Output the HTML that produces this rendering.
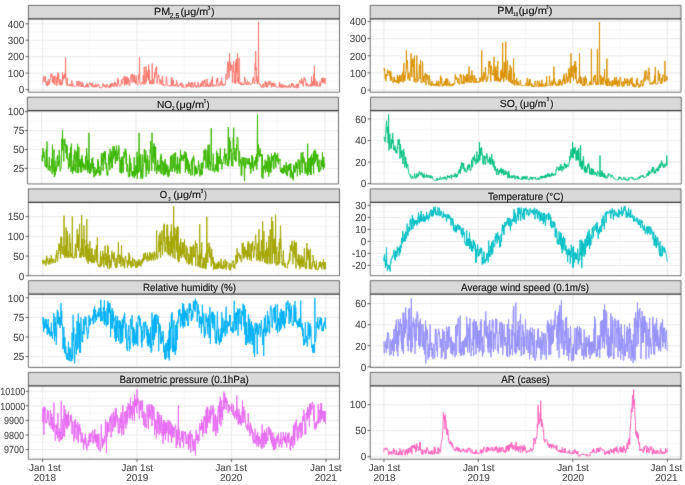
<!DOCTYPE html><html><head><meta charset="utf-8"><style>html,body{margin:0;padding:0;background:#fff;}svg{display:block;} text{font-family:"Liberation Sans", sans-serif;text-rendering:geometricPrecision;}</style></head><body>
<svg width="685" height="485" viewBox="0 0 685 485">
<defs><filter id="bl" x="0" y="0" width="685" height="485" filterUnits="userSpaceOnUse" color-interpolation-filters="sRGB"><feConvolveMatrix order="3" kernelMatrix="1 6 1 6 36 6 1 6 1" divisor="64" edgeMode="duplicate"/></filter><filter id="bt" x="0" y="0" width="685" height="485" filterUnits="userSpaceOnUse" color-interpolation-filters="sRGB"><feConvolveMatrix order="3" kernelMatrix="0 0 0 0 1 0 0 0 0" divisor="1" preserveAlpha="false" edgeMode="none"/></filter></defs><g filter="url(#bl)">
<rect x="0" y="0" width="685" height="485" fill="#fff"/>
<line x1="28.4" x2="339.5" y1="89.6" y2="89.6" stroke="#EBEBEB" stroke-width="1.1"/>
<line x1="28.4" x2="339.5" y1="81.36" y2="81.36" stroke="#F2F2F2" stroke-width="0.6"/>
<line x1="28.4" x2="339.5" y1="73.13" y2="73.13" stroke="#EBEBEB" stroke-width="1.1"/>
<line x1="28.4" x2="339.5" y1="64.89" y2="64.89" stroke="#F2F2F2" stroke-width="0.6"/>
<line x1="28.4" x2="339.5" y1="56.66" y2="56.66" stroke="#EBEBEB" stroke-width="1.1"/>
<line x1="28.4" x2="339.5" y1="48.43" y2="48.43" stroke="#F2F2F2" stroke-width="0.6"/>
<line x1="28.4" x2="339.5" y1="40.19" y2="40.19" stroke="#EBEBEB" stroke-width="1.1"/>
<line x1="28.4" x2="339.5" y1="31.96" y2="31.96" stroke="#F2F2F2" stroke-width="0.6"/>
<line x1="28.4" x2="339.5" y1="23.72" y2="23.72" stroke="#EBEBEB" stroke-width="1.1"/>
<line x1="42.6" x2="42.6" y1="18.95" y2="92.2" stroke="#EBEBEB" stroke-width="1.1"/>
<line x1="89.79" x2="89.79" y1="18.95" y2="92.2" stroke="#F2F2F2" stroke-width="0.6"/>
<line x1="136.98" x2="136.98" y1="18.95" y2="92.2" stroke="#EBEBEB" stroke-width="1.1"/>
<line x1="184.17" x2="184.17" y1="18.95" y2="92.2" stroke="#F2F2F2" stroke-width="0.6"/>
<line x1="231.36" x2="231.36" y1="18.95" y2="92.2" stroke="#EBEBEB" stroke-width="1.1"/>
<line x1="278.68" x2="278.68" y1="18.95" y2="92.2" stroke="#F2F2F2" stroke-width="0.6"/>
<line x1="326" x2="326" y1="18.95" y2="92.2" stroke="#EBEBEB" stroke-width="1.1"/>
<polyline fill="none" stroke="#F8766D" stroke-width="0.95" stroke-linejoin="round" points="42.6,81.75 42.86,82.34 43.12,81.58 43.38,77.81 43.63,76.42 43.89,76.44 44.15,76.55 44.41,81.61 44.67,81.32 44.93,78.72 45.19,76.06 45.44,76.36 45.7,82.58 45.96,81.39 46.22,81.94 46.48,84.5 46.74,85.9 47,85.28 47.25,85.76 47.51,86.03 47.77,81.74 48.03,85.37 48.29,79.5 48.55,80.04 48.81,80.09 49.06,79.09 49.32,82 49.58,84.28 49.84,82.04 50.1,80.1 50.36,79.47 50.62,78.43 50.87,74.99 51.13,73.27 51.39,75.11 51.65,77.02 51.91,74.03 52.17,78.19 52.43,82.29 52.68,79.1 52.94,82.88 53.2,77.35 53.46,76.16 53.72,83.34 53.98,77 54.24,81.1 54.49,76.42 54.75,85.06 55.01,75.99 55.27,76.27 55.53,76.12 55.79,76.35 56.05,78.52 56.3,81.86 56.56,81.22 56.82,85.98 57.08,76.94 57.34,82.36 57.6,76.2 57.86,72.65 58.11,79.33 58.37,79.17 58.63,73.44 58.89,82.34 59.15,84.31 59.41,83.24 59.67,84.25 59.92,79.04 60.18,84.95 60.44,85.15 60.7,79.83 60.96,84.55 61.22,85.24 61.48,83.58 61.73,81.8 61.99,82.42 62.25,84.61 62.51,72.26 62.77,80.96 63.03,76.23 63.29,77.25 63.54,79.41 63.8,74.98 64.06,75.8 64.32,78.33 64.58,73.83 64.84,73.11 65.1,75.44 65.35,78.44 65.61,57.21 65.87,78.14 66.13,83.58 66.39,83.63 66.65,85.31 66.91,84.8 67.16,77.81 67.42,82.39 67.68,84.73 67.94,85.71 68.2,85.53 68.46,85.44 68.72,84.52 68.97,85.85 69.23,86 69.49,85.37 69.75,86.08 70.01,85.08 70.27,83.82 70.53,85.55 70.78,84.77 71.04,85.5 71.3,86.13 71.56,84.68 71.82,80.46 72.08,83.69 72.34,86.26 72.59,86.22 72.85,83.72 73.11,85.39 73.37,85.87 73.63,86.22 73.89,86.07 74.15,86.45 74.4,86.47 74.66,86.5 74.92,86.5 75.18,86.18 75.44,86.08 75.7,86.58 75.96,86.56 76.21,86.06 76.47,85.47 76.73,83.34 76.99,80.98 77.25,85.25 77.51,85.72 77.77,86.06 78.03,85.92 78.28,81.39 78.54,84.33 78.8,84.88 79.06,86.58 79.32,81.28 79.58,81.35 79.84,81.49 80.09,84.34 80.35,83.76 80.61,84.23 80.87,82.2 81.13,87.08 81.39,84.75 81.65,86.65 81.9,86.68 82.16,85.2 82.42,82.4 82.68,86.64 82.94,83.66 83.2,85.88 83.46,86.55 83.71,86.62 83.97,86.93 84.23,87.42 84.49,87.47 84.75,87.32 85.01,87.13 85.27,86.01 85.52,85.51 85.78,87.39 86.04,87.48 86.3,86.45 86.56,84.13 86.82,84.75 87.08,86.8 87.33,83.3 87.59,86.57 87.85,85.13 88.11,87.37 88.37,85.94 88.63,85.67 88.89,84.98 89.14,84.82 89.4,82.8 89.66,82.73 89.92,84.74 90.18,83.75 90.44,84.83 90.7,84.94 90.95,84.82 91.21,83.42 91.47,86.44 91.73,86.54 91.99,85.59 92.25,82.71 92.51,83.79 92.76,86.27 93.02,87.44 93.28,86.36 93.54,85.28 93.8,84.83 94.06,86.66 94.32,86.46 94.57,86.76 94.83,85.14 95.09,87.03 95.35,87.52 95.61,86.78 95.87,83.75 96.13,84.84 96.38,86.03 96.64,86.84 96.9,86.78 97.16,86.84 97.42,85.64 97.68,86 97.94,84.49 98.19,85.64 98.45,84.89 98.71,84.3 98.97,84.56 99.23,87.54 99.49,87.72 99.75,87.17 100,87.53 100.26,87.63 100.52,87.17 100.78,87.78 101.04,87.81 101.3,87.82 101.56,87.84 101.81,87.35 102.07,87.03 102.33,87.19 102.59,86.48 102.85,83.46 103.11,83.49 103.37,85.65 103.62,85.72 103.88,85.92 104.14,87.06 104.4,85.86 104.66,84.64 104.92,85.92 105.18,85.21 105.43,86.7 105.69,86.55 105.95,87.94 106.21,86.49 106.47,86.95 106.73,84.21 106.99,83.95 107.24,84.77 107.5,84.55 107.76,85.05 108.02,86.82 108.28,87.53 108.54,86.8 108.8,86.55 109.05,86.01 109.31,85.32 109.57,87.84 109.83,87.66 110.09,85.51 110.35,84.26 110.61,87.35 110.86,84.29 111.12,86.49 111.38,85.86 111.64,83.24 111.9,86.21 112.16,85.65 112.42,83.41 112.67,84.07 112.93,85.43 113.19,86.32 113.45,86.93 113.71,86.65 113.97,83.4 114.23,82.19 114.48,82.91 114.74,86.59 115,85.32 115.26,85.4 115.52,82.38 115.78,82.19 116.04,84.3 116.29,85.95 116.55,86.47 116.81,85.56 117.07,86.5 117.33,85.06 117.59,81.66 117.85,77.73 118.1,82.97 118.36,80.14 118.62,81 118.88,84.74 119.14,85.49 119.4,85.49 119.66,86.34 119.91,86.25 120.17,86.12 120.43,85.74 120.69,86.08 120.95,86.02 121.21,82.12 121.47,79.63 121.72,82.8 121.98,84.07 122.24,83.95 122.5,84.05 122.76,83.01 123.02,78.31 123.28,78.06 123.53,79.57 123.79,79.37 124.05,76.39 124.31,77.44 124.57,85.69 124.83,81.7 125.09,76.68 125.34,77.17 125.6,83.17 125.86,84.12 126.12,76.63 126.38,76.82 126.64,84.99 126.9,82.59 127.15,76.81 127.41,81.96 127.67,83.07 127.93,84.08 128.19,78.01 128.45,80.97 128.71,81.61 128.96,80.22 129.22,85.96 129.48,85.81 129.74,85.19 130,83.24 130.26,79.1 130.52,77.29 130.77,78.3 131.03,74.48 131.29,74.46 131.55,74.89 131.81,79.98 132.07,82.6 132.33,78.41 132.58,74.11 132.84,74.07 133.1,76.75 133.36,76.3 133.62,76.51 133.88,82.25 134.14,76.9 134.39,74.79 134.65,81.52 134.91,79.75 135.17,82.89 135.43,81.22 135.69,83.81 135.95,77.45 136.2,75.62 136.46,83.21 136.72,83.26 136.98,84.19 137.24,85.18 137.5,84.74 137.76,84.96 138.01,83.73 138.27,81.3 138.53,74.63 138.79,75.64 139.05,77.07 139.31,78.93 139.57,57.21 139.82,83.35 140.08,83.4 140.34,84.38 140.6,84.29 140.86,84.6 141.12,84.63 141.38,83.71 141.63,84.21 141.89,83.57 142.15,81.91 142.41,83.5 142.67,83.7 142.93,83.83 143.19,75.04 143.44,77.66 143.7,78.86 143.96,84.5 144.22,67.01 144.48,80.05 144.74,83.75 145,84.3 145.25,83.04 145.51,83.36 145.77,81.1 146.03,66.37 146.29,82.16 146.55,72.26 146.81,70.4 147.06,74.64 147.32,77.46 147.58,75.4 147.84,72.19 148.1,73.36 148.36,80.41 148.62,64.73 148.88,79.26 149.13,72.64 149.39,69.82 149.65,83.76 149.91,81.82 150.17,80.29 150.43,84 150.69,83.78 150.94,80.73 151.2,83.98 151.46,84.24 151.72,84.18 151.98,82.18 152.24,63.59 152.5,83.73 152.75,82.28 153.01,78.81 153.27,81.11 153.53,84.14 153.79,83.83 154.05,82.17 154.31,79.85 154.56,72.28 154.82,78.17 155.08,74.04 155.34,70.12 155.6,68.21 155.86,68.06 156.12,71.49 156.37,76.03 156.63,66.33 156.89,80.32 157.15,83.8 157.41,79.89 157.67,79.25 157.93,76.08 158.18,76.55 158.44,76.65 158.7,74.69 158.96,76.01 159.22,78.23 159.48,81.44 159.74,80.07 159.99,84.4 160.25,83.13 160.51,83.39 160.77,80.78 161.03,79.41 161.29,82.14 161.55,83.55 161.8,84.69 162.06,84.3 162.32,75.96 162.58,76.25 162.84,80.58 163.1,85.47 163.36,83.85 163.61,85.06 163.87,85.63 164.13,85.24 164.39,85.26 164.65,85.76 164.91,85.59 165.17,85.42 165.42,85.45 165.68,84.44 165.94,83.96 166.2,79.51 166.46,76.37 166.72,76.86 166.98,81.33 167.23,85.41 167.49,85.64 167.75,86.04 168.01,85.76 168.27,86.09 168.53,86.01 168.79,85.8 169.04,85.84 169.3,85.49 169.56,86.18 169.82,86.11 170.08,85.24 170.34,86.09 170.6,86.31 170.85,86.31 171.11,85.35 171.37,78.41 171.63,85.71 171.89,77.25 172.15,80.95 172.41,84.96 172.66,85.71 172.92,84.56 173.18,79.94 173.44,85.34 173.7,85.19 173.96,86.33 174.22,86.6 174.47,86.66 174.73,85.57 174.99,85.69 175.25,84.21 175.51,85.45 175.77,86.05 176.03,86.3 176.28,86.31 176.54,80.31 176.8,82.76 177.06,82.09 177.32,84.39 177.58,86.02 177.84,85.65 178.09,86.71 178.35,86.69 178.61,87.02 178.87,85 179.13,85.17 179.39,84.9 179.65,84.57 179.9,83.75 180.16,84.13 180.42,85.48 180.68,83.62 180.94,84.26 181.2,82.59 181.46,86.44 181.71,86.98 181.97,87.03 182.23,87.34 182.49,87.31 182.75,83.68 183.01,84.87 183.27,87.38 183.52,87.48 183.78,87.51 184.04,87.53 184.3,87.53 184.56,87.51 184.82,87.27 185.08,87.42 185.33,87.11 185.59,87.39 185.85,87.09 186.11,84.16 186.37,84.16 186.63,87.3 186.89,86.96 187.14,86.9 187.4,86.42 187.66,84.63 187.92,85.44 188.18,86.86 188.44,83.88 188.7,83.02 188.95,81.84 189.21,82.71 189.47,84.53 189.73,85.06 189.99,86.87 190.25,82.99 190.51,83.72 190.76,84.99 191.02,87.49 191.28,86.61 191.54,87.18 191.8,82 192.06,84.16 192.32,82.7 192.57,82.88 192.83,85.34 193.09,87.53 193.35,87.38 193.61,85.97 193.87,86.75 194.13,83.67 194.38,84.59 194.64,83.71 194.9,81.84 195.16,86.16 195.42,86.79 195.68,87.17 195.94,86.69 196.19,87.19 196.45,86.73 196.71,85.2 196.97,87.49 197.23,87.26 197.49,86.95 197.75,87.27 198,82.1 198.26,83.43 198.52,85.76 198.78,84.32 199.04,85.53 199.3,87.17 199.56,87.17 199.81,87.31 200.07,86.76 200.33,86.48 200.59,86.3 200.85,83.29 201.11,86.9 201.37,82.25 201.62,82.42 201.88,83.65 202.14,85.9 202.4,80.71 202.66,81.89 202.92,86.17 203.18,85.97 203.43,86.19 203.69,87.06 203.95,81.07 204.21,83.1 204.47,82.74 204.73,79.95 204.99,79.64 205.24,81.87 205.5,86.75 205.76,86.5 206.02,84.83 206.28,86.89 206.54,85.47 206.8,82.63 207.05,78.97 207.31,81.49 207.57,85.94 207.83,85.63 208.09,86.64 208.35,84.57 208.61,86.46 208.86,85.3 209.12,84.73 209.38,86.67 209.64,86.37 209.9,86.27 210.16,82.28 210.42,86.53 210.67,85.96 210.93,84.66 211.19,83.59 211.45,79.67 211.71,81.01 211.97,86.35 212.23,86.23 212.48,76.59 212.74,85.85 213,86.39 213.26,86.18 213.52,86.39 213.78,86.17 214.04,84.59 214.29,85.74 214.55,85.54 214.81,86.18 215.07,86.18 215.33,85.99 215.59,85.17 215.85,84.92 216.1,86.27 216.36,85.55 216.62,80.03 216.88,81.39 217.14,78.21 217.4,81.61 217.66,77.79 217.91,80.6 218.17,86.05 218.43,86.33 218.69,85.95 218.95,86.23 219.21,86.2 219.47,85.72 219.72,84.17 219.98,84.08 220.24,81.95 220.5,81.68 220.76,83.15 221.02,85.56 221.28,81.08 221.54,77.6 221.79,81.1 222.05,84.38 222.31,82.72 222.57,85.11 222.83,85.6 223.09,85.45 223.35,84.2 223.6,84.39 223.86,85.44 224.12,85.36 224.38,84.59 224.64,84.42 224.9,85.15 225.16,83.16 225.41,83.42 225.67,80.64 225.93,73.97 226.19,74.25 226.45,74.84 226.71,75.21 226.97,79.61 227.22,69.05 227.48,66.84 227.74,61.49 228,62.45 228.26,73.45 228.52,69.48 228.78,63.23 229.03,77.98 229.29,64.33 229.55,53.33 229.81,65.1 230.07,62.03 230.33,63.67 230.59,70.94 230.84,69.87 231.1,66.65 231.36,65.46 231.62,68.3 231.88,64.73 232.14,66.33 232.4,73.41 232.65,82.91 232.91,71.05 233.17,72.63 233.43,65.12 233.69,61.31 233.95,70.43 234.21,71.2 234.46,83.2 234.72,80.94 234.98,80.86 235.24,83.46 235.5,62.45 235.76,83.21 236.02,76.12 236.27,58.9 236.53,66.49 236.79,72.3 237.05,66.63 237.31,72.92 237.57,53.33 237.83,81.79 238.08,77.66 238.34,83.54 238.6,82.02 238.86,67.79 239.12,57.89 239.38,72.21 239.64,75.46 239.89,83.89 240.15,82.7 240.41,83.16 240.67,84.8 240.93,84.44 241.19,82.5 241.45,84.92 241.7,84.97 241.96,83.1 242.22,83.45 242.48,85.09 242.74,85 243,83.78 243.26,84.96 243.51,84.23 243.77,83.92 244.03,84.74 244.29,83.82 244.55,77.79 244.81,76.93 245.07,78.69 245.32,81.58 245.58,83.7 245.84,84.32 246.1,84.71 246.36,84.83 246.62,84.12 246.88,82.44 247.13,84.58 247.39,82.84 247.65,80.82 247.91,82.14 248.17,84.31 248.43,84.76 248.69,84.77 248.94,82.54 249.2,82.43 249.46,83.93 249.72,82.77 249.98,84.46 250.24,84.62 250.5,84.53 250.75,84.63 251.01,84.6 251.27,84.64 251.53,84.61 251.79,83.95 252.05,83.92 252.31,83.2 252.56,83.36 252.82,79.33 253.08,80.53 253.34,76.93 253.6,78.91 253.86,82.69 254.12,82.59 254.37,83.11 254.63,83.36 254.89,83.9 255.15,63.14 255.41,69.97 255.67,51.05 255.93,70.61 256.18,67.48 256.44,81.19 256.7,79.29 256.96,76.04 257.22,84.08 257.48,83.92 257.74,79.59 257.99,81.35 258.25,81.81 258.51,22.1 258.77,82.1 259.03,84.1 259.29,83.43 259.55,83.98 259.8,84.91 260.06,85.1 260.32,84.1 260.58,85.52 260.84,86.23 261.1,85.64 261.36,87.34 261.61,87.29 261.87,87.27 262.13,86.11 262.39,86.49 262.65,84.38 262.91,87.52 263.17,86.78 263.42,85.21 263.68,83.69 263.94,85.41 264.2,87.29 264.46,86.96 264.72,86.67 264.98,86.73 265.23,81.34 265.49,84.6 265.75,81.99 266.01,82.74 266.27,85.3 266.53,87.33 266.79,82.05 267.04,84.6 267.3,84.22 267.56,86.94 267.82,87.16 268.08,86.07 268.34,82.49 268.6,82.33 268.85,81.59 269.11,84.71 269.37,83.97 269.63,80.88 269.89,81.74 270.15,81.37 270.41,81.42 270.66,82.11 270.92,85.5 271.18,85.33 271.44,87.46 271.7,82.84 271.96,84.53 272.22,83.97 272.47,85.3 272.73,82.99 272.99,85.01 273.25,86.87 273.51,83.78 273.77,82.79 274.03,83.3 274.28,85.39 274.54,86.3 274.8,83.48 275.06,85.33 275.32,86.31 275.58,86.15 275.84,85.57 276.09,86.39 276.35,87.23 276.61,87.32 276.87,87.24 277.13,87.25 277.39,87.26 277.65,87.52 277.9,87.52 278.16,87.46 278.42,87.46 278.68,87.46 278.94,87.51 279.2,87.16 279.46,82.01 279.71,86.64 279.97,84.74 280.23,86.29 280.49,87.27 280.75,87.48 281.01,83.85 281.27,86.23 281.52,87.43 281.78,86.02 282.04,86.69 282.3,87.4 282.56,85.52 282.82,84.22 283.08,87.43 283.33,87.07 283.59,87.07 283.85,87.35 284.11,85.07 284.37,86.32 284.63,87.15 284.89,86.97 285.14,86.06 285.4,85.43 285.66,87.2 285.92,87.52 286.18,87.43 286.44,87.37 286.7,86.12 286.95,86.22 287.21,87.53 287.47,86.61 287.73,87.16 287.99,86.98 288.25,85.87 288.51,86.59 288.76,87.48 289.02,85.01 289.28,84.47 289.54,85.63 289.8,86.31 290.06,87.53 290.32,87.51 290.57,87.77 290.83,87.7 291.09,85.01 291.35,86.18 291.61,83.14 291.87,86.9 292.13,84.92 292.39,84.27 292.64,83.12 292.9,85.02 293.16,84.02 293.42,83.9 293.68,86.61 293.94,87.93 294.2,85.98 294.45,86.11 294.71,85.86 294.97,86.24 295.23,87.41 295.49,88.05 295.75,87.27 296.01,85.74 296.26,84.47 296.52,84.77 296.78,84.34 297.04,88.16 297.3,87.37 297.56,83.84 297.82,86.74 298.07,87.76 298.33,84.13 298.59,86.55 298.85,84.26 299.11,82.18 299.37,81.98 299.63,80.52 299.88,81.97 300.14,81.17 300.4,82.04 300.66,82.27 300.92,83.73 301.18,82.04 301.44,78.78 301.69,78.25 301.95,82.81 302.21,83.56 302.47,80.73 302.73,81.05 302.99,86.25 303.25,86.37 303.5,83.04 303.76,79.58 304.02,80.18 304.28,77.08 304.54,78.3 304.8,78.58 305.06,80.22 305.31,79.14 305.57,79.83 305.83,83.81 306.09,85.01 306.35,86.2 306.61,83.15 306.87,85.89 307.12,83.81 307.38,85.42 307.64,85.72 307.9,84.56 308.16,86.14 308.42,86.32 308.68,86.29 308.93,86.39 309.19,86.24 309.45,85.45 309.71,84.63 309.97,86.2 310.23,86.15 310.49,84.17 310.74,84.93 311,84.51 311.26,86.25 311.52,76.13 311.78,86.38 312.04,86.34 312.3,84.77 312.55,85.59 312.81,81.41 313.07,84.93 313.33,84.99 313.59,74.16 313.85,77.68 314.11,85.82 314.36,65.87 314.62,84.89 314.88,78.46 315.14,81.17 315.4,85.27 315.66,86.3 315.92,86.3 316.17,85.71 316.43,85.93 316.69,80.83 316.95,83.86 317.21,82.43 317.47,84.69 317.73,86.35 317.98,86.08 318.24,85.76 318.5,85.11 318.76,85.82 319.02,86.38 319.28,86.36 319.54,86.36 319.79,82.38 320.05,81.33 320.31,86.25 320.57,86.07 320.83,83.43 321.09,82.2 321.35,81.19 321.6,78.04 321.86,80.22 322.12,79.32 322.38,83 322.64,79.51 322.9,77.73 323.16,77.67 323.41,80.51 323.67,82.72 323.93,80.84 324.19,79.6 324.45,81.87 324.71,78.49 324.97,84.09 325.22,78.81 325.48,79.24 325.74,78.33"/>
<rect x="28.4" y="5.4" width="311.1" height="13.55" fill="#D9D9D9"/>
<path d="M28.4,92.2V5.4H339.5V92.2Z" fill="none" stroke="#333" stroke-width="0.7"/>
<line x1="28.4" x2="339.5" y1="18.95" y2="18.95" stroke="#333" stroke-width="1.3"/>
<line x1="25.7" x2="28.4" y1="89.6" y2="89.6" stroke="#333" stroke-width="0.8"/>
<line x1="25.7" x2="28.4" y1="73.13" y2="73.13" stroke="#333" stroke-width="0.8"/>
<line x1="25.7" x2="28.4" y1="56.66" y2="56.66" stroke="#333" stroke-width="0.8"/>
<line x1="25.7" x2="28.4" y1="40.19" y2="40.19" stroke="#333" stroke-width="0.8"/>
<line x1="25.7" x2="28.4" y1="23.72" y2="23.72" stroke="#333" stroke-width="0.8"/>
<line x1="370.2" x2="681" y1="90.02" y2="90.02" stroke="#EBEBEB" stroke-width="1.1"/>
<line x1="370.2" x2="681" y1="81.45" y2="81.45" stroke="#F2F2F2" stroke-width="0.6"/>
<line x1="370.2" x2="681" y1="72.89" y2="72.89" stroke="#EBEBEB" stroke-width="1.1"/>
<line x1="370.2" x2="681" y1="64.32" y2="64.32" stroke="#F2F2F2" stroke-width="0.6"/>
<line x1="370.2" x2="681" y1="55.76" y2="55.76" stroke="#EBEBEB" stroke-width="1.1"/>
<line x1="370.2" x2="681" y1="47.2" y2="47.2" stroke="#F2F2F2" stroke-width="0.6"/>
<line x1="370.2" x2="681" y1="38.63" y2="38.63" stroke="#EBEBEB" stroke-width="1.1"/>
<line x1="370.2" x2="681" y1="30.07" y2="30.07" stroke="#F2F2F2" stroke-width="0.6"/>
<line x1="370.2" x2="681" y1="21.5" y2="21.5" stroke="#EBEBEB" stroke-width="1.1"/>
<line x1="383.9" x2="383.9" y1="18.95" y2="92.2" stroke="#EBEBEB" stroke-width="1.1"/>
<line x1="431.12" x2="431.12" y1="18.95" y2="92.2" stroke="#F2F2F2" stroke-width="0.6"/>
<line x1="478.35" x2="478.35" y1="18.95" y2="92.2" stroke="#EBEBEB" stroke-width="1.1"/>
<line x1="525.57" x2="525.57" y1="18.95" y2="92.2" stroke="#F2F2F2" stroke-width="0.6"/>
<line x1="572.79" x2="572.79" y1="18.95" y2="92.2" stroke="#EBEBEB" stroke-width="1.1"/>
<line x1="620.15" x2="620.15" y1="18.95" y2="92.2" stroke="#F2F2F2" stroke-width="0.6"/>
<line x1="667.5" x2="667.5" y1="18.95" y2="92.2" stroke="#EBEBEB" stroke-width="1.1"/>
<polyline fill="none" stroke="#D89000" stroke-width="0.95" stroke-linejoin="round" points="383.9,68.39 384.16,68.15 384.42,70.84 384.68,68.66 384.94,75.9 385.19,79.02 385.45,74.55 385.71,80.05 385.97,81.24 386.23,76.2 386.49,74.21 386.75,75.81 387.01,74.66 387.26,75.65 387.52,69.71 387.78,70.96 388.04,70.65 388.3,72.81 388.56,72.62 388.82,71.28 389.08,72.5 389.33,75.66 389.59,76.22 389.85,70.95 390.11,74.24 390.37,80.74 390.63,72.77 390.89,71.34 391.15,74.52 391.4,80.16 391.66,78.52 391.92,76.58 392.18,80.5 392.44,80.3 392.7,82.43 392.96,82.78 393.22,82.66 393.47,82.35 393.73,81.87 393.99,77.24 394.25,81.5 394.51,76.91 394.77,81.96 395.03,80.2 395.29,81.88 395.54,80.29 395.8,81.93 396.06,82.05 396.32,80.52 396.58,82.95 396.84,82.86 397.1,80.75 397.36,74.98 397.61,82.2 397.87,82.99 398.13,78.69 398.39,76.7 398.65,83.7 398.91,80.29 399.17,82.39 399.43,79.62 399.68,74.95 399.94,80.23 400.2,80.92 400.46,78.18 400.72,81.79 400.98,75.84 401.24,75.17 401.5,79.38 401.75,79.64 402.01,81.49 402.27,73.91 402.53,75.68 402.79,71.82 403.05,72.54 403.31,82.53 403.57,75.5 403.82,63.07 404.08,77.35 404.34,79.18 404.6,76.28 404.86,81.04 405.12,75.6 405.38,77.38 405.64,74.12 405.89,71.52 406.15,71.66 406.41,49.91 406.67,68.63 406.93,59.94 407.19,64.79 407.45,60.63 407.71,68.76 407.96,79.41 408.22,74.24 408.48,74.61 408.74,77.49 409,72.51 409.26,79.32 409.52,78.88 409.78,80.95 410.03,80.12 410.29,72.15 410.55,69.92 410.81,64.4 411.07,53.33 411.33,63.04 411.59,73.4 411.85,77.07 412.1,60.44 412.36,66.89 412.62,61.9 412.88,58.52 413.14,58.87 413.4,63.62 413.66,69.27 413.92,76.4 414.17,81.98 414.43,55.61 414.69,76.13 414.95,79.98 415.21,79.08 415.47,78.96 415.73,79.39 415.99,82.92 416.24,79.39 416.5,74.29 416.76,55.61 417.02,67.65 417.28,72.82 417.54,78.25 417.8,81.82 418.06,79.84 418.31,78.97 418.57,78.07 418.83,79.01 419.09,78.53 419.35,64.6 419.61,69.7 419.87,75.48 420.13,78.33 420.39,65.49 420.64,60.17 420.9,82.15 421.16,82.97 421.42,82.97 421.68,82.68 421.94,81.98 422.2,82.3 422.46,61.49 422.71,64.17 422.97,80.5 423.23,76.21 423.49,81.49 423.75,80.77 424.01,82.35 424.27,79.34 424.53,76.03 424.78,76.7 425.04,74.04 425.3,72.94 425.56,72.96 425.82,84.94 426.08,84.99 426.34,75.69 426.6,73.97 426.85,76.67 427.11,76.3 427.37,76.76 427.63,79.4 427.89,75 428.15,81.19 428.41,83.49 428.67,82.6 428.92,85.07 429.18,78.61 429.44,75.38 429.7,80.41 429.96,79.55 430.22,85.05 430.48,84.84 430.74,85.69 430.99,84.14 431.25,82.89 431.51,85.58 431.77,85.6 432.03,81.01 432.29,83.36 432.55,83.47 432.81,85.53 433.06,84.3 433.32,83.78 433.58,85.54 433.84,85.76 434.1,84.11 434.36,85.32 434.62,85.04 434.88,84.36 435.13,84.6 435.39,85.61 435.65,83.75 435.91,83.67 436.17,85.12 436.43,85.81 436.69,80.71 436.95,80.92 437.2,84.72 437.46,83.33 437.72,85.76 437.98,86.35 438.24,85.79 438.5,86.08 438.76,80.91 439.02,86.05 439.27,86.06 439.53,85.83 439.79,86.33 440.05,85.28 440.31,82.37 440.57,75.49 440.83,80.46 441.09,83.94 441.34,77.55 441.6,77.53 441.86,81.23 442.12,86.39 442.38,86.38 442.64,85.6 442.9,85.03 443.16,83.81 443.41,85.57 443.67,84.35 443.93,85.7 444.19,81.27 444.45,83.14 444.71,84.9 444.97,85.41 445.23,81.77 445.48,84.81 445.74,79.31 446,84.46 446.26,78.26 446.52,82.85 446.78,85.92 447.04,86.26 447.3,84.04 447.55,78.76 447.81,78.58 448.07,85.2 448.33,84.82 448.59,84.17 448.85,85.55 449.11,85.76 449.37,81.65 449.62,81.99 449.88,86.16 450.14,84.71 450.4,85.68 450.66,85.77 450.92,86.14 451.18,86.07 451.44,85.87 451.69,84 451.95,84.3 452.21,85.71 452.47,85.22 452.73,85.71 452.99,83.06 453.25,85.46 453.51,84.55 453.76,83.5 454.02,84.23 454.28,83.56 454.54,84.15 454.8,83.89 455.06,77.08 455.32,74.31 455.58,78.35 455.84,76.73 456.09,77.86 456.35,79.96 456.61,78.34 456.87,77.26 457.13,79.06 457.39,79.92 457.65,82.4 457.91,83.32 458.16,81.46 458.42,80.56 458.68,78.46 458.94,83.31 459.2,82.55 459.46,84.45 459.72,84.39 459.98,81.53 460.23,73.91 460.49,74.66 460.75,77.54 461.01,75.38 461.27,75.24 461.53,78.38 461.79,83.37 462.05,82.4 462.3,83.99 462.56,82.94 462.82,81.79 463.08,83.5 463.34,74.6 463.6,81.41 463.86,83.71 464.12,82.9 464.37,83.08 464.63,83.38 464.89,75.89 465.15,81.02 465.41,81.66 465.67,79.79 465.93,77.79 466.19,81.76 466.44,75.62 466.7,74.32 466.96,83.07 467.22,82.61 467.48,82.44 467.74,74.09 468,81.91 468.26,80.75 468.51,78.3 468.77,79.61 469.03,66.56 469.29,82.82 469.55,80.35 469.81,82.85 470.07,80.08 470.33,75.61 470.58,76.21 470.84,80.43 471.1,81.81 471.36,82.95 471.62,81.83 471.88,70.55 472.14,79.85 472.4,80.05 472.65,80.56 472.91,75.15 473.17,82.36 473.43,82.25 473.69,82.9 473.95,82.18 474.21,77.8 474.47,77.37 474.72,75.37 474.98,81.96 475.24,82.96 475.5,79.51 475.76,79.98 476.02,78.27 476.28,82.05 476.54,82.81 476.79,81.11 477.05,81.55 477.31,82.33 477.57,81.76 477.83,82.01 478.09,82 478.35,82.59 478.61,82.19 478.86,81.23 479.12,81.92 479.38,82.29 479.64,81.07 479.9,77.42 480.16,81.38 480.42,81.78 480.68,78.49 480.93,80.08 481.19,79.82 481.45,76.54 481.71,50.37 481.97,73.82 482.23,81.68 482.49,76.68 482.75,80.21 483,80.28 483.26,81.32 483.52,74.81 483.78,72.08 484.04,73.98 484.3,74.97 484.56,73.27 484.82,79.83 485.07,76.16 485.33,67.01 485.59,69.52 485.85,73.58 486.11,77.05 486.37,81.83 486.63,81.72 486.89,80.08 487.14,81.17 487.4,80.23 487.66,77.29 487.92,78.36 488.18,74.82 488.44,74.16 488.7,66 488.96,60.96 489.21,67.53 489.47,62.34 489.73,63.95 489.99,61.31 490.25,74.03 490.51,66.42 490.77,81.81 491.03,68.45 491.29,65.58 491.54,68.27 491.8,69.21 492.06,74.53 492.32,74.12 492.58,74.75 492.84,73.04 493.1,75.05 493.36,75.28 493.61,69.72 493.87,60.31 494.13,56.75 494.39,80.98 494.65,79.07 494.91,76.59 495.17,68.31 495.43,80.49 495.68,80.65 495.94,66.39 496.2,75.98 496.46,71.11 496.72,81.19 496.98,77.72 497.24,78.59 497.5,80.77 497.75,60.98 498.01,77.6 498.27,80.76 498.53,76.91 498.79,79.17 499.05,81.34 499.31,79.49 499.57,81.91 499.82,79.18 500.08,78.6 500.34,81.66 500.6,77.29 500.86,70.75 501.12,80.17 501.38,69.51 501.64,73.16 501.89,76.81 502.15,75.34 502.41,73.55 502.67,42.62 502.93,78.66 503.19,72.71 503.45,78.07 503.71,81.96 503.96,78.93 504.22,61.86 504.48,76.84 504.74,71.12 505,77.33 505.26,74.56 505.52,67.56 505.78,41.71 506.03,74.58 506.29,80.3 506.55,74.58 506.81,64.74 507.07,62.36 507.33,60.26 507.59,60.61 507.85,71.09 508.1,79.74 508.36,74.67 508.62,73.68 508.88,81.81 509.14,79.54 509.4,70.55 509.66,75.68 509.92,81.5 510.17,65.26 510.43,81.11 510.69,80.8 510.95,82.74 511.21,77.12 511.47,67.74 511.73,83.18 511.99,83.47 512.24,82.22 512.5,80.21 512.76,84.14 513.02,84.27 513.28,84.29 513.54,58.58 513.8,77.75 514.06,76.39 514.31,73.22 514.57,85.44 514.83,80.69 515.09,80.04 515.35,81.29 515.61,82.16 515.87,82.14 516.13,84.84 516.38,83.51 516.64,77.93 516.9,80.24 517.16,84.03 517.42,82.99 517.68,85.45 517.94,81.6 518.2,81.32 518.45,84.74 518.71,85.34 518.97,84.26 519.23,84.8 519.49,84.8 519.75,83.91 520.01,82.93 520.27,79.96 520.52,80.61 520.78,83.93 521.04,85.29 521.3,84.75 521.56,85.51 521.82,85.63 522.08,85.68 522.34,85.66 522.59,85.62 522.85,85.6 523.11,85.36 523.37,85.45 523.63,85.5 523.89,85.17 524.15,85.1 524.41,85.42 524.66,85.11 524.92,85.31 525.18,85.33 525.44,85.08 525.7,85.28 525.96,85.09 526.22,82.78 526.48,86.04 526.74,86.04 526.99,81.48 527.25,77.93 527.51,83.91 527.77,83.19 528.03,86.02 528.29,83.8 528.55,83.09 528.81,86.14 529.06,80.03 529.32,79.51 529.58,85.32 529.84,80.8 530.1,79 530.36,84.55 530.62,83.91 530.88,85.13 531.13,84.3 531.39,84.13 531.65,86.77 531.91,83.44 532.17,84.44 532.43,86.44 532.69,86.17 532.95,86.93 533.2,85.67 533.46,85.74 533.72,87.03 533.98,86.84 534.24,87.03 534.5,84.87 534.76,83.98 535.02,81.11 535.27,80.99 535.53,82.78 535.79,85.29 536.05,86.67 536.31,86.16 536.57,85.53 536.83,85.54 537.09,85.07 537.34,80.71 537.6,81.62 537.86,84.25 538.12,85.15 538.38,86.9 538.64,87.2 538.9,84.47 539.16,80.8 539.41,83.15 539.67,86.49 539.93,84.38 540.19,86.23 540.45,83.7 540.71,83.74 540.97,85.63 541.23,86.42 541.48,86.62 541.74,81.34 542,79.83 542.26,84.83 542.52,86.75 542.78,86.77 543.04,83.68 543.3,85.67 543.55,86.01 543.81,86.18 544.07,86.27 544.33,85.57 544.59,86.47 544.85,85.97 545.11,84.53 545.37,82.79 545.62,86.26 545.88,86.31 546.14,86.07 546.4,85.67 546.66,76.39 546.92,85.76 547.18,85.27 547.44,85.84 547.69,85.84 547.95,85.54 548.21,85.82 548.47,85.71 548.73,85.67 548.99,85.79 549.25,82.95 549.51,75.78 549.76,80.14 550.02,81.65 550.28,83.34 550.54,85.93 550.8,85.93 551.06,85.73 551.32,83.33 551.58,83.85 551.83,83.06 552.09,80.5 552.35,85.92 552.61,83.41 552.87,85.31 553.13,82.09 553.39,83.89 553.65,84.07 553.9,66.56 554.16,82.12 554.42,77.99 554.68,81.1 554.94,81.24 555.2,84.59 555.46,81.79 555.72,83.99 555.97,85.78 556.23,85.9 556.49,85.92 556.75,84.18 557.01,83.53 557.27,84.97 557.53,85.56 557.79,85.56 558.04,85.83 558.3,81.41 558.56,83.71 558.82,85.43 559.08,79.84 559.34,84.26 559.6,85.3 559.86,79.24 560.11,81.31 560.37,81.92 560.63,83.29 560.89,80.95 561.15,84.9 561.41,85.35 561.67,83.37 561.93,83.71 562.19,82.69 562.44,84.65 562.7,80 562.96,79.32 563.22,81.3 563.48,76.26 563.74,81.16 564,74.16 564.26,74.43 564.51,83.64 564.77,80.55 565.03,83.67 565.29,83.66 565.55,79.69 565.81,80.1 566.07,75.51 566.33,73.14 566.58,74.67 566.84,78.48 567.1,80.63 567.36,82.99 567.62,76.92 567.88,81.46 568.14,81.47 568.4,75.85 568.65,69.7 568.91,71.05 569.17,67.89 569.43,77.8 569.69,73.18 569.95,81.75 570.21,83.4 570.47,81.02 570.72,73.69 570.98,53.33 571.24,75.72 571.5,66.6 571.76,72.1 572.02,77.34 572.28,66.62 572.54,66.17 572.79,68.7 573.05,72.87 573.31,76.83 573.57,80.7 573.83,65.33 574.09,71.34 574.35,72.65 574.61,68.56 574.86,61.37 575.12,70.45 575.38,79.04 575.64,61.31 575.9,72.1 576.16,66.94 576.42,80.99 576.68,80.17 576.93,82.9 577.19,81.49 577.45,83.63 577.71,81.62 577.97,82.88 578.23,81.89 578.49,80.18 578.75,81.65 579,78.12 579.26,80.31 579.52,53.33 579.78,81.14 580.04,83.3 580.3,76.19 580.56,83.37 580.82,82.55 581.07,79.61 581.33,84.32 581.59,79.85 581.85,77.66 582.11,83.41 582.37,84.01 582.63,85.41 582.89,85.78 583.14,85.19 583.4,85.85 583.66,84.96 583.92,77.65 584.18,80.76 584.44,85.75 584.7,78.23 584.96,85.33 585.21,75.73 585.47,75.84 585.73,82.27 585.99,81.96 586.25,78.21 586.51,82.45 586.77,83.96 587.03,84 587.28,85.4 587.54,85.32 587.8,85.26 588.06,85.27 588.32,85.26 588.58,84.93 588.84,85.17 589.1,85.19 589.35,85.15 589.61,82.15 589.87,81.51 590.13,81.33 590.39,83.42 590.65,84.68 590.91,82.45 591.17,84.32 591.42,48.78 591.68,84.88 591.94,84.79 592.2,84.68 592.46,84.41 592.72,84.64 592.98,84.59 593.24,83.34 593.49,77.7 593.75,76.61 594.01,81.65 594.27,81.3 594.53,80.42 594.79,74.81 595.05,77.15 595.31,74.98 595.56,78.31 595.82,84.63 596.08,84.35 596.34,81.88 596.6,84.81 596.86,83.56 597.12,84.31 597.38,48.78 597.64,84.92 597.89,83.57 598.15,82.92 598.41,83.94 598.67,84.32 598.93,78.14 599.19,75.92 599.45,22.1 599.71,75.24 599.96,78.98 600.22,83.16 600.48,85.18 600.74,75.2 601,76.13 601.26,76.15 601.52,81.08 601.78,84.31 602.03,79.38 602.29,77.99 602.55,80.56 602.81,80.97 603.07,85.04 603.33,77.01 603.59,80.48 603.85,81.54 604.1,76.04 604.36,75.58 604.62,69.29 604.88,79.64 605.14,81.14 605.4,84.55 605.66,84.7 605.92,79.64 606.17,83.37 606.43,81.89 606.69,85.77 606.95,58.58 607.21,85.6 607.47,86.05 607.73,79.16 607.99,82.6 608.24,82.03 608.5,79.71 608.76,78.35 609.02,85.97 609.28,83.98 609.54,81.34 609.8,85.85 610.06,85.05 610.31,84.23 610.57,82.75 610.83,81.67 611.09,83.1 611.35,85.5 611.61,86.48 611.87,85.25 612.13,80.27 612.38,81.17 612.64,84.27 612.9,86.39 613.16,80.59 613.42,81.13 613.68,84.77 613.94,85.06 614.2,81.98 614.45,77.2 614.71,83.64 614.97,77.65 615.23,84.15 615.49,85.13 615.75,83.46 616.01,81.3 616.27,84.33 616.52,77.31 616.78,79.38 617.04,85.84 617.3,86.65 617.56,81.2 617.82,86.25 618.08,84.46 618.34,82.36 618.59,80.04 618.85,80.2 619.11,82.71 619.37,86.27 619.63,84.7 619.89,77.76 620.15,78.14 620.41,77.13 620.66,78.06 620.92,80.67 621.18,81.83 621.44,85.39 621.7,81.91 621.96,82.88 622.22,86.84 622.48,86.84 622.73,86.36 622.99,84.57 623.25,81.29 623.51,83.41 623.77,86.58 624.03,85.62 624.29,85.16 624.55,78.17 624.8,79.73 625.06,79.03 625.32,79.63 625.58,83.7 625.84,82.76 626.1,81.25 626.36,81.67 626.62,83.08 626.87,81.56 627.13,78.32 627.39,85.74 627.65,80.17 627.91,79.28 628.17,82.56 628.43,82.78 628.69,81.43 628.94,80.83 629.2,85.93 629.46,84.12 629.72,81.41 629.98,84.41 630.24,79.06 630.5,80.12 630.76,80.97 631.01,78.69 631.27,78.15 631.53,83.81 631.79,84.01 632.05,77.47 632.31,83.89 632.57,86.06 632.83,86.2 633.09,86.48 633.34,83.13 633.6,85.21 633.86,87.16 634.12,86.55 634.38,87.06 634.64,84.08 634.9,87.04 635.16,87.21 635.41,87.24 635.67,87.03 635.93,86.03 636.19,84.75 636.45,80.06 636.71,85.88 636.97,81.44 637.23,77.83 637.48,81.14 637.74,84.38 638,83.08 638.26,83.85 638.52,85.82 638.78,87.46 639.04,86.76 639.3,85.81 639.55,87.31 639.81,85.37 640.07,84.18 640.33,86.4 640.59,84.14 640.85,84.21 641.11,80.47 641.37,83.15 641.62,82.59 641.88,80.27 642.14,86.04 642.4,86.39 642.66,84.16 642.92,85.92 643.18,84.05 643.44,85.27 643.69,83.38 643.95,78.5 644.21,81.48 644.47,76.06 644.73,71.46 644.99,71.54 645.25,78.01 645.51,76.05 645.76,80.58 646.02,70.27 646.28,71.13 646.54,72.73 646.8,71.86 647.06,73.81 647.32,78.7 647.58,78.22 647.83,76.54 648.09,80.47 648.35,74.32 648.61,72.89 648.87,67.7 649.13,73.86 649.39,72.7 649.65,75.88 649.9,82.36 650.16,84.53 650.42,83.23 650.68,83.35 650.94,83.32 651.2,84.21 651.46,83.12 651.72,83.32 651.97,82.06 652.23,84.53 652.49,84.15 652.75,83.06 653.01,83.48 653.27,83.73 653.53,81.51 653.79,83.25 654.04,80.39 654.3,83.24 654.56,75.42 654.82,76.77 655.08,80.89 655.34,67.01 655.6,83.31 655.86,84.56 656.11,84.39 656.37,84.39 656.63,84.51 656.89,84.39 657.15,82.97 657.41,83.38 657.67,83.6 657.93,82.98 658.18,74.05 658.44,70.29 658.7,79.27 658.96,79.63 659.22,80.3 659.48,80.8 659.74,73.45 660,79.92 660.25,82.1 660.51,83.87 660.77,83.49 661.03,83.2 661.29,83.59 661.55,77.91 661.81,83.25 662.07,83.51 662.32,81.11 662.58,76.3 662.84,74.86 663.1,75.62 663.36,74.98 663.62,74.88 663.88,76.37 664.14,80.54 664.39,81.98 664.65,78.34 664.91,60.86 665.17,77.44 665.43,81.14 665.69,81.18 665.95,80.96 666.21,77.84 666.46,75.96 666.72,77.27 666.98,80.36 667.24,77.03"/>
<rect x="370.2" y="5.4" width="310.8" height="13.55" fill="#D9D9D9"/>
<path d="M370.2,92.2V5.4H681V92.2Z" fill="none" stroke="#333" stroke-width="0.7"/>
<line x1="370.2" x2="681" y1="18.95" y2="18.95" stroke="#333" stroke-width="1.3"/>
<line x1="367.5" x2="370.2" y1="90.02" y2="90.02" stroke="#333" stroke-width="0.8"/>
<line x1="367.5" x2="370.2" y1="72.89" y2="72.89" stroke="#333" stroke-width="0.8"/>
<line x1="367.5" x2="370.2" y1="55.76" y2="55.76" stroke="#333" stroke-width="0.8"/>
<line x1="367.5" x2="370.2" y1="38.63" y2="38.63" stroke="#333" stroke-width="0.8"/>
<line x1="367.5" x2="370.2" y1="21.5" y2="21.5" stroke="#333" stroke-width="0.8"/>
<line x1="27.4" x2="338.5" y1="177.89" y2="177.89" stroke="#F2F2F2" stroke-width="0.6"/>
<line x1="27.4" x2="338.5" y1="168.43" y2="168.43" stroke="#EBEBEB" stroke-width="1.1"/>
<line x1="27.4" x2="338.5" y1="158.97" y2="158.97" stroke="#F2F2F2" stroke-width="0.6"/>
<line x1="27.4" x2="338.5" y1="149.51" y2="149.51" stroke="#EBEBEB" stroke-width="1.1"/>
<line x1="27.4" x2="338.5" y1="140.05" y2="140.05" stroke="#F2F2F2" stroke-width="0.6"/>
<line x1="27.4" x2="338.5" y1="130.59" y2="130.59" stroke="#EBEBEB" stroke-width="1.1"/>
<line x1="27.4" x2="338.5" y1="121.13" y2="121.13" stroke="#F2F2F2" stroke-width="0.6"/>
<line x1="27.4" x2="338.5" y1="111.67" y2="111.67" stroke="#EBEBEB" stroke-width="1.1"/>
<line x1="41.6" x2="41.6" y1="110.7" y2="183.95" stroke="#EBEBEB" stroke-width="1.1"/>
<line x1="88.79" x2="88.79" y1="110.7" y2="183.95" stroke="#F2F2F2" stroke-width="0.6"/>
<line x1="135.98" x2="135.98" y1="110.7" y2="183.95" stroke="#EBEBEB" stroke-width="1.1"/>
<line x1="183.17" x2="183.17" y1="110.7" y2="183.95" stroke="#F2F2F2" stroke-width="0.6"/>
<line x1="230.36" x2="230.36" y1="110.7" y2="183.95" stroke="#EBEBEB" stroke-width="1.1"/>
<line x1="277.68" x2="277.68" y1="110.7" y2="183.95" stroke="#F2F2F2" stroke-width="0.6"/>
<line x1="325" x2="325" y1="110.7" y2="183.95" stroke="#EBEBEB" stroke-width="1.1"/>
<polyline fill="none" stroke="#39B600" stroke-width="0.95" stroke-linejoin="round" points="41.86,160.65 42.12,156.81 42.38,155.06 42.63,161.67 42.89,148.09 43.15,149.65 43.41,156.51 43.67,157.27 43.93,151.59 44.19,154.53 44.44,158.7 44.7,159.36 44.96,166.23 45.22,166.45 45.48,166.94 45.74,166.14 46,157.95 46.25,149.34 46.51,167.94 46.77,163.88 47.03,141.48 47.29,164.04 47.55,166.17 47.81,164.89 48.06,168.95 48.32,170.31 48.58,169.91 48.84,169.05 49.1,160.49 49.36,156.92 49.62,168.6 49.87,167.9 50.13,171.34 50.39,168.52 50.65,166.15 50.91,166.51 51.17,166.27 51.43,166.97 51.68,158.7 51.94,169.66 52.2,174.08 52.46,144.65 52.72,158.62 52.98,167.63 53.24,171.68 53.49,166.57 53.75,164.82 54.01,149.61 54.27,176.98 54.53,173.7 54.79,168.83 55.05,160.59 55.3,175.31 55.56,169.49 55.82,169.67 56.08,166.34 56.34,171.43 56.6,168.51 56.86,163.46 57.11,157.04 57.37,159.5 57.63,155.17 57.89,166.64 58.15,161 58.41,165.35 58.67,163.14 58.92,164.93 59.18,150.08 59.44,161.73 59.7,156.02 59.96,169.4 60.22,171.35 60.48,170.64 60.73,169.44 60.99,168.78 61.25,162.72 61.51,160.05 61.77,138.74 62.03,142.94 62.29,150.44 62.54,130.06 62.8,142.11 63.06,139.22 63.32,149.27 63.58,153.74 63.84,161.52 64.1,143.18 64.35,141.88 64.61,145.68 64.87,138.83 65.13,144.75 65.39,144.28 65.65,145.22 65.91,153.2 66.16,147.22 66.42,144.51 66.68,158.2 66.94,148.33 67.2,145.69 67.46,159.25 67.72,159.59 67.97,158.06 68.23,160.51 68.49,168.89 68.75,163.4 69.01,165.41 69.27,154.74 69.53,152.99 69.78,167.22 70.04,164.45 70.3,159.3 70.56,146.99 70.82,165.32 71.08,172.01 71.34,143.61 71.59,158.02 71.85,163.41 72.11,169.31 72.37,167.23 72.63,173.86 72.89,170.54 73.15,163.51 73.4,160.44 73.66,170.86 73.92,154.75 74.18,155.22 74.44,159.11 74.7,149.62 74.96,170.45 75.21,163.95 75.47,172.16 75.73,163.37 75.99,150.85 76.25,160.43 76.51,152.79 76.77,164.01 77.03,173.06 77.28,170.86 77.54,143.82 77.8,163.12 78.06,169.61 78.32,173.11 78.58,168.75 78.84,146.84 79.09,159.79 79.35,166.6 79.61,161.68 79.87,159.07 80.13,164.65 80.39,172.4 80.65,160.25 80.9,167.31 81.16,164.14 81.42,158.37 81.68,172.29 81.94,155.16 82.2,165.38 82.46,158.83 82.71,166.62 82.97,167.75 83.23,162.7 83.49,167.14 83.75,170.43 84.01,169.31 84.27,165.21 84.52,164.52 84.78,166.02 85.04,168.36 85.3,163.71 85.56,156.36 85.82,170.31 86.08,167.48 86.33,166.21 86.59,148.11 86.85,153.09 87.11,154.87 87.37,170.05 87.63,160.41 87.89,172.67 88.14,169.4 88.4,160.25 88.66,169.04 88.92,132.8 89.18,154.59 89.44,165.48 89.7,173.65 89.95,169.02 90.21,170.29 90.47,173.53 90.73,163.24 90.99,171.78 91.25,167.03 91.51,166.9 91.76,158.71 92.02,160.93 92.28,168.54 92.54,159.76 92.8,157.39 93.06,167.94 93.32,173.11 93.57,163.28 93.83,177.25 94.09,176.13 94.35,176.03 94.61,176.27 94.87,167.02 95.13,167.2 95.38,175.69 95.64,172.31 95.9,171.45 96.16,171.31 96.42,174.34 96.68,170 96.94,168.83 97.19,173.02 97.45,171.54 97.71,159.81 97.97,159.11 98.23,168.33 98.49,161.07 98.75,173.45 99,172.73 99.26,170.07 99.52,175.6 99.78,175.86 100.04,166.36 100.3,173.04 100.56,174.62 100.81,174.89 101.07,171.42 101.33,153.49 101.59,163.71 101.85,165.29 102.11,161.74 102.37,158.57 102.62,162.14 102.88,152.84 103.14,171 103.4,158.2 103.66,153.27 103.92,158.81 104.18,153.48 104.43,151.42 104.69,159.42 104.95,154.53 105.21,163.88 105.47,151.22 105.73,162.56 105.99,166.77 106.24,168.71 106.5,163.32 106.76,173.66 107.02,174.76 107.28,175.47 107.54,171.36 107.8,175.37 108.05,167.63 108.31,165.8 108.57,153.92 108.83,158.24 109.09,164.73 109.35,160.11 109.61,157.1 109.86,170.08 110.12,148.81 110.38,161.21 110.64,156.12 110.9,157.29 111.16,163.06 111.42,151.04 111.67,162.55 111.93,167.89 112.19,159.57 112.45,168.14 112.71,154.28 112.97,146.18 113.23,159.21 113.48,150.1 113.74,148.21 114,156.46 114.26,146.1 114.52,146.91 114.78,156.09 115.04,151.04 115.29,163.79 115.55,154.51 115.81,150.64 116.07,153.57 116.33,149.5 116.59,145.53 116.85,161.16 117.1,153.39 117.36,160.6 117.62,157.13 117.88,159.29 118.14,150.42 118.4,154.41 118.66,146.11 118.91,145.49 119.17,148.86 119.43,161.88 119.69,162.32 119.95,172.32 120.21,170.58 120.47,159.96 120.72,173 120.98,171.64 121.24,157.33 121.5,173.88 121.76,172.76 122.02,171.03 122.28,156.58 122.53,165.87 122.79,162.8 123.05,170.79 123.31,172.63 123.57,165.75 123.83,151.95 124.09,151.74 124.34,157.77 124.6,157.84 124.86,152.33 125.12,148.58 125.38,148.86 125.64,154.38 125.9,149.85 126.15,164.13 126.41,153.23 126.67,162.66 126.93,171.94 127.19,169.57 127.45,164.03 127.71,168.23 127.96,168.94 128.22,173.04 128.48,177.04 128.74,177.22 129,175.36 129.26,172.78 129.52,154.5 129.77,176.49 130.03,158.11 130.29,167.82 130.55,171.06 130.81,162.75 131.07,165.03 131.33,170.69 131.58,172.48 131.84,171.91 132.1,175.92 132.36,171.24 132.62,175.47 132.88,177.2 133.14,176.92 133.39,171.4 133.65,175.59 133.91,174.19 134.17,157.34 134.43,177.83 134.69,173.95 134.95,167.73 135.2,172.09 135.46,175.74 135.72,166.86 135.98,165.41 136.24,174.24 136.5,165.97 136.76,164.79 137.01,151.79 137.27,178.79 137.53,168.47 137.79,156.77 138.05,167.69 138.31,172.96 138.57,167.9 138.82,161.12 139.08,132.8 139.34,156.26 139.6,164.13 139.86,171.9 140.12,154.11 140.38,159.55 140.63,163.05 140.89,178.75 141.15,171.91 141.41,169.81 141.67,176.56 141.93,164.39 142.19,154.6 142.44,178.9 142.7,177.72 142.96,177.44 143.22,167.74 143.48,167.41 143.74,162.7 144,155.67 144.25,150.53 144.51,148.98 144.77,162.31 145.03,155.85 145.29,162.91 145.55,159.13 145.81,150.4 146.06,176.68 146.32,161.94 146.58,170.1 146.84,158.75 147.1,170.32 147.36,161.09 147.62,155.29 147.88,164.45 148.13,168.59 148.39,174.01 148.65,173.58 148.91,173.47 149.17,160.22 149.43,171.21 149.69,166.54 149.94,155.82 150.2,149.36 150.46,152.92 150.72,141.02 150.98,149.28 151.24,157.59 151.5,160.19 151.75,170.89 152.01,132.8 152.27,153.34 152.53,153.38 152.79,161.63 153.05,162.05 153.31,163.07 153.56,146.21 153.82,154.7 154.08,143.41 154.34,157.87 154.6,146.77 154.86,171.15 155.12,161.65 155.37,164.51 155.63,146.61 155.89,160.12 156.15,165.27 156.41,174.13 156.67,173.38 156.93,173.06 157.18,166.4 157.44,169.93 157.7,160.1 157.96,168.33 158.22,170.42 158.48,164.94 158.74,167.69 158.99,171.72 159.25,170.68 159.51,165.23 159.77,168.52 160.03,166.21 160.29,158.53 160.55,156.37 160.8,173.53 161.06,153.82 161.32,159.19 161.58,157.74 161.84,171.96 162.1,174.46 162.36,170.32 162.61,160.85 162.87,164.93 163.13,162.58 163.39,165.52 163.65,175.51 163.91,175.6 164.17,171.52 164.42,161.32 164.68,172.14 164.94,174.61 165.2,159.12 165.46,173.94 165.72,163.33 165.98,168.56 166.23,172.31 166.49,168.11 166.75,165.05 167.01,164.53 167.27,175.35 167.53,174.76 167.79,165.59 168.04,172.56 168.3,177.19 168.56,171.74 168.82,169.78 169.08,175.73 169.34,169.11 169.6,169.4 169.85,167.57 170.11,166.86 170.37,159.88 170.63,156.52 170.89,171.51 171.15,163.83 171.41,155.29 171.66,163.39 171.92,168.5 172.18,169.95 172.44,172 172.7,167.93 172.96,154.37 173.22,168.1 173.47,163.14 173.73,157.26 173.99,159.64 174.25,153.18 174.51,166.29 174.77,172.15 175.03,167.91 175.28,163.56 175.54,152.06 175.8,158.15 176.06,169.68 176.32,166.19 176.58,164.76 176.84,171.7 177.09,173.47 177.35,174.02 177.61,156.71 177.87,169.77 178.13,168.58 178.39,166.44 178.65,164.55 178.9,169.45 179.16,172.14 179.42,158.59 179.68,159.04 179.94,173.85 180.2,167.09 180.46,149.89 180.71,154.89 180.97,158.84 181.23,161.1 181.49,154.81 181.75,158.02 182.01,159.53 182.27,157.43 182.52,159.03 182.78,155.67 183.04,155.15 183.3,161.22 183.56,155.99 183.82,157.49 184.08,154 184.33,152.74 184.59,151.51 184.85,158.41 185.11,154.09 185.37,172.8 185.63,162.27 185.89,151.92 186.14,166.81 186.4,153.87 186.66,169.21 186.92,161.13 187.18,163.13 187.44,157.9 187.7,163.1 187.95,171.39 188.21,160.42 188.47,168.56 188.73,174.02 188.99,170.38 189.25,163.54 189.51,170.9 189.76,170.84 190.02,168.81 190.28,171.82 190.54,170.49 190.8,175.7 191.06,170.76 191.32,161.14 191.57,166.37 191.83,159.66 192.09,160.22 192.35,175.14 192.61,166.46 192.87,157.5 193.13,161.27 193.38,160.2 193.64,155.59 193.9,157.82 194.16,158.2 194.42,176.08 194.68,176.12 194.94,173.2 195.19,166.53 195.45,173.39 195.71,165.77 195.97,167.1 196.23,174.28 196.49,173.53 196.75,167.76 197,174.06 197.26,173.35 197.52,169.89 197.78,170.55 198.04,169.7 198.3,164.56 198.56,160.38 198.81,167.27 199.07,164.81 199.33,170.33 199.59,174.53 199.85,176.35 200.11,169.35 200.37,170.04 200.62,175.08 200.88,174.14 201.14,162.95 201.4,166.97 201.66,175.14 201.92,171.12 202.18,174.29 202.43,164.61 202.69,162.45 202.95,168.32 203.21,165.88 203.47,160.28 203.73,155.37 203.99,150.25 204.24,153.12 204.5,150.95 204.76,160.45 205.02,154.35 205.28,148.83 205.54,159.77 205.8,163.77 206.05,168.38 206.31,164.24 206.57,163.79 206.83,156.97 207.09,150.15 207.35,165.16 207.61,167.38 207.86,154.11 208.12,144.74 208.38,169.98 208.64,155.7 208.9,161.21 209.16,144.65 209.42,163.72 209.67,161.4 209.93,164 210.19,170.69 210.45,161.96 210.71,166.35 210.97,158.74 211.23,128.24 211.48,155.8 211.74,160.79 212,164.65 212.26,171.01 212.52,171.12 212.78,169.72 213.04,166.5 213.29,153.72 213.55,161.53 213.81,170.19 214.07,168.73 214.33,172.32 214.59,171.27 214.85,171.71 215.1,169.44 215.36,164.35 215.62,168.58 215.88,167.05 216.14,170.75 216.4,169.61 216.66,150.61 216.91,161.94 217.17,164.2 217.43,171.53 217.69,153.14 217.95,169.86 218.21,172.13 218.47,159.93 218.72,156.58 218.98,157.93 219.24,159.02 219.5,163.64 219.76,156.15 220.02,159.04 220.28,148.18 220.54,157.76 220.79,164.26 221.05,160.66 221.31,159.48 221.57,162.26 221.83,169.22 222.09,168.14 222.35,164.66 222.6,162.5 222.86,162.65 223.12,163.48 223.38,160.54 223.64,158.38 223.9,156.13 224.16,157.39 224.41,156.69 224.67,148.54 224.93,161.39 225.19,164.55 225.45,161.92 225.71,153.95 225.97,160.12 226.22,153.64 226.48,158.84 226.74,159.37 227,159.27 227.26,165.86 227.52,160.72 227.78,165.33 228.03,158.16 228.29,127.1 228.55,166.34 228.81,162.43 229.07,151.66 229.33,137.38 229.59,160.3 229.84,149.03 230.1,140.62 230.36,141.64 230.62,146.94 230.88,151.82 231.14,148.81 231.4,160.43 231.65,165.62 231.91,152.91 232.17,159.17 232.43,165.15 232.69,166.21 232.95,166.52 233.21,137.82 233.46,148.67 233.72,127.78 233.98,153.9 234.24,151.57 234.5,159.75 234.76,158.81 235.02,148.18 235.27,156.45 235.53,160.99 235.79,156.94 236.05,161.75 236.31,158.75 236.57,144.78 236.83,150.39 237.08,136.87 237.34,137.14 237.6,137.79 237.86,138.05 238.12,144.95 238.38,155.82 238.64,156.45 238.89,162.1 239.15,166.59 239.41,150.84 239.67,154.75 239.93,161.1 240.19,163.4 240.45,159.29 240.7,161.01 240.96,160.88 241.22,175.77 241.48,162.5 241.74,175.32 242,157.29 242.26,157.31 242.51,161.26 242.77,160.97 243.03,165.26 243.29,166.17 243.55,157.32 243.81,159.08 244.07,162.44 244.32,175.29 244.58,180.88 244.84,157.46 245.1,160.33 245.36,160.55 245.62,168.04 245.88,165.08 246.13,158.44 246.39,159.63 246.65,157.97 246.91,158.73 247.17,164.18 247.43,162.1 247.69,163.39 247.94,159.12 248.2,164.49 248.46,162.86 248.72,158.44 248.98,164.18 249.24,158.46 249.5,165.49 249.75,165.79 250.01,168.31 250.27,169.21 250.53,162.46 250.79,173.69 251.05,169.84 251.31,167.65 251.56,161.73 251.82,155.02 252.08,156.7 252.34,168.23 252.6,156.59 252.86,157.03 253.12,164.2 253.37,171.08 253.63,168.23 253.89,165.54 254.15,164.43 254.41,162.08 254.67,160.7 254.93,166.46 255.18,165.36 255.44,163.33 255.7,156.99 255.96,163.15 256.22,164.81 256.48,154.07 256.74,169.74 256.99,168.8 257.25,144.45 257.51,114.56 257.77,161.7 258.03,152.7 258.29,154.23 258.55,144.4 258.8,149.52 259.06,155.05 259.32,152.69 259.58,156.94 259.84,148.95 260.1,148.64 260.36,150.57 260.61,153.14 260.87,156.18 261.13,154.04 261.39,155.81 261.65,155 261.91,177.42 262.17,161.47 262.42,154.59 262.68,166.23 262.94,178.81 263.2,171.93 263.46,173.21 263.72,166.04 263.98,168.17 264.23,165.85 264.49,165.38 264.75,169.55 265.01,159.67 265.27,167.12 265.53,172.62 265.79,170.83 266.04,164.68 266.3,161.65 266.56,168.59 266.82,160.86 267.08,169.12 267.34,171.91 267.6,161.74 267.85,154.76 268.11,154.67 268.37,157.14 268.63,176.56 268.89,173.26 269.15,172.63 269.41,171.33 269.66,156.8 269.92,172.4 270.18,165.93 270.44,165.27 270.7,160.86 270.96,172.55 271.22,163.57 271.47,153.71 271.73,167.36 271.99,158.32 272.25,156.31 272.51,160.62 272.77,159.22 273.03,156.5 273.28,157.24 273.54,155.24 273.8,169.13 274.06,164.03 274.32,157.4 274.58,152.7 274.84,155.16 275.09,152.46 275.35,153.65 275.61,159.69 275.87,167.6 276.13,154.89 276.39,156.85 276.65,160.33 276.9,155.37 277.16,160.52 277.42,161.11 277.68,153.34 277.94,161.9 278.2,160.82 278.46,164.33 278.71,158.51 278.97,160.18 279.23,159.67 279.49,160.91 279.75,160.86 280.01,159.12 280.27,169.41 280.52,172.09 280.78,171.47 281.04,169.41 281.3,169.97 281.56,172.79 281.82,167.78 282.08,170.83 282.33,171.69 282.59,173.36 282.85,167.96 283.11,170.67 283.37,173.58 283.63,167.26 283.89,165.03 284.14,168.55 284.4,172.21 284.66,167.88 284.92,165.48 285.18,170.1 285.44,173.21 285.7,173.25 285.95,172.54 286.21,162.01 286.47,175.4 286.73,171.91 286.99,165.4 287.25,176.04 287.51,175.66 287.76,170.78 288.02,171.09 288.28,165.45 288.54,170.99 288.8,168.31 289.06,164.12 289.32,166.26 289.57,169.83 289.83,163.73 290.09,166.19 290.35,177.57 290.61,166.36 290.87,163.52 291.13,175.37 291.39,171.42 291.64,170.03 291.9,177.58 292.16,176.15 292.42,178.39 292.68,172.34 292.94,174.68 293.2,180.39 293.45,178.28 293.71,164.66 293.97,169.97 294.23,168.4 294.49,172.51 294.75,166.3 295.01,166.31 295.26,172.3 295.52,166.27 295.78,162.28 296.04,163.75 296.3,162.44 296.56,168.28 296.82,163.7 297.07,165.17 297.33,176.27 297.59,170.32 297.85,161.06 298.11,159.92 298.37,159.27 298.63,159.84 298.88,164.59 299.14,168.88 299.4,160.29 299.66,172.49 299.92,169.83 300.18,175.16 300.44,167.29 300.69,165.49 300.95,157.72 301.21,152.6 301.47,163.42 301.73,164.7 301.99,165.03 302.25,172.97 302.5,154.5 302.76,154.08 303.02,151.98 303.28,162.07 303.54,159.88 303.8,157.34 304.06,163.53 304.31,159.39 304.57,165.31 304.83,170.86 305.09,173.62 305.35,164.05 305.61,168.73 305.87,161.85 306.12,171.24 306.38,168.1 306.64,173.59 306.9,173.32 307.16,173.68 307.42,175.72 307.68,143.74 307.93,174.53 308.19,174.84 308.45,167.89 308.71,160.18 308.97,158.15 309.23,167.78 309.49,171.91 309.74,170.63 310,157.88 310.26,174.64 310.52,173.58 310.78,156.37 311.04,162.23 311.3,174.73 311.55,154.48 311.81,165.96 312.07,166.14 312.33,164.97 312.59,157.99 312.85,161.91 313.11,155.95 313.36,152.67 313.62,174.02 313.88,150.9 314.14,156.14 314.4,160.61 314.66,163.86 314.92,149.54 315.17,152.65 315.43,161.85 315.69,151.47 315.95,159.92 316.21,158 316.47,154.36 316.73,158.31 316.98,155.56 317.24,166.74 317.5,165.52 317.76,154.35 318.02,165.39 318.28,165.92 318.54,171.77 318.79,171.9 319.05,159.63 319.31,170.62 319.57,172.15 319.83,171.43 320.09,169.26 320.35,168.58 320.6,167.13 320.86,169.68 321.12,159.9 321.38,165.46 321.64,162.35 321.9,166.55 322.16,166.21 322.41,152.39 322.67,164.87 322.93,167.21 323.19,160.86 323.45,169.63 323.71,156.86 323.97,159.95 324.22,167.59 324.48,166.32 324.74,163.58"/>
<rect x="27.4" y="97.15" width="311.1" height="13.55" fill="#D9D9D9"/>
<path d="M27.4,183.95V97.15H338.5V183.95Z" fill="none" stroke="#333" stroke-width="0.7"/>
<line x1="27.4" x2="338.5" y1="110.7" y2="110.7" stroke="#333" stroke-width="1.3"/>
<line x1="24.7" x2="27.4" y1="168.43" y2="168.43" stroke="#333" stroke-width="0.8"/>
<line x1="24.7" x2="27.4" y1="149.51" y2="149.51" stroke="#333" stroke-width="0.8"/>
<line x1="24.7" x2="27.4" y1="130.59" y2="130.59" stroke="#333" stroke-width="0.8"/>
<line x1="24.7" x2="27.4" y1="111.67" y2="111.67" stroke="#333" stroke-width="0.8"/>
<line x1="370.5" x2="681.3" y1="172.88" y2="172.88" stroke="#F2F2F2" stroke-width="0.6"/>
<line x1="370.5" x2="681.3" y1="162.09" y2="162.09" stroke="#EBEBEB" stroke-width="1.1"/>
<line x1="370.5" x2="681.3" y1="151.3" y2="151.3" stroke="#F2F2F2" stroke-width="0.6"/>
<line x1="370.5" x2="681.3" y1="140.51" y2="140.51" stroke="#EBEBEB" stroke-width="1.1"/>
<line x1="370.5" x2="681.3" y1="129.72" y2="129.72" stroke="#F2F2F2" stroke-width="0.6"/>
<line x1="370.5" x2="681.3" y1="118.93" y2="118.93" stroke="#EBEBEB" stroke-width="1.1"/>
<line x1="384.2" x2="384.2" y1="110.7" y2="183.95" stroke="#EBEBEB" stroke-width="1.1"/>
<line x1="431.42" x2="431.42" y1="110.7" y2="183.95" stroke="#F2F2F2" stroke-width="0.6"/>
<line x1="478.65" x2="478.65" y1="110.7" y2="183.95" stroke="#EBEBEB" stroke-width="1.1"/>
<line x1="525.87" x2="525.87" y1="110.7" y2="183.95" stroke="#F2F2F2" stroke-width="0.6"/>
<line x1="573.09" x2="573.09" y1="110.7" y2="183.95" stroke="#EBEBEB" stroke-width="1.1"/>
<line x1="620.45" x2="620.45" y1="110.7" y2="183.95" stroke="#F2F2F2" stroke-width="0.6"/>
<line x1="667.8" x2="667.8" y1="110.7" y2="183.95" stroke="#EBEBEB" stroke-width="1.1"/>
<polyline fill="none" stroke="#00BF7D" stroke-width="0.95" stroke-linejoin="round" points="384.2,136.83 384.46,139.8 384.72,140.21 384.98,141.57 385.24,142.12 385.49,139.28 385.75,133.49 386.01,127.3 386.27,125.46 386.53,120.62 386.79,126.35 387.05,130.08 387.31,133.24 387.56,130.61 387.82,126.89 388.08,143.04 388.34,142.16 388.6,114.56 388.86,150.45 389.12,149.57 389.38,148.54 389.63,148.02 389.89,133.71 390.15,142.59 390.41,145.09 390.67,146.86 390.93,149.01 391.19,148.42 391.45,147.22 391.7,139.31 391.96,139.57 392.22,143.44 392.48,140.39 392.74,133.1 393,141.47 393.26,140.53 393.52,149.87 393.77,150.03 394.03,150.15 394.29,147.95 394.55,149.99 394.81,147.65 395.07,145.59 395.33,150.99 395.59,149.35 395.84,152.85 396.1,151.16 396.36,152.71 396.62,150.67 396.88,153.33 397.14,149.23 397.4,146.69 397.66,149.2 397.91,141.72 398.17,139.64 398.43,140.92 398.69,144.39 398.95,144.9 399.21,138.99 399.47,144.09 399.73,146.65 399.98,158.94 400.24,146.44 400.5,144.11 400.76,151.85 401.02,153.51 401.28,151.71 401.54,157.16 401.8,153.91 402.05,150.21 402.31,154.34 402.57,156.28 402.83,164.12 403.09,160.8 403.35,154.83 403.61,148.93 403.87,153.67 404.12,152.36 404.38,160.75 404.64,167.6 404.9,167.18 405.16,164.62 405.42,163.07 405.68,156.85 405.94,159.32 406.19,163.24 406.45,161.94 406.71,168.32 406.97,164.24 407.23,165.05 407.49,165.73 407.75,164.23 408.01,167.45 408.26,170.11 408.52,169.86 408.78,172.77 409.04,173.76 409.3,174.68 409.56,174.26 409.82,174.63 410.08,174.17 410.33,177.03 410.59,176.66 410.85,175.73 411.11,178.37 411.37,178.36 411.63,178.37 411.89,177.5 412.15,175.98 412.4,176.12 412.66,177.24 412.92,178.29 413.18,177.87 413.44,178.3 413.7,177.99 413.96,178.27 414.22,177.88 414.47,173.39 414.73,174.17 414.99,176.95 415.25,176.7 415.51,178.37 415.77,178.33 416.03,178.23 416.29,177.06 416.54,176.54 416.8,173.47 417.06,177.39 417.32,175.73 417.58,177.19 417.84,174.93 418.1,173.9 418.36,174.23 418.61,175.88 418.87,172.87 419.13,172.38 419.39,173.51 419.65,171.48 419.91,174.01 420.17,173.66 420.43,175.02 420.69,173.62 420.94,175.24 421.2,174.59 421.46,173.21 421.72,172.04 421.98,174.04 422.24,175.57 422.5,176.67 422.76,177.05 423.01,174.37 423.27,177.41 423.53,178.11 423.79,174.98 424.05,173.5 424.31,177.49 424.57,178.03 424.83,177.55 425.08,176.75 425.34,176.18 425.6,175.85 425.86,175.34 426.12,177.12 426.38,176.5 426.64,174.32 426.9,174.96 427.15,176.34 427.41,177.81 427.67,176.16 427.93,176.34 428.19,175.52 428.45,175.85 428.71,175.27 428.97,177.25 429.22,176.99 429.48,176.77 429.74,177.64 430,175.34 430.26,178.17 430.52,177.03 430.78,177.28 431.04,175.6 431.29,176.65 431.55,178.02 431.81,176.88 432.07,176.44 432.33,177.16 432.59,177.09 432.85,178.83 433.11,179.17 433.36,179.48 433.62,179.77 433.88,179.78 434.14,180.03 434.4,180.12 434.66,180.2 434.92,180.28 435.18,180.37 435.43,180.24 435.69,180.5 435.95,180.63 436.21,180.63 436.47,179.69 436.73,178.61 436.99,177.88 437.25,180.45 437.5,178.39 437.76,180.15 438.02,179.22 438.28,179.61 438.54,179.6 438.8,178.95 439.06,179.62 439.32,178.35 439.57,179.5 439.83,179.36 440.09,178.95 440.35,176.62 440.61,176.96 440.87,177.33 441.13,179.66 441.39,179.19 441.64,179.01 441.9,179.44 442.16,178.7 442.42,178.43 442.68,177.29 442.94,177.2 443.2,177.86 443.46,179.07 443.71,178.38 443.97,177.24 444.23,177.03 444.49,178.89 444.75,179.22 445.01,176.66 445.27,177.28 445.53,178.14 445.78,177.65 446.04,179.69 446.3,179.65 446.56,179.74 446.82,178.25 447.08,178.52 447.34,175.82 447.6,175.42 447.85,177.54 448.11,176.23 448.37,177.36 448.63,176.16 448.89,176.57 449.15,176.54 449.41,176.15 449.67,178.05 449.92,175.96 450.18,175.86 450.44,175.16 450.7,175.49 450.96,175.32 451.22,176.87 451.48,178.58 451.74,175.66 451.99,174.54 452.25,176.12 452.51,176.52 452.77,176.7 453.03,176.56 453.29,175.9 453.55,176.57 453.81,177.04 454.06,175.32 454.32,175.72 454.58,176.68 454.84,174.31 455.1,173.29 455.36,176.26 455.62,174.97 455.88,174.27 456.14,177.67 456.39,176.18 456.65,176.03 456.91,173.96 457.17,176.9 457.43,174.5 457.69,174.57 457.95,174.08 458.21,173.02 458.46,171.66 458.72,170.66 458.98,173.25 459.24,170.26 459.5,169.26 459.76,172.25 460.02,173.41 460.28,173.46 460.53,166.15 460.79,170.66 461.05,170.45 461.31,164.76 461.57,162.32 461.83,162.69 462.09,166.96 462.35,164.24 462.6,163.37 462.86,165.64 463.12,169 463.38,165.86 463.64,163.05 463.9,166.85 464.16,167.24 464.42,171.4 464.67,169.98 464.93,168.23 465.19,168.44 465.45,170.16 465.71,171.42 465.97,172.1 466.23,171.5 466.49,172.36 466.74,172.37 467,170.35 467.26,168.49 467.52,165.85 467.78,170.15 468.04,165.33 468.3,164.38 468.56,167.34 468.81,168.29 469.07,167.6 469.33,167.64 469.59,164.56 469.85,168.24 470.11,170.58 470.37,170.69 470.63,170.08 470.88,170.3 471.14,167.98 471.4,163.96 471.66,159.85 471.92,161.54 472.18,167.29 472.44,164.91 472.7,166.04 472.95,157.2 473.21,160.19 473.47,159.15 473.73,157.59 473.99,157.06 474.25,159.16 474.51,154.79 474.77,161.26 475.02,159.11 475.28,162.45 475.54,164.09 475.8,164.09 476.06,163.87 476.32,163.66 476.58,154.53 476.84,151.68 477.09,157.46 477.35,161.78 477.61,159.52 477.87,162.3 478.13,163.02 478.39,158.92 478.65,154.87 478.91,157.35 479.16,159.73 479.42,141.91 479.68,160.65 479.94,159.48 480.2,147.96 480.46,150.5 480.72,155.82 480.98,155.02 481.23,150.54 481.49,147.23 481.75,151.03 482.01,153.76 482.27,153.14 482.53,155.88 482.79,163 483.05,162.54 483.3,164.6 483.56,160.33 483.82,159.97 484.08,155.64 484.34,158.9 484.6,155.96 484.86,163.63 485.12,164.17 485.37,163.39 485.63,164.4 485.89,159.89 486.15,156.27 486.41,158.27 486.67,154.07 486.93,153.41 487.19,154.47 487.44,159.25 487.7,159.14 487.96,162.38 488.22,161.55 488.48,162.49 488.74,161.99 489,159.54 489.26,161.53 489.51,156.84 489.77,159.98 490.03,164.52 490.29,158.17 490.55,164.11 490.81,163.37 491.07,160.38 491.33,157.16 491.59,154.72 491.84,154.06 492.1,164.83 492.36,164.29 492.62,159.92 492.88,159.37 493.14,165.02 493.4,167.33 493.66,166.29 493.91,160.81 494.17,164.94 494.43,165.54 494.69,168.46 494.95,170.63 495.21,166.15 495.47,169.18 495.73,170.37 495.98,170.49 496.24,169.04 496.5,174.99 496.76,174.87 497.02,174.56 497.28,170.07 497.54,168.17 497.8,169.8 498.05,170.74 498.31,172.34 498.57,174.71 498.83,174.68 499.09,173.51 499.35,170.04 499.61,172.4 499.87,169.89 500.12,172.49 500.38,171.12 500.64,171.57 500.9,167.93 501.16,167.94 501.42,171.84 501.68,174.19 501.94,170.38 502.19,169.1 502.45,172.75 502.71,170.23 502.97,168.99 503.23,172.16 503.49,174.88 503.75,173.16 504.01,170.43 504.26,174.8 504.52,174.94 504.78,172.79 505.04,174.76 505.3,173.69 505.56,170.66 505.82,170.84 506.08,171.54 506.33,172.39 506.59,174.3 506.85,172.66 507.11,171.81 507.37,173.83 507.63,177.18 507.89,178.3 508.15,176.55 508.4,177.01 508.66,171.1 508.92,172.23 509.18,176.87 509.44,173.92 509.7,178.11 509.96,177.21 510.22,176.31 510.47,177.38 510.73,178 510.99,178.07 511.25,178.15 511.51,177.67 511.77,175.26 512.03,176.92 512.29,178.03 512.54,178.11 512.8,176.03 513.06,177.14 513.32,175.95 513.58,177.36 513.84,175.16 514.1,176.88 514.36,175.93 514.61,177.48 514.87,179.09 515.13,179.19 515.39,178.92 515.65,177.69 515.91,175.82 516.17,176.1 516.43,177.27 516.68,176.75 516.94,176.89 517.2,178.81 517.46,178.96 517.72,175.96 517.98,178.71 518.24,176.72 518.5,178.65 518.75,178.89 519.01,178.62 519.27,177.77 519.53,178.69 519.79,178.64 520.05,179.17 520.31,179.53 520.57,179.26 520.82,179.35 521.08,179.42 521.34,179.01 521.6,179.35 521.86,177.13 522.12,178.67 522.38,179.52 522.64,178.43 522.89,176.28 523.15,178.11 523.41,178.84 523.67,178.37 523.93,179.19 524.19,176.2 524.45,178.06 524.71,178.94 524.96,177.83 525.22,178.35 525.48,176.53 525.74,178.71 526,179.37 526.26,178.79 526.52,179.27 526.78,176.21 527.04,176.28 527.29,177.21 527.55,177.26 527.81,178.4 528.07,179.25 528.33,179.63 528.59,179.48 528.85,179.72 529.11,179 529.36,179.75 529.62,178.39 529.88,178.76 530.14,178.62 530.4,176.85 530.66,176.95 530.92,178.75 531.18,178.04 531.43,177.23 531.69,177.34 531.95,179.23 532.21,177.6 532.47,179.83 532.73,177.51 532.99,177.05 533.25,177.59 533.5,177.8 533.76,177.35 534.02,177.27 534.28,178.61 534.54,177.76 534.8,177.24 535.06,177.66 535.32,177.91 535.57,177.3 535.83,179.2 536.09,179.82 536.35,179.29 536.61,179.74 536.87,179.56 537.13,179.31 537.39,178.4 537.64,177.93 537.9,179.25 538.16,179.07 538.42,179.72 538.68,178.73 538.94,177.77 539.2,178.02 539.46,179.58 539.71,179.03 539.97,178.37 540.23,177.28 540.49,178.04 540.75,176.04 541.01,175.81 541.27,177.64 541.53,176.02 541.78,178.73 542.04,176.73 542.3,177.51 542.56,176.01 542.82,177 543.08,177.67 543.34,176.27 543.6,177.46 543.85,176.86 544.11,177.61 544.37,176.3 544.63,177.23 544.89,175.49 545.15,177.86 545.41,176.07 545.67,174.63 545.92,175.71 546.18,177.72 546.44,175.76 546.7,175.65 546.96,177.06 547.22,174.83 547.48,176.16 547.74,173.43 547.99,175.99 548.25,175.49 548.51,176.6 548.77,175.22 549.03,173.55 549.29,175.58 549.55,176.54 549.81,174.88 550.06,176.17 550.32,174.53 550.58,176.65 550.84,175.74 551.1,175.85 551.36,175.42 551.62,172.95 551.88,175.99 552.13,175.76 552.39,172.78 552.65,173.81 552.91,174.34 553.17,175.37 553.43,175.37 553.69,174.18 553.95,175.48 554.2,173.86 554.46,174.01 554.72,174.06 554.98,174.34 555.24,175.15 555.5,173.6 555.76,174.29 556.02,170.57 556.27,169.16 556.53,170.71 556.79,168.74 557.05,166.8 557.31,167.83 557.57,168.22 557.83,167.79 558.09,168.3 558.34,167.69 558.6,170.17 558.86,170.94 559.12,169.19 559.38,168.99 559.64,170.08 559.9,166.32 560.16,168.35 560.41,169.91 560.67,164.43 560.93,164.11 561.19,165.92 561.45,166.27 561.71,169.42 561.97,171.34 562.23,168.79 562.49,166.5 562.74,167.73 563,166.72 563.26,166.64 563.52,167.69 563.78,169.55 564.04,166.79 564.3,164.18 564.56,162.72 564.81,166.09 565.07,163.83 565.33,164.79 565.59,167.35 565.85,168.2 566.11,165.83 566.37,167.69 566.63,166.04 566.88,164.16 567.14,165.12 567.4,166.09 567.66,166.87 567.92,166.22 568.18,166.7 568.44,165.88 568.7,165.37 568.95,163.4 569.21,162.11 569.47,161.64 569.73,156.06 569.99,160.06 570.25,156.42 570.51,156.27 570.77,151.5 571.02,149.33 571.28,155.79 571.54,154.02 571.8,157.62 572.06,156.98 572.32,154.91 572.58,141.91 572.84,158.15 573.09,151.15 573.35,157.75 573.61,147.87 573.87,150.21 574.13,150.37 574.39,149.01 574.65,153.74 574.91,148.39 575.16,146.96 575.42,147.24 575.68,151.29 575.94,160.58 576.2,160.11 576.46,155.66 576.72,150.98 576.98,151.37 577.23,158.95 577.49,150.13 577.75,160.25 578.01,155.95 578.27,160.15 578.53,149.84 578.79,147.93 579.05,153.11 579.3,161.56 579.56,164.19 579.82,166.18 580.08,165.99 580.34,162.96 580.6,145.33 580.86,167.42 581.12,165 581.37,161.4 581.63,169.24 581.89,168.03 582.15,169.33 582.41,168.92 582.67,160.54 582.93,162.53 583.19,165.87 583.44,156.25 583.7,161.03 583.96,166.42 584.22,170.65 584.48,166.89 584.74,172.21 585,170 585.26,168.71 585.51,165.89 585.77,173.14 586.03,172.3 586.29,169.12 586.55,168.38 586.81,172.36 587.07,171.07 587.33,166.1 587.58,164.31 587.84,165.4 588.1,168.44 588.36,164.05 588.62,163.1 588.88,164.05 589.14,164.39 589.4,166.51 589.65,173.88 589.91,168.65 590.17,170.79 590.43,171.32 590.69,174.76 590.95,175.01 591.21,174.84 591.47,174.18 591.72,168.07 591.98,170.03 592.24,169.13 592.5,174.9 592.76,173 593.02,170.95 593.28,169.15 593.54,172.73 593.79,170.8 594.05,174.53 594.31,175.22 594.57,174.69 594.83,172.41 595.09,172.01 595.35,173.31 595.61,172.27 595.86,174.04 596.12,174.6 596.38,173.79 596.64,176.18 596.9,176.05 597.16,173.57 597.42,172.35 597.68,170.72 597.94,172.15 598.19,173.87 598.45,172.97 598.71,173.28 598.97,172.7 599.23,176.41 599.49,174.21 599.75,174.08 600.01,155.59 600.26,175.47 600.52,176.79 600.78,176.1 601.04,177.01 601.3,172.15 601.56,175.65 601.82,170.47 602.08,171.03 602.33,174.16 602.59,172.69 602.85,176.47 603.11,174.26 603.37,177.31 603.63,176.09 603.89,176.33 604.15,173.09 604.4,176.22 604.66,175.32 604.92,177.86 605.18,176.94 605.44,178.21 605.7,175.46 605.96,177.54 606.22,177.23 606.47,178.5 606.73,178.53 606.99,178.38 607.25,178.21 607.51,176.71 607.77,175.79 608.03,176.42 608.29,173.79 608.54,175.89 608.8,173.65 609.06,174.03 609.32,174.71 609.58,174.44 609.84,174.04 610.1,174.72 610.36,175.39 610.61,175.87 610.87,174.87 611.13,177.69 611.39,176.36 611.65,176.76 611.91,176.13 612.17,175.2 612.43,175.85 612.68,176.57 612.94,176.38 613.2,176.77 613.46,176.95 613.72,178.57 613.98,178.3 614.24,178.43 614.5,178.82 614.75,178.64 615.01,178.45 615.27,179.56 615.53,179.66 615.79,179.76 616.05,179.77 616.31,179.8 616.57,179.81 616.82,179.82 617.08,179.85 617.34,179.87 617.6,179.88 617.86,179.9 618.12,179.92 618.38,179.72 618.64,179.78 618.89,176.72 619.15,178.63 619.41,177.6 619.67,178.94 619.93,177.33 620.19,177.26 620.45,178.13 620.71,176.96 620.96,178.73 621.22,178.33 621.48,179.2 621.74,179.89 622,179.48 622.26,179.86 622.52,179.36 622.78,179.24 623.03,179.81 623.29,178.39 623.55,178.3 623.81,177.05 624.07,176.99 624.33,177.5 624.59,178.34 624.85,179.77 625.1,178.27 625.36,179.23 625.62,179.68 625.88,179.48 626.14,179.37 626.4,180.21 626.66,179.39 626.92,179.54 627.17,179.84 627.43,180.55 627.69,180.3 627.95,179.71 628.21,180.47 628.47,177.66 628.73,179.23 628.99,179.66 629.24,179.36 629.5,178.28 629.76,178.17 630.02,178.24 630.28,177.49 630.54,177.96 630.8,177.63 631.06,177.11 631.31,177.16 631.57,177.25 631.83,177.39 632.09,178.76 632.35,177.47 632.61,178.04 632.87,177.44 633.13,179.57 633.39,179.33 633.64,179.19 633.9,179.19 634.16,179.94 634.42,179.94 634.68,179.61 634.94,179.61 635.2,178.43 635.46,179.72 635.71,179.04 635.97,179.58 636.23,179.17 636.49,179.75 636.75,179.82 637.01,179.81 637.27,179.75 637.53,179.37 637.78,178.99 638.04,177.63 638.3,178.66 638.56,178.21 638.82,177.3 639.08,177.38 639.34,178.73 639.6,176.69 639.85,176.97 640.11,178.04 640.37,177.21 640.63,175.76 640.89,175.99 641.15,175.94 641.41,175.69 641.67,175.93 641.92,176.66 642.18,175.23 642.44,176.22 642.7,176.26 642.96,175.46 643.22,177.06 643.48,175.82 643.74,177.35 643.99,177.51 644.25,176.72 644.51,177.1 644.77,177.8 645.03,177.41 645.29,177.5 645.55,177.29 645.81,176.99 646.06,176.44 646.32,176.85 646.58,176.32 646.84,173.8 647.1,173.99 647.36,175.64 647.62,173.49 647.88,173.29 648.13,172.86 648.39,175.94 648.65,174.51 648.91,170.75 649.17,174.6 649.43,172.45 649.69,171.74 649.95,173.29 650.2,173.03 650.46,172.92 650.72,173.02 650.98,173.32 651.24,170.73 651.5,171.3 651.76,169.03 652.02,171.46 652.27,171.63 652.53,167.2 652.79,172.25 653.05,171.23 653.31,168.96 653.57,167.2 653.83,169.11 654.09,170.23 654.34,173.56 654.6,171.74 654.86,172.08 655.12,171.61 655.38,170.78 655.64,173.24 655.9,170.57 656.16,168.94 656.41,169.78 656.67,170.38 656.93,168.72 657.19,167.73 657.45,168.84 657.71,171.34 657.97,171.33 658.23,167.87 658.48,170.91 658.74,170.08 659,165.26 659.26,168.11 659.52,166.74 659.78,166.64 660.04,163.6 660.3,165.2 660.55,167.78 660.81,165.05 661.07,165.47 661.33,161.74 661.59,160.63 661.85,163.97 662.11,164.32 662.37,165.95 662.62,162.82 662.88,164.11 663.14,165.03 663.4,167.56 663.66,165.46 663.92,166.33 664.18,167.65 664.44,166.77 664.69,165.72 664.95,163.82 665.21,165.34 665.47,164.94 665.73,166.3 665.99,165.67 666.25,163.27 666.51,165.1 666.76,155.59 667.02,165.04 667.28,165.48"/>
<rect x="370.5" y="97.15" width="310.8" height="13.55" fill="#D9D9D9"/>
<path d="M370.5,183.95V97.15H681.3V183.95Z" fill="none" stroke="#333" stroke-width="0.7"/>
<line x1="370.5" x2="681.3" y1="110.7" y2="110.7" stroke="#333" stroke-width="1.3"/>
<line x1="367.8" x2="370.5" y1="183.67" y2="183.67" stroke="#333" stroke-width="0.8"/>
<line x1="367.8" x2="370.5" y1="162.09" y2="162.09" stroke="#333" stroke-width="0.8"/>
<line x1="367.8" x2="370.5" y1="140.51" y2="140.51" stroke="#333" stroke-width="0.8"/>
<line x1="367.8" x2="370.5" y1="118.93" y2="118.93" stroke="#333" stroke-width="0.8"/>
<line x1="28.4" x2="339.5" y1="265.9" y2="265.9" stroke="#F2F2F2" stroke-width="0.6"/>
<line x1="28.4" x2="339.5" y1="256.05" y2="256.05" stroke="#EBEBEB" stroke-width="1.1"/>
<line x1="28.4" x2="339.5" y1="246.2" y2="246.2" stroke="#F2F2F2" stroke-width="0.6"/>
<line x1="28.4" x2="339.5" y1="236.35" y2="236.35" stroke="#EBEBEB" stroke-width="1.1"/>
<line x1="28.4" x2="339.5" y1="226.5" y2="226.5" stroke="#F2F2F2" stroke-width="0.6"/>
<line x1="28.4" x2="339.5" y1="216.65" y2="216.65" stroke="#EBEBEB" stroke-width="1.1"/>
<line x1="28.4" x2="339.5" y1="206.8" y2="206.8" stroke="#F2F2F2" stroke-width="0.6"/>
<line x1="42.6" x2="42.6" y1="202.45" y2="275.7" stroke="#EBEBEB" stroke-width="1.1"/>
<line x1="89.79" x2="89.79" y1="202.45" y2="275.7" stroke="#F2F2F2" stroke-width="0.6"/>
<line x1="136.98" x2="136.98" y1="202.45" y2="275.7" stroke="#EBEBEB" stroke-width="1.1"/>
<line x1="184.17" x2="184.17" y1="202.45" y2="275.7" stroke="#F2F2F2" stroke-width="0.6"/>
<line x1="231.36" x2="231.36" y1="202.45" y2="275.7" stroke="#EBEBEB" stroke-width="1.1"/>
<line x1="278.68" x2="278.68" y1="202.45" y2="275.7" stroke="#F2F2F2" stroke-width="0.6"/>
<line x1="326" x2="326" y1="202.45" y2="275.7" stroke="#EBEBEB" stroke-width="1.1"/>
<polyline fill="none" stroke="#A3A500" stroke-width="0.95" stroke-linejoin="round" points="42.6,263.06 42.86,259.85 43.12,264.26 43.38,262.38 43.63,260.54 43.89,261.62 44.15,262.4 44.41,262.91 44.67,263.2 44.93,260.55 45.19,263.82 45.44,264.02 45.7,263.77 45.96,265.8 46.22,258.68 46.48,263.42 46.74,255.88 47,259.43 47.25,260.53 47.51,258.57 47.77,260.55 48.03,263.25 48.29,263.61 48.55,261.31 48.81,262.74 49.06,264.62 49.32,258.16 49.58,262.67 49.84,263.75 50.1,264.02 50.36,259.23 50.62,260.26 50.87,261.69 51.13,255.24 51.39,256.26 51.65,259.7 51.91,263.59 52.17,259.24 52.43,259.16 52.68,261.05 52.94,258.67 53.2,259.27 53.46,262.88 53.72,262.54 53.98,263.01 54.24,262.2 54.49,261.21 54.75,261.24 55.01,261.51 55.27,258.78 55.53,262.6 55.79,261.13 56.05,255.1 56.3,257.89 56.56,251.96 56.82,249.93 57.08,256.97 57.34,258.81 57.6,261.41 57.86,257.95 58.11,252.99 58.37,253.91 58.63,251.15 58.89,243.35 59.15,244.99 59.41,250.54 59.67,248.59 59.92,244.92 60.18,250.7 60.44,258.47 60.7,242.89 60.96,236.58 61.22,243.05 61.48,247.72 61.73,237.33 61.99,254.34 62.25,247.3 62.51,247.38 62.77,246.87 63.03,247.5 63.29,254.89 63.54,254.87 63.8,237.84 64.06,215.68 64.32,246.51 64.58,249.74 64.84,258 65.1,245.37 65.35,255.11 65.61,256.77 65.87,256.88 66.13,227.49 66.39,255.75 66.65,239.58 66.91,257.4 67.16,231.17 67.42,244.59 67.68,236.15 67.94,257.9 68.2,253.66 68.46,251 68.72,256.59 68.97,257.44 69.23,246.82 69.49,233.65 69.75,238.07 70.01,239.22 70.27,257.25 70.53,243.2 70.78,253.35 71.04,257.09 71.3,255.28 71.56,253.63 71.82,257.37 72.08,256.53 72.34,216.13 72.59,255.68 72.85,258.09 73.11,258.2 73.37,258.16 73.63,257.75 73.89,256.89 74.15,258.23 74.4,256.98 74.66,256.28 74.92,252.9 75.18,249.97 75.44,243.83 75.7,255.6 75.96,253.61 76.21,258.15 76.47,257.11 76.73,244.12 76.99,232.81 77.25,229.22 77.51,247.76 77.77,238.77 78.03,246.08 78.28,234.74 78.54,250.95 78.8,240.07 79.06,233.4 79.32,232.39 79.58,224.19 79.84,257.58 80.09,254.04 80.35,252.83 80.61,255.48 80.87,258.09 81.13,247.95 81.39,256.65 81.65,215.22 81.9,239.42 82.16,255.4 82.42,248.7 82.68,239.04 82.94,250.92 83.2,247.94 83.46,257.25 83.71,251.24 83.97,225.39 84.23,241.22 84.49,243.58 84.75,240.13 85.01,257.16 85.27,252.91 85.52,245.63 85.78,251.42 86.04,255 86.3,259.7 86.56,246.12 86.82,219.1 87.08,261.72 87.33,260.72 87.59,260.72 87.85,243.92 88.11,263.97 88.37,254.3 88.63,248.54 88.89,260.25 89.14,251.68 89.4,261.17 89.66,247.76 89.92,241.29 90.18,256.86 90.44,258.53 90.7,261.89 90.95,253.77 91.21,249.01 91.47,262.65 91.73,258.68 91.99,248.03 92.25,251.41 92.51,259.16 92.76,263.26 93.02,255.57 93.28,255.06 93.54,257.41 93.8,262.21 94.06,258.2 94.32,263.05 94.57,258.86 94.83,250.9 95.09,249.3 95.35,252.35 95.61,254.72 95.87,260.45 96.13,256.24 96.38,245.16 96.64,253.35 96.9,262.66 97.16,250.97 97.42,237.33 97.68,261.55 97.94,265.7 98.19,265.68 98.45,266.58 98.71,264.25 98.97,265.69 99.23,265.81 99.49,267.19 99.75,267.13 100,263.5 100.26,259.84 100.52,250.99 100.78,266.39 101.04,262.92 101.3,266.23 101.56,256.72 101.81,260.81 102.07,260.51 102.33,257.33 102.59,256.66 102.85,250.89 103.11,264.16 103.37,254.38 103.62,263.44 103.88,267.14 104.14,257.93 104.4,260.04 104.66,256.35 104.92,247.12 105.18,245.67 105.43,264.68 105.69,262.71 105.95,255.39 106.21,253.35 106.47,256.93 106.73,265.81 106.99,259.59 107.24,255.77 107.5,268.44 107.76,245.31 108.02,253.06 108.28,247.5 108.54,260.03 108.8,262.95 109.05,261.35 109.31,268.99 109.57,255.44 109.83,266.36 110.09,262.64 110.35,262.8 110.61,259.8 110.86,267.94 111.12,260.75 111.38,265.4 111.64,252.78 111.9,250.83 112.16,251.4 112.42,258.58 112.67,258.79 112.93,253.66 113.19,256.92 113.45,261.75 113.71,255.04 113.97,257.33 114.23,252.05 114.48,258.06 114.74,261.75 115,265.47 115.26,264.36 115.52,267.89 115.78,260.23 116.04,257.88 116.29,260.13 116.55,267.9 116.81,265.69 117.07,266.83 117.33,263.51 117.59,255.22 117.85,256.65 118.1,255.71 118.36,241.89 118.62,254.33 118.88,260.27 119.14,263.74 119.4,254.78 119.66,255.55 119.91,262.97 120.17,263.38 120.43,259.29 120.69,255.69 120.95,266.95 121.21,258.25 121.47,245.31 121.72,255.97 121.98,260.15 122.24,257.28 122.5,259.57 122.76,265.01 123.02,265.73 123.28,266.32 123.53,258.56 123.79,262.44 124.05,260.97 124.31,260.43 124.57,268.33 124.83,264.58 125.09,257.12 125.34,258.19 125.6,256.12 125.86,258.52 126.12,259.28 126.38,262.3 126.64,261.75 126.9,261.87 127.15,262.45 127.41,268.12 127.67,264.73 127.93,260.26 128.19,265.61 128.45,264.68 128.71,252.65 128.96,254.02 129.22,253.56 129.48,261.45 129.74,255.37 130,264.36 130.26,261.09 130.52,266.16 130.77,262.28 131.03,266.6 131.29,267.99 131.55,266.47 131.81,264.53 132.07,260.51 132.33,266.27 132.58,257.6 132.84,266.13 133.1,263.7 133.36,265.72 133.62,265.95 133.88,263.59 134.14,259.03 134.39,262.21 134.65,260.73 134.91,260.38 135.17,265.79 135.43,264.64 135.69,263.48 135.95,268.09 136.2,260.84 136.46,264.8 136.72,264.64 136.98,267.58 137.24,266.4 137.5,267.12 137.76,261.86 138.01,264.18 138.27,260.41 138.53,262.76 138.79,265.99 139.05,259.07 139.31,262.8 139.57,264.27 139.82,265.37 140.08,261.61 140.34,262.64 140.6,261.5 140.86,266.59 141.12,265.47 141.38,260.44 141.63,259.71 141.89,263.09 142.15,263.73 142.41,259.3 142.67,260.38 142.93,257.85 143.19,260.49 143.44,261.52 143.7,253.68 143.96,260.28 144.22,257.51 144.48,257.5 144.74,253.6 145,259.45 145.25,256.32 145.51,252.47 145.77,254.92 146.03,256.89 146.29,256.21 146.55,259.2 146.81,258.02 147.06,259.99 147.32,261.46 147.58,252.74 147.84,260.02 148.1,255.78 148.36,258.49 148.62,258.79 148.88,259.32 149.13,261 149.39,259.09 149.65,257.55 149.91,251.96 150.17,259.3 150.43,259.92 150.69,253.07 150.94,255.5 151.2,257.5 151.46,260.7 151.72,260.53 151.98,254.11 152.24,257.76 152.5,255.98 152.75,253.21 153.01,252.47 153.27,260.26 153.53,260.2 153.79,256.89 154.05,255.11 154.31,256.07 154.56,251.01 154.82,258.53 155.08,259.78 155.34,259.29 155.6,259.43 155.86,259.56 156.12,253.25 156.37,256.49 156.63,230.5 156.89,254.85 157.15,256.95 157.41,259.07 157.67,259.03 157.93,254.95 158.18,254.73 158.44,247.65 158.7,241.89 158.96,240.08 159.22,235.2 159.48,251.2 159.74,251.85 159.99,232.57 160.25,236.64 160.51,257.87 160.77,255.63 161.03,240.53 161.29,244.96 161.55,240.16 161.8,230.57 162.06,230.35 162.32,246.78 162.58,254.84 162.84,247.99 163.1,242.25 163.36,241.97 163.61,237.92 163.87,224.8 164.13,238.64 164.39,223.81 164.65,246.18 164.91,252.14 165.17,251.54 165.42,246.67 165.68,251.08 165.94,239.4 166.2,236.86 166.46,244.33 166.72,239.73 166.98,224.77 167.23,252.85 167.49,224.68 167.75,226.86 168.01,247.09 168.27,255.06 168.53,235.92 168.79,236.86 169.04,254.47 169.3,241.38 169.56,242.3 169.82,243.02 170.08,255.4 170.34,256.4 170.6,256.15 170.85,231.46 171.11,253.12 171.37,224.39 171.63,249.97 171.89,253.35 172.15,251.45 172.41,236.72 172.66,253.31 172.92,257.55 173.18,256.37 173.44,221.9 173.7,206.1 173.96,247.45 174.22,226.9 174.47,248.95 174.73,247.22 174.99,259.02 175.25,235.37 175.51,240.11 175.77,238.49 176.03,228.45 176.28,229.82 176.54,249.47 176.8,231.07 177.06,252.4 177.32,226.24 177.58,237.85 177.84,260.44 178.09,226.78 178.35,262.04 178.61,262.18 178.87,256.26 179.13,261.52 179.39,246.2 179.65,258.57 179.9,254.43 180.16,242.83 180.42,255.93 180.68,238.58 180.94,253.07 181.2,249.1 181.46,255.86 181.71,257.93 181.97,251.37 182.23,242.24 182.49,254.67 182.75,243.16 183.01,245.2 183.27,253.05 183.52,249.25 183.78,242.42 184.04,256.98 184.3,247.51 184.56,239.67 184.82,258.08 185.08,256.09 185.33,254.62 185.59,259.59 185.85,260.23 186.11,245.43 186.37,254.14 186.63,254.71 186.89,263.32 187.14,247.47 187.4,254.09 187.66,255.08 187.92,253.51 188.18,253.98 188.44,263.02 188.7,264.54 188.95,254.27 189.21,260.02 189.47,263.76 189.73,258.84 189.99,263.72 190.25,246.11 190.51,258.25 190.76,260.82 191.02,255.38 191.28,262.39 191.54,246.93 191.8,260.65 192.06,265.54 192.32,265.59 192.57,254.72 192.83,246.71 193.09,249.6 193.35,244.72 193.61,257.34 193.87,246.8 194.13,255.94 194.38,254.66 194.64,256.94 194.9,256.1 195.16,250.35 195.42,240.48 195.68,266.05 195.94,249.06 196.19,248.01 196.45,246.6 196.71,243.27 196.97,246.18 197.23,246.6 197.49,248.57 197.75,260.1 198,266.56 198.26,262.02 198.52,264.75 198.78,255.47 199.04,265.09 199.3,266.43 199.56,227.33 199.81,224.11 200.07,258.36 200.33,267.89 200.59,253.38 200.85,259.64 201.11,254.97 201.37,259.01 201.62,245.81 201.88,242.4 202.14,268.27 202.4,263.37 202.66,264.9 202.92,267.87 203.18,265.46 203.43,257.68 203.69,266.39 203.95,268.26 204.21,267 204.47,262.78 204.73,257.53 204.99,268.74 205.24,268.9 205.5,268.53 205.76,253.51 206.02,268.59 206.28,263.19 206.54,255.87 206.8,216.82 207.05,246.33 207.31,243.79 207.57,259.99 207.83,263.05 208.09,250.91 208.35,252.43 208.61,248.01 208.86,246.11 209.12,242.71 209.38,252.32 209.64,257.29 209.9,246.49 210.16,252.54 210.42,253.05 210.67,258.97 210.93,255.02 211.19,266.42 211.45,248.9 211.71,248.81 211.97,252.5 212.23,260.08 212.48,257.07 212.74,263.46 213,257.05 213.26,261.47 213.52,269.78 213.78,269.61 214.04,261.2 214.29,268.34 214.55,266.5 214.81,263.01 215.07,264.35 215.33,268.55 215.59,266.05 215.85,269.41 216.1,269.32 216.36,263.68 216.62,266.78 216.88,266.38 217.14,268.68 217.4,263.5 217.66,263.61 217.91,268.72 218.17,261.61 218.43,264.03 218.69,267.86 218.95,261.65 219.21,264.35 219.47,265.66 219.72,262.78 219.98,267.72 220.24,268.47 220.5,265.66 220.76,266.9 221.02,258.84 221.28,262.56 221.54,266.36 221.79,268.73 222.05,266.23 222.31,265.47 222.57,267.74 222.83,269.31 223.09,268.26 223.35,262 223.6,260.86 223.86,267.65 224.12,268.71 224.38,266.14 224.64,265.31 224.9,267.64 225.16,259.3 225.41,264.21 225.67,266.56 225.93,263.27 226.19,269.74 226.45,268.57 226.71,261.32 226.97,262.59 227.22,262.68 227.48,262.72 227.74,262.55 228,262.37 228.26,267.23 228.52,266.83 228.78,267.92 229.03,267.22 229.29,268.93 229.55,270.29 229.81,262.99 230.07,264.37 230.33,266.7 230.59,270.14 230.84,268.66 231.1,264.21 231.36,266.84 231.62,266.45 231.88,267.14 232.14,262.2 232.4,261.13 232.65,262.59 232.91,262.31 233.17,260.59 233.43,267.55 233.69,266.37 233.95,264.81 234.21,264.14 234.46,265.33 234.72,268.75 234.98,266.7 235.24,260.42 235.5,260.22 235.76,255.46 236.02,258.81 236.27,263.96 236.53,258.2 236.79,254 237.05,248.31 237.31,253.5 237.57,262.33 237.83,255.28 238.08,255.03 238.34,252.55 238.6,253.66 238.86,254.67 239.12,256.47 239.38,253.76 239.64,254.93 239.89,258.47 240.15,257.32 240.41,259.46 240.67,255.25 240.93,261.65 241.19,261.94 241.45,261.88 241.7,261.16 241.96,259.93 242.22,243.09 242.48,253.47 242.74,249.63 243,252.85 243.26,242.66 243.51,258.37 243.77,252.12 244.03,252.48 244.29,258.23 244.55,251.08 244.81,246.8 245.07,253.89 245.32,252.07 245.58,249.51 245.84,256.33 246.1,249.95 246.36,254.31 246.62,251.45 246.88,257.55 247.13,255.33 247.39,259.75 247.65,244.05 247.91,248.77 248.17,241.1 248.43,256.86 248.69,256.82 248.94,242.44 249.2,243.76 249.46,259.96 249.72,259.34 249.98,254.59 250.24,256.56 250.5,258.19 250.75,251.92 251.01,244.4 251.27,261.2 251.53,243.49 251.79,250.89 252.05,243.6 252.31,249.28 252.56,242.76 252.82,241.05 253.08,251.93 253.34,252.08 253.6,257.85 253.86,257.1 254.12,255.79 254.37,246.18 254.63,249.16 254.89,250.09 255.15,243.61 255.41,238.16 255.67,234.73 255.93,243.07 256.18,244.87 256.44,259.57 256.7,254.05 256.96,260.9 257.22,251.82 257.48,246.1 257.74,245.64 257.99,242.85 258.25,255.03 258.51,259.93 258.77,237.01 259.03,229.2 259.29,253.1 259.55,256.68 259.8,261.34 260.06,258.32 260.32,251.68 260.58,261.12 260.84,254.32 261.1,250.39 261.36,240.14 261.61,250.51 261.87,256 262.13,256.67 262.39,261.25 262.65,221.38 262.91,257.8 263.17,252.7 263.42,258.41 263.68,249.24 263.94,231.26 264.2,249.87 264.46,262.21 264.72,259.73 264.98,262.73 265.23,253.19 265.49,258.02 265.75,250.12 266.01,257.58 266.27,263.48 266.53,242.33 266.79,256.62 267.04,248.06 267.3,253.06 267.56,262.69 267.82,264.13 268.08,251.2 268.34,255.75 268.6,239.58 268.85,236.01 269.11,259.84 269.37,263.29 269.63,251.31 269.89,241.72 270.15,229.4 270.41,239.68 270.66,256.66 270.92,264.12 271.18,240 271.44,228.44 271.7,216.82 271.96,241.48 272.22,261.18 272.47,263.3 272.73,221.2 272.99,236.77 273.25,253.42 273.51,251.67 273.77,239.47 274.03,248.7 274.28,240.38 274.54,263.13 274.8,253.85 275.06,237.7 275.32,253.99 275.58,214.54 275.84,256.31 276.09,265.67 276.35,265.25 276.61,250.97 276.87,246.9 277.13,263.4 277.39,261.1 277.65,264.53 277.9,264.8 278.16,265.21 278.42,260.86 278.68,251.75 278.94,263.22 279.2,242.56 279.46,255.83 279.71,263.32 279.97,238.51 280.23,248.78 280.49,225.59 280.75,239.07 281.01,239.26 281.27,255.52 281.52,256.33 281.78,255.32 282.04,264.41 282.3,262.32 282.56,265.66 282.82,262.48 283.08,265.39 283.33,250.55 283.59,260.8 283.85,260.04 284.11,263.41 284.37,263.46 284.63,267 284.89,267.11 285.14,262.95 285.4,265.69 285.66,267.36 285.92,267.59 286.18,267.29 286.44,267.68 286.7,267.88 286.95,267.85 287.21,268.02 287.47,268.3 287.73,263.04 287.99,262.21 288.25,261.34 288.51,260.46 288.76,264.1 289.02,262.07 289.28,256.97 289.54,252.99 289.8,260.79 290.06,259.33 290.32,245.12 290.57,249.45 290.83,247.59 291.09,251.28 291.35,245.2 291.61,250.13 291.87,241.52 292.13,240.87 292.39,245.2 292.64,246.56 292.9,264.22 293.16,255.76 293.42,248.43 293.68,245.76 293.94,254.06 294.2,240.49 294.45,240.71 294.71,250.24 294.97,257.36 295.23,242.6 295.49,260.76 295.75,261.36 296.01,268.4 296.26,245.83 296.52,242.44 296.78,256.33 297.04,261.5 297.3,259.11 297.56,261.59 297.82,261.42 298.07,264.6 298.33,254.3 298.59,265.51 298.85,264.89 299.11,255.03 299.37,265.18 299.63,262.58 299.88,269.17 300.14,258.64 300.4,267.05 300.66,260 300.92,262.01 301.18,254.95 301.44,263.07 301.69,260.41 301.95,267.05 302.21,262.02 302.47,266.91 302.73,256.6 302.99,262.38 303.25,261.85 303.5,259.73 303.76,267.05 304.02,264.68 304.28,248.17 304.54,250.76 304.8,262.53 305.06,262.12 305.31,268 305.57,266.2 305.83,269.25 306.09,261.95 306.35,266.11 306.61,268.52 306.87,243.03 307.12,260.51 307.38,249.35 307.64,248.29 307.9,258.61 308.16,257.39 308.42,250.44 308.68,257.32 308.93,250.62 309.19,268.87 309.45,268.27 309.71,256.21 309.97,268.43 310.23,248.73 310.49,261.52 310.74,269.22 311,267.44 311.26,268.41 311.52,267.49 311.78,269.21 312.04,264.45 312.3,262.15 312.55,262.18 312.81,266.69 313.07,255.06 313.33,260 313.59,261.86 313.85,261.25 314.11,263.52 314.36,261.27 314.62,267.86 314.88,264.12 315.14,265.24 315.4,269.41 315.66,268.13 315.92,265.74 316.17,267.26 316.43,260.19 316.69,269.66 316.95,269.52 317.21,269.62 317.47,270.12 317.73,268.62 317.98,269.42 318.24,269.06 318.5,269.46 318.76,265.89 319.02,267.3 319.28,262.19 319.54,266.6 319.79,265.94 320.05,261.47 320.31,261.24 320.57,267.12 320.83,265 321.09,262.68 321.35,264.72 321.6,268.46 321.86,269.35 322.12,264.85 322.38,262.23 322.64,264.63 322.9,263.32 323.16,264.86 323.41,259.43 323.67,267.77 323.93,267.15 324.19,269.72 324.45,262.67 324.71,268.53 324.97,262.14 325.22,269.15 325.48,262.03"/>
<rect x="28.4" y="188.9" width="311.1" height="13.55" fill="#D9D9D9"/>
<path d="M28.4,275.7V188.9H339.5V275.7Z" fill="none" stroke="#333" stroke-width="0.7"/>
<line x1="28.4" x2="339.5" y1="202.45" y2="202.45" stroke="#333" stroke-width="1.3"/>
<line x1="25.7" x2="28.4" y1="275.75" y2="275.75" stroke="#333" stroke-width="0.8"/>
<line x1="25.7" x2="28.4" y1="256.05" y2="256.05" stroke="#333" stroke-width="0.8"/>
<line x1="25.7" x2="28.4" y1="236.35" y2="236.35" stroke="#333" stroke-width="0.8"/>
<line x1="25.7" x2="28.4" y1="216.65" y2="216.65" stroke="#333" stroke-width="0.8"/>
<line x1="370.2" x2="681" y1="271.37" y2="271.37" stroke="#F2F2F2" stroke-width="0.6"/>
<line x1="370.2" x2="681" y1="265.38" y2="265.38" stroke="#EBEBEB" stroke-width="1.1"/>
<line x1="370.2" x2="681" y1="259.38" y2="259.38" stroke="#F2F2F2" stroke-width="0.6"/>
<line x1="370.2" x2="681" y1="253.38" y2="253.38" stroke="#EBEBEB" stroke-width="1.1"/>
<line x1="370.2" x2="681" y1="247.38" y2="247.38" stroke="#F2F2F2" stroke-width="0.6"/>
<line x1="370.2" x2="681" y1="241.38" y2="241.38" stroke="#EBEBEB" stroke-width="1.1"/>
<line x1="370.2" x2="681" y1="235.38" y2="235.38" stroke="#F2F2F2" stroke-width="0.6"/>
<line x1="370.2" x2="681" y1="229.38" y2="229.38" stroke="#EBEBEB" stroke-width="1.1"/>
<line x1="370.2" x2="681" y1="223.39" y2="223.39" stroke="#F2F2F2" stroke-width="0.6"/>
<line x1="370.2" x2="681" y1="217.39" y2="217.39" stroke="#EBEBEB" stroke-width="1.1"/>
<line x1="370.2" x2="681" y1="211.39" y2="211.39" stroke="#F2F2F2" stroke-width="0.6"/>
<line x1="370.2" x2="681" y1="205.39" y2="205.39" stroke="#EBEBEB" stroke-width="1.1"/>
<line x1="383.9" x2="383.9" y1="202.45" y2="275.7" stroke="#EBEBEB" stroke-width="1.1"/>
<line x1="431.12" x2="431.12" y1="202.45" y2="275.7" stroke="#F2F2F2" stroke-width="0.6"/>
<line x1="478.35" x2="478.35" y1="202.45" y2="275.7" stroke="#EBEBEB" stroke-width="1.1"/>
<line x1="525.57" x2="525.57" y1="202.45" y2="275.7" stroke="#F2F2F2" stroke-width="0.6"/>
<line x1="572.79" x2="572.79" y1="202.45" y2="275.7" stroke="#EBEBEB" stroke-width="1.1"/>
<line x1="620.15" x2="620.15" y1="202.45" y2="275.7" stroke="#F2F2F2" stroke-width="0.6"/>
<line x1="667.5" x2="667.5" y1="202.45" y2="275.7" stroke="#EBEBEB" stroke-width="1.1"/>
<polyline fill="none" stroke="#00BFC4" stroke-width="0.95" stroke-linejoin="round" points="383.9,256.88 384.16,261.17 384.42,255.75 384.68,254.47 384.94,260.69 385.19,262.32 385.45,267.81 385.71,259.88 385.97,259.73 386.23,265.46 386.49,247.59 386.75,262.07 387.01,265.32 387.26,264.75 387.52,270.58 387.78,268.63 388.04,265.43 388.3,264.79 388.56,265.22 388.82,267.3 389.08,269.26 389.33,265.21 389.59,268.98 389.85,267.4 390.11,271.53 390.37,265.23 390.63,261.28 390.89,263.45 391.15,259.28 391.4,260.38 391.66,259.74 391.92,257.27 392.18,257.8 392.44,255.63 392.7,257.3 392.96,256.43 393.22,255.22 393.47,253.49 393.73,251.41 393.99,249.85 394.25,251.36 394.51,259.2 394.77,253.83 395.03,254.09 395.29,260.53 395.54,251.01 395.8,257.44 396.06,250.76 396.32,252.02 396.58,252.49 396.84,256.78 397.1,253.7 397.36,246.79 397.61,253.14 397.87,248.39 398.13,248.55 398.39,248.41 398.65,250.11 398.91,247.79 399.17,255.79 399.43,253.26 399.68,247.29 399.94,253.25 400.2,245.69 400.46,252 400.72,249.01 400.98,244.63 401.24,247.73 401.5,237.81 401.75,241.14 402.01,238.62 402.27,243.75 402.53,238.6 402.79,231.01 403.05,239.48 403.31,241.86 403.57,239.49 403.82,241.1 404.08,239.62 404.34,233.78 404.6,238.63 404.86,241.54 405.12,239.37 405.38,240.58 405.64,231.61 405.89,232.77 406.15,233.61 406.41,238.59 406.67,236.24 406.93,228.82 407.19,223.53 407.45,232.14 407.71,234.91 407.96,235.75 408.22,232.95 408.48,230.3 408.74,228.41 409,226.86 409.26,231.74 409.52,227.2 409.78,230.85 410.03,220.29 410.29,219.6 410.55,224.61 410.81,218.67 411.07,221.42 411.33,229.84 411.59,224.6 411.85,223.15 412.1,220.65 412.36,215.18 412.62,223.27 412.88,229 413.14,228.05 413.4,223.96 413.66,218.41 413.92,218.99 414.17,225.81 414.43,225.72 414.69,221.04 414.95,223.68 415.21,220.16 415.47,220.4 415.73,223.6 415.99,221.29 416.24,224.1 416.5,220.4 416.76,222.74 417.02,225.55 417.28,219.9 417.54,223.7 417.8,219.46 418.06,216.9 418.31,218.12 418.57,212.27 418.83,222.26 419.09,220.06 419.35,223.3 419.61,216.44 419.87,217.49 420.13,217.9 420.39,214.43 420.64,221.48 420.9,221.56 421.16,211.02 421.42,221.51 421.68,216.68 421.94,220.14 422.2,218.56 422.46,220.12 422.71,220.94 422.97,220.21 423.23,214.03 423.49,219.69 423.75,221.96 424.01,221.04 424.27,216.25 424.53,218.72 424.78,221.9 425.04,219.43 425.3,220.83 425.56,217.18 425.82,220.05 426.08,215.06 426.34,218.29 426.6,211.86 426.85,217.94 427.11,216.33 427.37,218.38 427.63,215.48 427.89,215.25 428.15,220.08 428.41,220.28 428.67,217.64 428.92,216.5 429.18,213.35 429.44,218.21 429.7,216.29 429.96,215.4 430.22,211.08 430.48,213.91 430.74,213.06 430.99,209.38 431.25,216.2 431.51,210.86 431.77,210.2 432.03,210.07 432.29,216.5 432.55,210.35 432.81,214.25 433.06,213.02 433.32,215.81 433.58,207.1 433.84,212.91 434.1,212.08 434.36,211.92 434.62,209.1 434.88,210.31 435.13,206.49 435.39,214.51 435.65,214.64 435.91,210.64 436.17,214.04 436.43,213.37 436.69,215.28 436.95,215.07 437.2,214.24 437.46,214.72 437.72,215.34 437.98,207.3 438.24,212.12 438.5,213.29 438.76,212.11 439.02,215.86 439.27,212.18 439.53,207.72 439.79,212.39 440.05,212.26 440.31,215.55 440.57,213.35 440.83,215.17 441.09,210.81 441.34,211.72 441.6,210.97 441.86,213.92 442.12,217.1 442.38,216.43 442.64,217.98 442.9,217.78 443.16,217.83 443.41,211.53 443.67,215.49 443.93,214.94 444.19,216.91 444.45,216.02 444.71,213.98 444.97,215.71 445.23,215.21 445.48,217.19 445.74,214.51 446,216.52 446.26,219.49 446.52,221.1 446.78,221.63 447.04,214.29 447.3,214.94 447.55,217.95 447.81,218.38 448.07,218.03 448.33,214.37 448.59,217.19 448.85,218.31 449.11,215.04 449.37,218.57 449.62,216.8 449.88,215.79 450.14,217.13 450.4,219.62 450.66,218.76 450.92,225.63 451.18,224.77 451.44,218.02 451.69,219.98 451.95,219.63 452.21,219.21 452.47,222.38 452.73,218.15 452.99,225.74 453.25,221.49 453.51,230.37 453.76,229.41 454.02,227.23 454.28,230.09 454.54,231.2 454.8,229.34 455.06,224.73 455.32,231.92 455.58,231.98 455.84,227.2 456.09,228.64 456.35,232.28 456.61,225.67 456.87,230.47 457.13,229.32 457.39,228.04 457.65,223.99 457.91,226.59 458.16,225.43 458.42,226.52 458.68,229.28 458.94,229.63 459.2,225.12 459.46,229.73 459.72,226.41 459.98,227.35 460.23,227.5 460.49,226.57 460.75,228.79 461.01,231.1 461.27,234.49 461.53,228.44 461.79,230.95 462.05,232.81 462.3,237.42 462.56,237.76 462.82,228 463.08,227.7 463.34,231.95 463.6,234.78 463.86,234.85 464.12,234.42 464.37,232.14 464.63,240.57 464.89,243.47 465.15,242.61 465.41,243.88 465.67,244.57 465.93,245.43 466.19,245.83 466.44,241.03 466.7,230.55 466.96,246.1 467.22,239.15 467.48,240.22 467.74,239.79 468,245.94 468.26,238.27 468.51,240.86 468.77,245.24 469.03,245.98 469.29,237.04 469.55,232.47 469.81,249.15 470.07,238.99 470.33,247.43 470.58,248.13 470.84,246.04 471.1,241.24 471.36,242.01 471.62,251.11 471.88,245.97 472.14,245.81 472.4,251.75 472.65,251.19 472.91,245.04 473.17,239.85 473.43,240.53 473.69,248.28 473.95,242.18 474.21,244.55 474.47,241.67 474.72,245.2 474.98,245.75 475.24,251.15 475.5,244.64 475.76,262.95 476.02,250.75 476.28,262.26 476.54,249.38 476.79,257.23 477.05,256.28 477.31,248.4 477.57,244.53 477.83,245.69 478.09,250.49 478.35,252.47 478.61,256.22 478.86,252.86 479.12,255.63 479.38,249.82 479.64,249.36 479.9,252.67 480.16,251.36 480.42,251.07 480.68,247.6 480.93,253.72 481.19,252.35 481.45,251.09 481.71,248.31 481.97,253.13 482.23,264.44 482.49,257.04 482.75,259.76 483,261.76 483.26,263.36 483.52,263.69 483.78,252.34 484.04,251.53 484.3,258.7 484.56,259.38 484.82,263.21 485.07,262.01 485.33,262.39 485.59,259.12 485.85,260.73 486.11,259.11 486.37,260.62 486.63,254.35 486.89,259.36 487.14,252.79 487.4,255.18 487.66,254.08 487.92,258.85 488.18,262.5 488.44,261.72 488.7,240.52 488.96,254.82 489.21,253.49 489.47,256.7 489.73,250.9 489.99,256.8 490.25,246.18 490.51,249.79 490.77,251.63 491.03,245.63 491.29,247.24 491.54,242.94 491.8,255.03 492.06,241.84 492.32,252.23 492.58,250.48 492.84,253.04 493.1,240.31 493.36,244.83 493.61,244.48 493.87,247.26 494.13,245.77 494.39,244.96 494.65,246.21 494.91,245.57 495.17,236.22 495.43,240.94 495.68,241.27 495.94,233.3 496.2,233.91 496.46,236.44 496.72,235.27 496.98,243.51 497.24,239.54 497.5,233.04 497.75,232.18 498.01,238.11 498.27,235.41 498.53,240.06 498.79,239.84 499.05,236.1 499.31,238.85 499.57,247.45 499.82,246.93 500.08,240.44 500.34,241.9 500.6,246.66 500.86,241.46 501.12,234.09 501.38,241.63 501.64,237.38 501.89,231.88 502.15,228.21 502.41,224.6 502.67,228.08 502.93,231.03 503.19,225.48 503.45,232.66 503.71,225.59 503.96,234.96 504.22,225.71 504.48,226.37 504.74,222.21 505,226.48 505.26,224.44 505.52,222.51 505.78,226.27 506.03,222.32 506.29,224.45 506.55,221.31 506.81,223.32 507.07,224.27 507.33,218.11 507.59,217.7 507.85,221.38 508.1,218.13 508.36,222.34 508.62,225.8 508.88,218.15 509.14,222.12 509.4,224.24 509.66,223.33 509.92,226.38 510.17,218.49 510.43,230.57 510.69,224.57 510.95,221.24 511.21,225.93 511.47,223.7 511.73,224.62 511.99,219.38 512.24,221.53 512.5,218.89 512.76,219.04 513.02,220.48 513.28,221.4 513.54,216.16 513.8,216.65 514.06,209.35 514.31,221.12 514.57,211.01 514.83,222.21 515.09,212.88 515.35,215.37 515.61,214.31 515.87,217.48 516.13,223.89 516.38,218.57 516.64,220.4 516.9,218.77 517.16,215.08 517.42,215.5 517.68,216.91 517.94,207.77 518.2,218.57 518.45,220.52 518.71,208.02 518.97,213.99 519.23,207.69 519.49,213.21 519.75,208.96 520.01,210.3 520.27,211.18 520.52,219.78 520.78,220.82 521.04,208.77 521.3,207.6 521.56,209.22 521.82,212.66 522.08,213.28 522.34,216.25 522.59,216.36 522.85,213.43 523.11,218.84 523.37,210.64 523.63,213.75 523.89,207.99 524.15,216.87 524.41,219.89 524.66,209.17 524.92,210.93 525.18,209.17 525.44,209.84 525.7,210.53 525.96,207.71 526.22,209.38 526.48,211.43 526.74,214.64 526.99,213.12 527.25,209.91 527.51,212 527.77,210.71 528.03,209.63 528.29,215.68 528.55,214.75 528.81,216.1 529.06,212.48 529.32,212.84 529.58,213.14 529.84,214.56 530.1,208.23 530.36,211.7 530.62,210.42 530.88,210.63 531.13,211.91 531.39,210.97 531.65,210.3 531.91,212.85 532.17,211.16 532.43,213.4 532.69,210.22 532.95,211.72 533.2,209.49 533.46,211.18 533.72,214.78 533.98,211.43 534.24,208.29 534.5,207.86 534.76,208.57 535.02,219.28 535.27,210.94 535.53,212.68 535.79,211.34 536.05,211.37 536.31,209.19 536.57,211.38 536.83,213.59 537.09,209.48 537.34,217.07 537.6,214.37 537.86,218.82 538.12,211.4 538.38,211.77 538.64,215.01 538.9,213.05 539.16,210.96 539.41,215.32 539.67,213.22 539.93,221.38 540.19,214.09 540.45,214.41 540.71,220.25 540.97,212.14 541.23,216.88 541.48,216.81 541.74,220.22 542,213.44 542.26,215.82 542.52,216.91 542.78,220.91 543.04,217.83 543.3,224.04 543.55,220.89 543.81,212.82 544.07,219.05 544.33,212.8 544.59,221.69 544.85,221.12 545.11,222.7 545.37,225.95 545.62,225.58 545.88,214.69 546.14,215.39 546.4,219.62 546.66,218.34 546.92,214.56 547.18,214.96 547.44,213.96 547.69,214.27 547.95,215.65 548.21,218.94 548.47,220.16 548.73,212.68 548.99,213.11 549.25,216.53 549.51,219.32 549.76,216.44 550.02,214.66 550.28,215.5 550.54,226.16 550.8,217.09 551.06,222.1 551.32,220.74 551.58,228.21 551.83,225.43 552.09,227.6 552.35,224.39 552.61,223.31 552.87,221.83 553.13,223.33 553.39,221.18 553.65,227.47 553.9,221.68 554.16,226.29 554.42,225.16 554.68,222.5 554.94,222.68 555.2,236.59 555.46,231.63 555.72,230.21 555.97,237.81 556.23,228.39 556.49,229.73 556.75,231.6 557.01,236.11 557.27,243.7 557.53,239.13 557.79,242.43 558.04,242.61 558.3,244.57 558.56,241.51 558.82,244.51 559.08,231.53 559.34,240.98 559.6,237.1 559.86,241.19 560.11,243.51 560.37,236.78 560.63,232.54 560.89,245.77 561.15,233.29 561.41,248.78 561.67,245.32 561.93,246.47 562.19,253.2 562.44,248.06 562.7,238.12 562.96,248.4 563.22,242.61 563.48,236.22 563.74,248.05 564,250.51 564.26,239.2 564.51,242.32 564.77,237.89 565.03,244.19 565.29,246.39 565.55,250.59 565.81,249.91 566.07,245.39 566.33,254.15 566.58,254.52 566.84,253.78 567.1,249.59 567.36,251.78 567.62,262.03 567.88,251.42 568.14,249.45 568.4,255.2 568.65,252.74 568.91,248.43 569.17,255.19 569.43,249.97 569.69,254.24 569.95,250.9 570.21,263.71 570.47,258.16 570.72,251.32 570.98,257.55 571.24,244.66 571.5,247.46 571.76,250.93 572.02,251.35 572.28,247.59 572.54,257.14 572.79,268.11 573.05,253.69 573.31,267.07 573.57,246.41 573.83,254.58 574.09,252.65 574.35,259.78 574.61,262.42 574.86,257.43 575.12,254.01 575.38,255.43 575.64,252.28 575.9,259.07 576.16,253.7 576.42,258.93 576.68,254.65 576.93,259.68 577.19,255.15 577.45,254.63 577.71,248.67 577.97,257.62 578.23,264.23 578.49,259.06 578.75,261.97 579,261.22 579.26,253.32 579.52,254.45 579.78,259.82 580.04,239.82 580.3,255.17 580.56,252.03 580.82,251.83 581.07,252.39 581.33,239.69 581.59,259.3 581.85,268.11 582.11,256 582.37,243.94 582.63,241.47 582.89,256.19 583.14,246.74 583.4,243.44 583.66,250.87 583.92,248.79 584.18,256.53 584.44,254.3 584.7,243.22 584.96,239.22 585.21,245.11 585.47,254.47 585.73,238.79 585.99,247.55 586.25,244.92 586.51,238.99 586.77,236.1 587.03,236.37 587.28,234.72 587.54,246.31 587.8,231.69 588.06,233.78 588.32,243.08 588.58,244.85 588.84,242.1 589.1,229.6 589.35,230.55 589.61,249.02 589.87,233.99 590.13,246.14 590.39,238.24 590.65,241.37 590.91,244.76 591.17,239.7 591.42,235.61 591.68,237.75 591.94,239.27 592.2,228.58 592.46,231.34 592.72,227.23 592.98,235.78 593.24,237.43 593.49,235.34 593.75,228.09 594.01,225.51 594.27,230.11 594.53,230.62 594.79,229.81 595.05,229.57 595.31,229.61 595.56,226.21 595.82,223.57 596.08,223.61 596.34,223.65 596.6,232.19 596.86,228.53 597.12,222.1 597.38,224.68 597.64,229.25 597.89,231.99 598.15,238.73 598.41,231.28 598.67,229.06 598.93,232.94 599.19,230.21 599.45,234 599.71,227.4 599.96,231.76 600.22,226.27 600.48,227.73 600.74,231.55 601,227.57 601.26,225.18 601.52,231.83 601.78,218.8 602.03,219.43 602.29,218.87 602.55,221.31 602.81,226.23 603.07,215.56 603.33,222.8 603.59,221.78 603.85,222.75 604.1,225.78 604.36,229.11 604.62,221.72 604.88,216.33 605.14,213.83 605.4,215.01 605.66,212.5 605.92,216.78 606.17,222.89 606.43,211.47 606.69,213.5 606.95,212.66 607.21,213.68 607.47,211.62 607.73,212.07 607.99,212.56 608.24,212.74 608.5,213.3 608.76,211.97 609.02,212.4 609.28,211.6 609.54,212.79 609.8,212.01 610.06,209.85 610.31,214.25 610.57,214.14 610.83,218.49 611.09,211.16 611.35,214.2 611.61,213.85 611.87,210.32 612.13,208.24 612.38,210.77 612.64,212.56 612.9,210.05 613.16,217.02 613.42,219.77 613.68,214 613.94,216.35 614.2,209.73 614.45,209.57 614.71,211.41 614.97,212.96 615.23,215.25 615.49,212.75 615.75,211.93 616.01,211.63 616.27,214.94 616.52,216.23 616.78,214.71 617.04,213.22 617.3,214.33 617.56,215.02 617.82,216.92 618.08,217.34 618.34,216.45 618.59,209.27 618.85,217.38 619.11,213.81 619.37,210.25 619.63,214.29 619.89,214.11 620.15,212.77 620.41,213.98 620.66,212.15 620.92,211.65 621.18,213.57 621.44,206.98 621.7,210.46 621.96,216.13 622.22,213.9 622.48,215.65 622.73,215.57 622.99,210.93 623.25,210.11 623.51,213.45 623.77,208.28 624.03,209.06 624.29,206.51 624.55,210.48 624.8,208.61 625.06,206.1 625.32,208.69 625.58,209.87 625.84,211.6 626.1,217.14 626.36,213.57 626.62,210.76 626.87,213.59 627.13,218 627.39,212.85 627.65,212.86 627.91,216.09 628.17,215 628.43,210.93 628.69,207.79 628.94,213.16 629.2,217.03 629.46,215.66 629.72,213.93 629.98,217.48 630.24,211.41 630.5,217.64 630.76,209.59 631.01,214.99 631.27,216.92 631.53,217.34 631.79,215.62 632.05,215.67 632.31,216.81 632.57,214.78 632.83,218.35 633.09,217.54 633.34,218.76 633.6,221.67 633.86,221.09 634.12,215.73 634.38,219.61 634.64,219.25 634.9,221.12 635.16,220.45 635.41,219.44 635.67,220.97 635.93,221.42 636.19,218.59 636.45,218.93 636.71,217.65 636.97,219.52 637.23,222.22 637.48,219.71 637.74,218.45 638,221.16 638.26,224.71 638.52,221.12 638.78,223.22 639.04,223.6 639.3,222.69 639.55,225.1 639.81,219.43 640.07,221.67 640.33,221.44 640.59,226.93 640.85,227.96 641.11,223.55 641.37,219.96 641.62,221.18 641.88,222.65 642.14,220.73 642.4,223.25 642.66,227.56 642.92,228.51 643.18,230.22 643.44,229.67 643.69,226.6 643.95,226.5 644.21,230.67 644.47,224.81 644.73,227.95 644.99,228.78 645.25,233.68 645.51,232.56 645.76,231.21 646.02,232.15 646.28,231.13 646.54,226.87 646.8,229.05 647.06,230.88 647.32,234.41 647.58,226.48 647.83,228.13 648.09,226.22 648.35,227.41 648.61,233.13 648.87,230.71 649.13,226.93 649.39,226.53 649.65,227.45 649.9,229.98 650.16,234.76 650.42,227.16 650.68,226.75 650.94,228.18 651.2,230.39 651.46,232.43 651.72,229.58 651.97,233.8 652.23,232.14 652.49,233.46 652.75,233.94 653.01,239.52 653.27,233.72 653.53,235.06 653.79,231.7 654.04,245.58 654.3,243.59 654.56,238.71 654.82,243.11 655.08,243.93 655.34,234.87 655.6,235.7 655.86,246.3 656.11,241.95 656.37,247.93 656.63,238.65 656.89,245.61 657.15,236.9 657.41,238.16 657.67,237.85 657.93,237.92 658.18,245.01 658.44,242.87 658.7,243.74 658.96,251.64 659.22,251.79 659.48,252.12 659.74,255.64 660,241.48 660.25,249.75 660.51,248.08 660.77,256.38 661.03,253.45 661.29,256.37 661.55,255.97 661.81,254.8 662.07,245.79 662.32,255.79 662.58,250.29 662.84,247.04 663.1,246.59 663.36,249.56 663.62,247.99 663.88,249.28 664.14,252.58 664.39,250.14 664.65,247.46 664.91,251.92 665.17,250.67 665.43,250.42 665.69,251.35 665.95,252.86 666.21,254.67 666.46,256.25 666.72,257.64 666.98,259.49 667.24,261.73"/>
<rect x="370.2" y="188.9" width="310.8" height="13.55" fill="#D9D9D9"/>
<path d="M370.2,275.7V188.9H681V275.7Z" fill="none" stroke="#333" stroke-width="0.7"/>
<line x1="370.2" x2="681" y1="202.45" y2="202.45" stroke="#333" stroke-width="1.3"/>
<line x1="367.5" x2="370.2" y1="265.38" y2="265.38" stroke="#333" stroke-width="0.8"/>
<line x1="367.5" x2="370.2" y1="253.38" y2="253.38" stroke="#333" stroke-width="0.8"/>
<line x1="367.5" x2="370.2" y1="241.38" y2="241.38" stroke="#333" stroke-width="0.8"/>
<line x1="367.5" x2="370.2" y1="229.38" y2="229.38" stroke="#333" stroke-width="0.8"/>
<line x1="367.5" x2="370.2" y1="217.39" y2="217.39" stroke="#333" stroke-width="0.8"/>
<line x1="367.5" x2="370.2" y1="205.39" y2="205.39" stroke="#333" stroke-width="0.8"/>
<line x1="28.4" x2="339.5" y1="366.32" y2="366.32" stroke="#F2F2F2" stroke-width="0.6"/>
<line x1="28.4" x2="339.5" y1="356.53" y2="356.53" stroke="#EBEBEB" stroke-width="1.1"/>
<line x1="28.4" x2="339.5" y1="346.75" y2="346.75" stroke="#F2F2F2" stroke-width="0.6"/>
<line x1="28.4" x2="339.5" y1="336.96" y2="336.96" stroke="#EBEBEB" stroke-width="1.1"/>
<line x1="28.4" x2="339.5" y1="327.18" y2="327.18" stroke="#F2F2F2" stroke-width="0.6"/>
<line x1="28.4" x2="339.5" y1="317.39" y2="317.39" stroke="#EBEBEB" stroke-width="1.1"/>
<line x1="28.4" x2="339.5" y1="307.6" y2="307.6" stroke="#F2F2F2" stroke-width="0.6"/>
<line x1="28.4" x2="339.5" y1="297.82" y2="297.82" stroke="#EBEBEB" stroke-width="1.1"/>
<line x1="42.6" x2="42.6" y1="294.2" y2="367.45" stroke="#EBEBEB" stroke-width="1.1"/>
<line x1="89.79" x2="89.79" y1="294.2" y2="367.45" stroke="#F2F2F2" stroke-width="0.6"/>
<line x1="136.98" x2="136.98" y1="294.2" y2="367.45" stroke="#EBEBEB" stroke-width="1.1"/>
<line x1="184.17" x2="184.17" y1="294.2" y2="367.45" stroke="#F2F2F2" stroke-width="0.6"/>
<line x1="231.36" x2="231.36" y1="294.2" y2="367.45" stroke="#EBEBEB" stroke-width="1.1"/>
<line x1="278.68" x2="278.68" y1="294.2" y2="367.45" stroke="#F2F2F2" stroke-width="0.6"/>
<line x1="326" x2="326" y1="294.2" y2="367.45" stroke="#EBEBEB" stroke-width="1.1"/>
<polyline fill="none" stroke="#00B0F6" stroke-width="0.95" stroke-linejoin="round" points="42.6,317.97 42.86,317.08 43.12,324.64 43.38,318.31 43.63,331.92 43.89,320.61 44.15,325.3 44.41,328.92 44.67,323.83 44.93,327.19 45.19,318.79 45.44,320.11 45.7,327.72 45.96,325.31 46.22,319.29 46.48,322.14 46.74,328.69 47,324.35 47.25,334.78 47.51,327.03 47.77,323.29 48.03,322.73 48.29,319.04 48.55,333.3 48.81,330.99 49.06,328.24 49.32,333.71 49.58,327.58 49.84,335.32 50.1,336.19 50.36,334.52 50.62,331.51 50.87,333.34 51.13,336.45 51.39,322.69 51.65,334.28 51.91,332.17 52.17,332.16 52.43,339 52.68,334.24 52.94,333.36 53.2,333.21 53.46,330.62 53.72,313.06 53.98,314.17 54.24,327.65 54.49,341.29 54.75,334.59 55.01,316.96 55.27,328.92 55.53,322.58 55.79,336.1 56.05,328.25 56.3,344.9 56.56,339.16 56.82,321.7 57.08,315.44 57.34,309.86 57.6,323.33 57.86,318.23 58.11,311.69 58.37,322.29 58.63,324.31 58.89,317.52 59.15,321.27 59.41,324.99 59.67,316.85 59.92,326.38 60.18,328 60.44,320.68 60.7,315.56 60.96,303.12 61.22,325.03 61.48,320.42 61.73,310.86 61.99,324.78 62.25,324.16 62.51,327.04 62.77,336.48 63.03,349.2 63.29,337.07 63.54,347.65 63.8,326.86 64.06,340.39 64.32,349.58 64.58,352.69 64.84,337.24 65.1,348.02 65.35,354.23 65.61,347.06 65.87,346.41 66.13,355.36 66.39,357.23 66.65,355.69 66.91,359.41 67.16,353.24 67.42,359.8 67.68,357.65 67.94,359.95 68.2,351.94 68.46,341.61 68.72,357.82 68.97,360.81 69.23,360.26 69.49,360.78 69.75,347.42 70.01,356.43 70.27,355.08 70.53,349.05 70.78,357.89 71.04,361.49 71.3,359.55 71.56,354.98 71.82,360.87 72.08,332.61 72.34,352.76 72.59,357.71 72.85,358.64 73.11,314.76 73.37,340.44 73.63,337.39 73.89,327.82 74.15,346.32 74.4,346.45 74.66,363.53 74.92,347.27 75.18,346.74 75.44,346.75 75.7,338.16 75.96,333.86 76.21,354.46 76.47,351.94 76.73,343.76 76.99,321.05 77.25,334.54 77.51,349.62 77.77,341.95 78.03,321.68 78.28,313.55 78.54,326.73 78.8,335.05 79.06,348.05 79.32,322.84 79.58,352.91 79.84,328.88 80.09,339.97 80.35,342.09 80.61,352.54 80.87,317.53 81.13,322.14 81.39,330.24 81.65,331.47 81.9,337.73 82.16,341.87 82.42,336.68 82.68,342.37 82.94,331.01 83.2,334.03 83.46,319.18 83.71,329.84 83.97,334.58 84.23,333.34 84.49,321.3 84.75,321.62 85.01,316.55 85.27,317.96 85.52,324.84 85.78,320.07 86.04,317.21 86.3,323.56 86.56,330.3 86.82,327.55 87.08,333.35 87.33,338.93 87.59,338.04 87.85,337.27 88.11,331.42 88.37,333.36 88.63,331.93 88.89,315.1 89.14,318.74 89.4,325.81 89.66,319.53 89.92,317.67 90.18,318.6 90.44,324.94 90.7,320.91 90.95,318.9 91.21,318.85 91.47,320.3 91.73,319.69 91.99,319.35 92.25,320.2 92.51,316.32 92.76,315.61 93.02,322.78 93.28,324.17 93.54,321.14 93.8,308.99 94.06,317.47 94.32,316.87 94.57,305.91 94.83,315.72 95.09,322.49 95.35,314.73 95.61,309.68 95.87,317.96 96.13,317.99 96.38,315.47 96.64,320.24 96.9,314.57 97.16,315.65 97.42,314.42 97.68,311.84 97.94,312.47 98.19,317.36 98.45,314.97 98.71,312.15 98.97,307.82 99.23,316.47 99.49,315.12 99.75,313.54 100,314.57 100.26,307.95 100.52,321.44 100.78,299.7 101.04,306.08 101.3,312.66 101.56,320.93 101.81,311.95 102.07,316.03 102.33,320.94 102.59,320.17 102.85,317.09 103.11,317.39 103.37,307.2 103.62,311.16 103.88,314.95 104.14,323.67 104.4,300.38 104.66,325.1 104.92,313.23 105.18,321.69 105.43,311.28 105.69,317.51 105.95,322.79 106.21,324.54 106.47,326.53 106.73,319.28 106.99,308.28 107.24,310.86 107.5,324.86 107.76,301.09 108.02,324.32 108.28,302.97 108.54,304.01 108.8,313.14 109.05,304.7 109.31,304.7 109.57,312.55 109.83,302.91 110.09,303.16 110.35,315.2 110.61,336.86 110.86,310.08 111.12,317.52 111.38,314.62 111.64,324.96 111.9,328.38 112.16,308.18 112.42,309.84 112.67,328.45 112.93,310.78 113.19,318.71 113.45,312.81 113.71,321.4 113.97,317.58 114.23,329.87 114.48,332.2 114.74,325.88 115,338.59 115.26,329.06 115.52,341.55 115.78,315.59 116.04,323.24 116.29,341.2 116.55,320.83 116.81,337.9 117.07,325.26 117.33,327.29 117.59,316.11 117.85,328.96 118.1,337.06 118.36,335.34 118.62,341.06 118.88,320.6 119.14,320.92 119.4,328.55 119.66,320.29 119.91,321.64 120.17,343.77 120.43,321.81 120.69,335.99 120.95,325.56 121.21,336.26 121.47,324.82 121.72,343.33 121.98,340.14 122.24,319.25 122.5,338.48 122.76,341.46 123.02,322.34 123.28,328.04 123.53,318.86 123.79,316.38 124.05,323.08 124.31,315.53 124.57,312.71 124.83,314.5 125.09,325.39 125.34,331.26 125.6,338.29 125.86,328.33 126.12,323.37 126.38,337.6 126.64,345.24 126.9,349.1 127.15,346.18 127.41,351.06 127.67,347.58 127.93,334.63 128.19,330.55 128.45,331.15 128.71,325.25 128.96,340.31 129.22,336.21 129.48,351.19 129.74,340.02 130,348.96 130.26,325.01 130.52,318.93 130.77,319.2 131.03,320.17 131.29,323.48 131.55,322.65 131.81,328.95 132.07,315.26 132.33,342.53 132.58,339.27 132.84,342.47 133.1,327.32 133.36,346.2 133.62,327.33 133.88,338.55 134.14,329.05 134.39,342.86 134.65,342.77 134.91,332.42 135.17,344.82 135.43,335.85 135.69,337.98 135.95,339.81 136.2,327.09 136.46,322.11 136.72,343.76 136.98,328.5 137.24,329.83 137.5,324.5 137.76,346.18 138.01,318.84 138.27,317.22 138.53,319.01 138.79,315.18 139.05,317.84 139.31,316.42 139.57,321.72 139.82,326.29 140.08,325.4 140.34,318.39 140.6,322.94 140.86,329.13 141.12,329.14 141.38,343.09 141.63,326.2 141.89,347.42 142.15,330.4 142.41,339.69 142.67,341.09 142.93,340.66 143.19,325 143.44,322.83 143.7,325.69 143.96,321.99 144.22,323.35 144.48,338.41 144.74,327.7 145,327.66 145.25,327.5 145.51,321.49 145.77,322.39 146.03,323.81 146.29,331.82 146.55,335.97 146.81,333.19 147.06,325.68 147.32,343.37 147.58,329.63 147.84,346 148.1,331.39 148.36,329.79 148.62,346.16 148.88,335.49 149.13,342.53 149.39,333.42 149.65,342.31 149.91,339.58 150.17,348.04 150.43,327.15 150.69,345.32 150.94,343.51 151.2,352.47 151.46,343.42 151.72,351.16 151.98,312.65 152.24,325.66 152.5,329.58 152.75,339.84 153.01,320.1 153.27,345.38 153.53,335.6 153.79,330.5 154.05,317.62 154.31,339.65 154.56,314.91 154.82,336.43 155.08,326.65 155.34,332.26 155.6,314.56 155.86,317.85 156.12,332.96 156.37,332.99 156.63,322.85 156.89,314.35 157.15,320.83 157.41,319.81 157.67,323.71 157.93,318.13 158.18,316.02 158.44,326.96 158.7,351.34 158.96,335.36 159.22,333.45 159.48,323.73 159.74,323.27 159.99,331 160.25,325.7 160.51,340.81 160.77,343.84 161.03,331.64 161.29,341.87 161.55,343.78 161.8,336.81 162.06,338.91 162.32,341.71 162.58,335.74 162.84,337.4 163.1,330.85 163.36,336.52 163.61,352.16 163.87,345.78 164.13,345.37 164.39,352.39 164.65,358.59 164.91,350.29 165.17,358.54 165.42,359.78 165.68,343.19 165.94,350.31 166.2,343.04 166.46,346.7 166.72,358.14 166.98,353.22 167.23,344.14 167.49,340.08 167.75,351.09 168.01,350.68 168.27,338.89 168.53,337.95 168.79,358.02 169.04,330.55 169.3,360.39 169.56,322.64 169.82,350.73 170.08,334.8 170.34,327.5 170.6,336.43 170.85,348.48 171.11,322.65 171.37,314.07 171.63,326.94 171.89,328.29 172.15,312.11 172.41,340.03 172.66,352.11 172.92,345.02 173.18,340.48 173.44,337.56 173.7,351.31 173.96,320.29 174.22,352.12 174.47,349.02 174.73,345.42 174.99,352.9 175.25,355.01 175.51,351.49 175.77,325.12 176.03,348.83 176.28,350.2 176.54,322.33 176.8,330.84 177.06,335.63 177.32,339.94 177.58,329.42 177.84,319.73 178.09,322.83 178.35,320.7 178.61,310.25 178.87,312.76 179.13,315.88 179.39,308.96 179.65,313.57 179.9,309.15 180.16,316.78 180.42,325.44 180.68,327.27 180.94,313.45 181.2,320.9 181.46,320.8 181.71,317.66 181.97,314.15 182.23,325.82 182.49,303.09 182.75,307.25 183.01,306.87 183.27,328.15 183.52,305.32 183.78,303.8 184.04,325.38 184.3,309.01 184.56,316.59 184.82,326.48 185.08,315.63 185.33,317.87 185.59,310.86 185.85,312.62 186.11,314.88 186.37,313.34 186.63,320.41 186.89,317.34 187.14,308.58 187.4,320.95 187.66,318.08 187.92,325.92 188.18,322.13 188.44,325.84 188.7,320.69 188.95,305.83 189.21,303.5 189.47,312.84 189.73,303.09 189.99,310.32 190.25,310.85 190.51,304.11 190.76,310.29 191.02,309.22 191.28,321.16 191.54,313.8 191.8,317.9 192.06,319.59 192.32,310.56 192.57,311.01 192.83,317.21 193.09,311.78 193.35,301.35 193.61,307.94 193.87,306.62 194.13,309.25 194.38,300.93 194.64,309.77 194.9,302.39 195.16,311.73 195.42,298.56 195.68,302.94 195.94,303 196.19,304.74 196.45,301.23 196.71,302.46 196.97,301.84 197.23,321.96 197.49,306.47 197.75,305.25 198,305.05 198.26,304.37 198.52,308.2 198.78,313.86 199.04,310.81 199.3,327.77 199.56,318.16 199.81,322.07 200.07,316.25 200.33,319.32 200.59,324.23 200.85,321.31 201.11,321.7 201.37,333.57 201.62,317.08 201.88,323.29 202.14,323.43 202.4,304.79 202.66,315.14 202.92,313.27 203.18,325.04 203.43,326.93 203.69,313.68 203.95,324.66 204.21,335.48 204.47,338.03 204.73,327.06 204.99,335.54 205.24,332 205.5,334.03 205.76,328.31 206.02,313.54 206.28,321.89 206.54,316.44 206.8,321.34 207.05,318.14 207.31,320.35 207.57,329.18 207.83,333.86 208.09,317.81 208.35,326.68 208.61,320.59 208.86,314.81 209.12,337.93 209.38,333.18 209.64,332.75 209.9,306.96 210.16,332.07 210.42,344.04 210.67,325.59 210.93,321.39 211.19,314.67 211.45,314.04 211.71,318.47 211.97,312.06 212.23,322.77 212.48,311.64 212.74,328.08 213,324.52 213.26,321.04 213.52,312.6 213.78,324.12 214.04,321.92 214.29,330.54 214.55,316.28 214.81,314.93 215.07,338.32 215.33,337.87 215.59,343.24 215.85,336.59 216.1,337.04 216.36,330.59 216.62,344.03 216.88,336.46 217.14,318 217.4,311.58 217.66,323.22 217.91,328.52 218.17,339.12 218.43,339.94 218.69,328.69 218.95,341.22 219.21,339.93 219.47,344.7 219.72,338.24 219.98,340.63 220.24,334.38 220.5,342.62 220.76,337.13 221.02,328.33 221.28,338.64 221.54,341.41 221.79,312.24 222.05,337.64 222.31,335.35 222.57,333.23 222.83,318.17 223.09,322.61 223.35,331.35 223.6,332.73 223.86,328.17 224.12,330.73 224.38,320.59 224.64,323.3 224.9,334.28 225.16,336.32 225.41,333.6 225.67,320.07 225.93,311.7 226.19,306.75 226.45,324.7 226.71,329.1 226.97,333.82 227.22,331.1 227.48,320.78 227.74,326.48 228,322.01 228.26,322.62 228.52,326.25 228.78,323.06 229.03,322.43 229.29,325.79 229.55,314.81 229.81,321.93 230.07,321.19 230.33,315.01 230.59,324.26 230.84,330.94 231.1,328.67 231.36,327.73 231.62,331.48 231.88,331.79 232.14,326.76 232.4,329.35 232.65,332.6 232.91,321.51 233.17,332.96 233.43,331.09 233.69,330.41 233.95,326.82 234.21,300.89 234.46,321.04 234.72,322.31 234.98,320.01 235.24,331.12 235.5,313.43 235.76,319.83 236.02,317.91 236.27,312.12 236.53,329.68 236.79,320.06 237.05,312.77 237.31,315.56 237.57,308.24 237.83,319.59 238.08,335.6 238.34,311.22 238.6,310.21 238.86,323.48 239.12,309.15 239.38,311.39 239.64,314.04 239.89,308.25 240.15,324.22 240.41,323.4 240.67,323.08 240.93,323.28 241.19,315.67 241.45,330.26 241.7,310.98 241.96,310.59 242.22,313 242.48,312.1 242.74,315.53 243,303.74 243.26,308.02 243.51,305.67 243.77,326.11 244.03,325.93 244.29,305.36 244.55,322.53 244.81,334.73 245.07,319.89 245.32,309.27 245.58,343.36 245.84,345.08 246.1,337.86 246.36,344.99 246.62,322.28 246.88,328.39 247.13,339.82 247.39,337.91 247.65,335.92 247.91,343.25 248.17,329.2 248.43,314.27 248.69,338.3 248.94,341.46 249.2,333.95 249.46,334.76 249.72,318.69 249.98,343.82 250.24,323.38 250.5,335.89 250.75,337.57 251.01,340.92 251.27,333.1 251.53,321.42 251.79,331.94 252.05,341.57 252.31,344.99 252.56,325.18 252.82,327.08 253.08,339.5 253.34,328.57 253.6,335.96 253.86,353.27 254.12,334.15 254.37,338.41 254.63,356.69 254.89,329.15 255.15,322.81 255.41,332 255.67,334.35 255.93,328 256.18,331.43 256.44,328.52 256.7,322.94 256.96,328.13 257.22,354.11 257.48,324.98 257.74,327.52 257.99,328 258.25,328.4 258.51,334.6 258.77,332.65 259.03,324.6 259.29,325.19 259.55,323.4 259.8,328.13 260.06,326.07 260.32,336.62 260.58,334.92 260.84,333.71 261.1,325.58 261.36,320.04 261.61,327.93 261.87,329.47 262.13,330.63 262.39,339.42 262.65,344.8 262.91,335.8 263.17,336.33 263.42,328.83 263.68,356.01 263.94,335.52 264.2,324.34 264.46,317.69 264.72,332.62 264.98,326.41 265.23,321.83 265.49,314.97 265.75,336.18 266.01,332.14 266.27,328.1 266.53,332.28 266.79,329.44 267.04,327.03 267.3,322.57 267.56,311.02 267.82,332.35 268.08,315.8 268.34,323.88 268.6,321.42 268.85,321.51 269.11,323.48 269.37,320.63 269.63,333.32 269.89,320.18 270.15,313.29 270.41,306.71 270.66,306.16 270.92,305.52 271.18,309.22 271.44,308.64 271.7,308.93 271.96,327.13 272.22,325.91 272.47,328 272.73,319.86 272.99,315.68 273.25,310.76 273.51,308.39 273.77,312.04 274.03,308.06 274.28,320.84 274.54,306.95 274.8,322.95 275.06,316.68 275.32,320.82 275.58,304.53 275.84,320.93 276.09,330.22 276.35,326.99 276.61,328.48 276.87,323.98 277.13,329.21 277.39,304.39 277.65,332.9 277.9,321.02 278.16,321.55 278.42,325.31 278.68,318.21 278.94,320.88 279.2,324.17 279.46,331.42 279.71,321.52 279.97,312.34 280.23,327.76 280.49,326.92 280.75,329.66 281.01,309.42 281.27,327.63 281.52,308.87 281.78,313.37 282.04,316.88 282.3,311.17 282.56,323.66 282.82,319.25 283.08,311.33 283.33,325.65 283.59,317.45 283.85,310.87 284.11,311.74 284.37,317.25 284.63,328.4 284.89,318.72 285.14,317.7 285.4,323.31 285.66,318.28 285.92,311.34 286.18,302.66 286.44,316.45 286.7,307.45 286.95,309.09 287.21,302.4 287.47,304.35 287.73,300.76 287.99,301.47 288.25,301.5 288.51,310.89 288.76,307.39 289.02,324.04 289.28,316.1 289.54,307.28 289.8,303.05 290.06,308.81 290.32,322.33 290.57,310.31 290.83,315.24 291.09,315.47 291.35,305.91 291.61,314.78 291.87,319.41 292.13,323.88 292.39,325.02 292.64,324.74 292.9,325.93 293.16,325.89 293.42,325.51 293.68,319.54 293.94,305.24 294.2,309.22 294.45,317.07 294.71,321.92 294.97,301.21 295.23,316.02 295.49,321.6 295.75,307.4 296.01,314.98 296.26,322.47 296.52,323.43 296.78,320.59 297.04,324.6 297.3,322.17 297.56,327.49 297.82,326.8 298.07,320.99 298.33,324.84 298.59,327.05 298.85,319.42 299.11,322.19 299.37,326.41 299.63,318.13 299.88,322.98 300.14,325.24 300.4,327.26 300.66,300.7 300.92,316.95 301.18,326.96 301.44,324.88 301.69,324.87 301.95,330.02 302.21,323.62 302.47,334.06 302.73,336.26 302.99,328.16 303.25,330.16 303.5,343.2 303.76,345.4 304.02,339.09 304.28,339.12 304.54,344.65 304.8,341.83 305.06,339.47 305.31,322.23 305.57,335.28 305.83,338.59 306.09,342.73 306.35,335.85 306.61,337.16 306.87,340.14 307.12,345.45 307.38,346.63 307.64,345.24 307.9,331.87 308.16,321.75 308.42,327.56 308.68,335.83 308.93,324.47 309.19,339.22 309.45,324.41 309.71,332.9 309.97,323.39 310.23,326.51 310.49,336.42 310.74,326.11 311,328.68 311.26,341.84 311.52,341.81 311.78,347.94 312.04,345.06 312.3,344.86 312.55,352.43 312.81,352.78 313.07,352.39 313.33,352.11 313.59,344.25 313.85,353.12 314.11,351.33 314.36,352.34 314.62,351.63 314.88,298.1 315.14,339.52 315.4,342.03 315.66,339.47 315.92,337.44 316.17,335.2 316.43,329.94 316.69,328.65 316.95,321.97 317.21,325.37 317.47,327.69 317.73,317.15 317.98,327.95 318.24,324.86 318.5,325.08 318.76,329.59 319.02,328.98 319.28,326.16 319.54,320.31 319.79,324.64 320.05,317.02 320.31,317.92 320.57,321.23 320.83,324.49 321.09,319.64 321.35,326.6 321.6,318.15 321.86,330.4 322.12,331.24 322.38,327.95 322.64,330.73 322.9,326.88 323.16,331.04 323.41,330.31 323.67,323.97 323.93,327.23 324.19,322.37 324.45,324.26 324.71,321.59 324.97,323.51 325.22,317.51 325.48,324.14 325.74,328.95"/>
<rect x="28.4" y="280.65" width="311.1" height="13.55" fill="#D9D9D9"/>
<path d="M28.4,367.45V280.65H339.5V367.45Z" fill="none" stroke="#333" stroke-width="0.7"/>
<line x1="28.4" x2="339.5" y1="294.2" y2="294.2" stroke="#333" stroke-width="1.3"/>
<line x1="25.7" x2="28.4" y1="356.53" y2="356.53" stroke="#333" stroke-width="0.8"/>
<line x1="25.7" x2="28.4" y1="336.96" y2="336.96" stroke="#333" stroke-width="0.8"/>
<line x1="25.7" x2="28.4" y1="317.39" y2="317.39" stroke="#333" stroke-width="0.8"/>
<line x1="25.7" x2="28.4" y1="297.82" y2="297.82" stroke="#333" stroke-width="0.8"/>
<line x1="370.2" x2="681" y1="366.78" y2="366.78" stroke="#EBEBEB" stroke-width="1.1"/>
<line x1="370.2" x2="681" y1="356.25" y2="356.25" stroke="#F2F2F2" stroke-width="0.6"/>
<line x1="370.2" x2="681" y1="345.71" y2="345.71" stroke="#EBEBEB" stroke-width="1.1"/>
<line x1="370.2" x2="681" y1="335.18" y2="335.18" stroke="#F2F2F2" stroke-width="0.6"/>
<line x1="370.2" x2="681" y1="324.64" y2="324.64" stroke="#EBEBEB" stroke-width="1.1"/>
<line x1="370.2" x2="681" y1="314.11" y2="314.11" stroke="#F2F2F2" stroke-width="0.6"/>
<line x1="370.2" x2="681" y1="303.57" y2="303.57" stroke="#EBEBEB" stroke-width="1.1"/>
<line x1="383.9" x2="383.9" y1="294.2" y2="367.45" stroke="#EBEBEB" stroke-width="1.1"/>
<line x1="431.12" x2="431.12" y1="294.2" y2="367.45" stroke="#F2F2F2" stroke-width="0.6"/>
<line x1="478.35" x2="478.35" y1="294.2" y2="367.45" stroke="#EBEBEB" stroke-width="1.1"/>
<line x1="525.57" x2="525.57" y1="294.2" y2="367.45" stroke="#F2F2F2" stroke-width="0.6"/>
<line x1="572.79" x2="572.79" y1="294.2" y2="367.45" stroke="#EBEBEB" stroke-width="1.1"/>
<line x1="620.15" x2="620.15" y1="294.2" y2="367.45" stroke="#F2F2F2" stroke-width="0.6"/>
<line x1="667.5" x2="667.5" y1="294.2" y2="367.45" stroke="#EBEBEB" stroke-width="1.1"/>
<polyline fill="none" stroke="#9590FF" stroke-width="0.95" stroke-linejoin="round" points="383.9,341.01 384.16,351.96 384.42,353.35 384.68,351.06 384.94,344.7 385.19,341.67 385.45,346.78 385.71,347.49 385.97,344.96 386.23,352.77 386.49,352.84 386.75,338.81 387.01,342.38 387.26,336.06 387.52,332.03 387.78,348.7 388.04,335.23 388.3,332.87 388.56,333.06 388.82,337.12 389.08,340.7 389.33,351.95 389.59,352.51 389.85,355.26 390.11,354.82 390.37,349.19 390.63,339.6 390.89,350.5 391.15,354.23 391.4,351.71 391.66,351.06 391.92,341.35 392.18,350.71 392.44,338.71 392.7,346.48 392.96,341.87 393.22,345.01 393.47,356.13 393.73,333.25 393.99,329.18 394.25,351.45 394.51,339.58 394.77,335.98 395.03,328.5 395.29,328.55 395.54,325.42 395.8,344.01 396.06,332.6 396.32,319.6 396.58,332.64 396.84,351.23 397.1,340.48 397.36,347.93 397.61,330.94 397.87,356.31 398.13,331.44 398.39,319.17 398.65,345.2 398.91,329.56 399.17,335.59 399.43,332.85 399.68,328.8 399.94,321.9 400.2,325.92 400.46,318.69 400.72,329.38 400.98,336.11 401.24,342.49 401.5,324.25 401.75,349.03 402.01,331.01 402.27,351.35 402.53,337.51 402.79,335.38 403.05,312.63 403.31,351.41 403.57,354.1 403.82,316.35 404.08,312.73 404.34,336.55 404.6,337.44 404.86,325.82 405.12,321.38 405.38,333.35 405.64,307.36 405.89,310.49 406.15,329.13 406.41,323.47 406.67,319.4 406.93,321.02 407.19,343.54 407.45,345.92 407.71,343.93 407.96,333.87 408.22,351.25 408.48,322.59 408.74,308.82 409,340.3 409.26,337.12 409.52,326.51 409.78,307.92 410.03,336.55 410.29,326.66 410.55,349.85 410.81,352.37 411.07,335.24 411.33,298.1 411.59,351.71 411.85,343.96 412.1,347.53 412.36,347.37 412.62,340.07 412.88,321.85 413.14,326.98 413.4,317.53 413.66,319.84 413.92,320.34 414.17,334.54 414.43,338.14 414.69,323.7 414.95,353.98 415.21,348.85 415.47,334.89 415.73,340.64 415.99,318.58 416.24,340.88 416.5,328.67 416.76,316.65 417.02,311.56 417.28,313.5 417.54,318.02 417.8,314.21 418.06,327.32 418.31,324.19 418.57,345.24 418.83,328.4 419.09,322.04 419.35,332.14 419.61,348.28 419.87,323.49 420.13,320.62 420.39,318.65 420.64,346.13 420.9,345.74 421.16,330.33 421.42,323.9 421.68,324.7 421.94,328.48 422.2,338.51 422.46,342.68 422.71,347.11 422.97,329.45 423.23,324.15 423.49,349.74 423.75,342.86 424.01,331.55 424.27,339.55 424.53,340.69 424.78,354.47 425.04,342.94 425.3,337.35 425.56,320.45 425.82,363.53 426.08,326.6 426.34,335.41 426.6,332.34 426.85,340.29 427.11,335.01 427.37,329.66 427.63,334.42 427.89,354.15 428.15,359.42 428.41,349.23 428.67,357.1 428.92,344.32 429.18,351.61 429.44,356.99 429.7,337.57 429.96,324.49 430.22,326.29 430.48,339.56 430.74,346.39 430.99,350.18 431.25,343.99 431.51,345.92 431.77,342.7 432.03,356.93 432.29,348.27 432.55,357.44 432.81,359.13 433.06,356.57 433.32,354.56 433.58,354.33 433.84,344.01 434.1,345.78 434.36,351.92 434.62,358.37 434.88,354.6 435.13,338.12 435.39,328.84 435.65,344.2 435.91,329.71 436.17,329.29 436.43,346.64 436.69,350.47 436.95,351.08 437.2,346.2 437.46,357.04 437.72,341.1 437.98,333.51 438.24,333.35 438.5,330.01 438.76,328.59 439.02,335.13 439.27,332 439.53,334.72 439.79,338.85 440.05,346.8 440.31,347.56 440.57,340.97 440.83,338.77 441.09,342.97 441.34,358.47 441.6,338.95 441.86,357.16 442.12,355.97 442.38,340.73 442.64,329.12 442.9,334.53 443.16,343.64 443.41,351.72 443.67,348.4 443.93,331.25 444.19,339.38 444.45,331.51 444.71,343.88 444.97,359.37 445.23,354.52 445.48,348.73 445.74,340.87 446,358.62 446.26,339.47 446.52,326.74 446.78,328.81 447.04,340.72 447.3,349.48 447.55,332.48 447.81,331.69 448.07,333.84 448.33,327.45 448.59,341.17 448.85,347.54 449.11,326.08 449.37,328.68 449.62,336.94 449.88,342.17 450.14,341.46 450.4,337.89 450.66,344.21 450.92,353.19 451.18,336.79 451.44,353.99 451.69,352.67 451.95,350.09 452.21,341.12 452.47,344.46 452.73,355.37 452.99,351.86 453.25,347.38 453.51,345.14 453.76,342.66 454.02,351.03 454.28,343.66 454.54,344.32 454.8,349.72 455.06,357.28 455.32,346.86 455.58,325.84 455.84,328.96 456.09,339.14 456.35,354.96 456.61,351.1 456.87,323.85 457.13,335.97 457.39,327.39 457.65,325.25 457.91,326.35 458.16,318.23 458.42,321.31 458.68,323.31 458.94,332.85 459.2,352.81 459.46,347.19 459.72,329.95 459.98,315.73 460.23,315.64 460.49,355.41 460.75,346.01 461.01,341.97 461.27,352.1 461.53,355.54 461.79,348.08 462.05,348.31 462.3,351.75 462.56,341.13 462.82,347.71 463.08,354.61 463.34,340.65 463.6,344.14 463.86,355.49 464.12,350.78 464.37,353.28 464.63,338.39 464.89,338.62 465.15,347.2 465.41,338.99 465.67,336.7 465.93,341.25 466.19,341.68 466.44,347.19 466.7,316.76 466.96,330.49 467.22,324.39 467.48,333.91 467.74,352.36 468,345.6 468.26,334.73 468.51,337.59 468.77,327.83 469.03,334.68 469.29,323.93 469.55,352.39 469.81,336.27 470.07,318.15 470.33,338.18 470.58,341.46 470.84,338.81 471.1,356.2 471.36,353.13 471.62,349.11 471.88,350.05 472.14,341.54 472.4,345.26 472.65,342.14 472.91,322.45 473.17,325.58 473.43,321.69 473.69,355.71 473.95,333.53 474.21,319.29 474.47,334.29 474.72,339.33 474.98,331.5 475.24,334.53 475.5,321.68 475.76,343 476.02,354.32 476.28,321.32 476.54,344.39 476.79,324.94 477.05,340.6 477.31,327.05 477.57,347.98 477.83,333.17 478.09,344.09 478.35,336.9 478.61,330.86 478.86,339 479.12,352.21 479.38,330.13 479.64,348.55 479.9,334.95 480.16,350.32 480.42,321.58 480.68,335.41 480.93,331.35 481.19,318.98 481.45,342.35 481.71,338.46 481.97,351.88 482.23,351.97 482.49,357 482.75,336.49 483,353.88 483.26,346.35 483.52,348.97 483.78,352.16 484.04,351.41 484.3,321.19 484.56,320.77 484.82,333.75 485.07,320.31 485.33,336.17 485.59,329.86 485.85,311.6 486.11,324.12 486.37,330.88 486.63,337.98 486.89,337.42 487.14,338.63 487.4,326.01 487.66,348.26 487.92,341.48 488.18,352.4 488.44,333.52 488.7,347.96 488.96,339.56 489.21,323.57 489.47,345.95 489.73,320.03 489.99,353.21 490.25,331.8 490.51,334.42 490.77,331.15 491.03,357.3 491.29,335.05 491.54,330.57 491.8,348.76 492.06,328.64 492.32,319.33 492.58,320.08 492.84,327.73 493.1,320.46 493.36,351.82 493.61,336.75 493.87,332.46 494.13,335.96 494.39,335.23 494.65,338.21 494.91,334.07 495.17,349.35 495.43,331.93 495.68,318.79 495.94,319.77 496.2,333.95 496.46,333.11 496.72,318.91 496.98,326.52 497.24,342.52 497.5,350.97 497.75,349.54 498.01,346.18 498.27,353.57 498.53,349.77 498.79,340.51 499.05,331.72 499.31,334.05 499.57,325.56 499.82,322.29 500.08,325.7 500.34,342.51 500.6,342.4 500.86,347.75 501.12,321.85 501.38,345.15 501.64,340.08 501.89,335.75 502.15,327.46 502.41,323.36 502.67,355.15 502.93,352.21 503.19,346.13 503.45,334.28 503.71,328.92 503.96,329.47 504.22,324.42 504.48,341.96 504.74,337.96 505,345.86 505.26,339.98 505.52,337.04 505.78,343.7 506.03,344.06 506.29,343.18 506.55,355.82 506.81,348.24 507.07,342.72 507.33,324.01 507.59,357.15 507.85,326.12 508.1,345 508.36,326.31 508.62,319.58 508.88,340.29 509.14,343.97 509.4,356.69 509.66,329.19 509.92,347.06 510.17,351.19 510.43,354.47 510.69,347.41 510.95,345.53 511.21,344.59 511.47,348.73 511.73,330.17 511.99,335.79 512.24,324.36 512.5,355.24 512.76,349.47 513.02,328.37 513.28,310.13 513.54,322.19 513.8,305.89 514.06,335.93 514.31,332.57 514.57,335.59 514.83,352.32 515.09,341.86 515.35,333.86 515.61,354.28 515.87,302.66 516.13,334.56 516.38,337.53 516.64,352.37 516.9,341.86 517.16,342 517.42,346.49 517.68,330.68 517.94,343 518.2,321.5 518.45,349.23 518.71,345.52 518.97,330.54 519.23,350.31 519.49,326.09 519.75,330.95 520.01,319.7 520.27,322.4 520.52,313.91 520.78,333.29 521.04,355.62 521.3,355.97 521.56,337.14 521.82,347.04 522.08,335.36 522.34,324.25 522.59,335.05 522.85,325.54 523.11,341.88 523.37,354.6 523.63,332.46 523.89,338.24 524.15,353.99 524.41,337.28 524.66,336.46 524.92,346.97 525.18,333.76 525.44,319.19 525.7,328.36 525.96,332.38 526.22,336.5 526.48,336.2 526.74,350.03 526.99,335.05 527.25,335.51 527.51,329.38 527.77,341.49 528.03,348.84 528.29,352.83 528.55,345.47 528.81,337.49 529.06,330.6 529.32,331.18 529.58,359.18 529.84,339.49 530.1,332.37 530.36,327.58 530.62,338.17 530.88,354.72 531.13,344.57 531.39,332.52 531.65,332.71 531.91,336.08 532.17,340.77 532.43,327.51 532.69,345.27 532.95,334.98 533.2,357.7 533.46,341.96 533.72,357.02 533.98,357.16 534.24,329.07 534.5,345.4 534.76,359.75 535.02,360.63 535.27,359.12 535.53,360.03 535.79,356.71 536.05,357.44 536.31,340.34 536.57,354.81 536.83,343.37 537.09,344.51 537.34,344.41 537.6,329.88 537.86,347.75 538.12,337.76 538.38,328.32 538.64,338.21 538.9,344.25 539.16,345.09 539.41,348.53 539.67,338.42 539.93,336.78 540.19,337.58 540.45,338.92 540.71,355.06 540.97,359.72 541.23,357.94 541.48,340.61 541.74,350.41 542,331.59 542.26,337.6 542.52,341.78 542.78,354.47 543.04,347.58 543.3,347.63 543.55,334.19 543.81,334.76 544.07,333 544.33,341.25 544.59,355.15 544.85,353.31 545.11,339.91 545.37,333.73 545.62,341.1 545.88,344.44 546.14,359.41 546.4,356.17 546.66,340.19 546.92,340.07 547.18,324.88 547.44,330.51 547.69,319.99 547.95,332.59 548.21,322.66 548.47,334.27 548.73,344.61 548.99,355.07 549.25,324.19 549.51,338.26 549.76,354.98 550.02,327.87 550.28,350.41 550.54,350.45 550.8,354.27 551.06,319.66 551.32,345.02 551.58,333.73 551.83,325.47 552.09,331.58 552.35,338.87 552.61,343.96 552.87,325.5 553.13,327.79 553.39,341.71 553.65,332.12 553.9,322.4 554.16,319.9 554.42,321.72 554.68,329.29 554.94,313.2 555.2,311.1 555.46,310.57 555.72,319.32 555.97,325.84 556.23,324.78 556.49,337.35 556.75,329.37 557.01,332.81 557.27,350.54 557.53,347.82 557.79,315.49 558.04,344.02 558.3,329.58 558.56,311.95 558.82,329.3 559.08,357.75 559.34,308.85 559.6,331.54 559.86,304.96 560.11,311.24 560.37,325.4 560.63,320.25 560.89,343.6 561.15,340.59 561.41,300.38 561.67,335.25 561.93,348.61 562.19,344.28 562.44,336.91 562.7,320 562.96,321.22 563.22,321.65 563.48,354.81 563.74,348.5 564,354.52 564.26,341.67 564.51,349.45 564.77,330.76 565.03,336.22 565.29,322.44 565.55,317.54 565.81,343.15 566.07,341.38 566.33,349.96 566.58,317.1 566.84,338.95 567.1,355.91 567.36,347.73 567.62,351.14 567.88,336.26 568.14,328.02 568.4,344.44 568.65,360.45 568.91,353.31 569.17,345.89 569.43,338.23 569.69,352.96 569.95,338.09 570.21,345.56 570.47,326.36 570.72,330.75 570.98,343.97 571.24,355.42 571.5,361.43 571.76,361.1 572.02,360.3 572.28,347.62 572.54,353.53 572.79,354.3 573.05,360 573.31,344.02 573.57,360.61 573.83,358.04 574.09,345.39 574.35,337.35 574.61,333.7 574.86,327.91 575.12,345.71 575.38,353.97 575.64,349.15 575.9,338.17 576.16,337.11 576.42,328.3 576.68,355.07 576.93,337.16 577.19,327.07 577.45,326.17 577.71,342.8 577.97,350.27 578.23,343.91 578.49,330.85 578.75,336.27 579,329.68 579.26,329.13 579.52,326.35 579.78,348.93 580.04,333.31 580.3,344.75 580.56,340.33 580.82,328 581.07,330.44 581.33,338.13 581.59,346.73 581.85,355.53 582.11,355.71 582.37,349.68 582.63,351.86 582.89,355.19 583.14,342.87 583.4,353.63 583.66,359.92 583.92,357.97 584.18,329.35 584.44,347.38 584.7,349.55 584.96,354.74 585.21,347.5 585.47,356.45 585.73,341.06 585.99,337.23 586.25,345.42 586.51,357.59 586.77,336.79 587.03,341.07 587.28,341.03 587.54,343.34 587.8,346.9 588.06,345.77 588.32,338.7 588.58,338.21 588.84,354.29 589.1,335.16 589.35,352.17 589.61,341.38 589.87,358.7 590.13,355.74 590.39,342.01 590.65,344.71 590.91,349.38 591.17,344.91 591.42,355.28 591.68,342.01 591.94,351.13 592.2,341.3 592.46,353.55 592.72,351.97 592.98,352.99 593.24,350.02 593.49,342.42 593.75,348.35 594.01,328.44 594.27,352.74 594.53,316.19 594.79,350.48 595.05,318.53 595.31,334.52 595.56,323.63 595.82,348.45 596.08,356.72 596.34,356.72 596.6,355.45 596.86,348.87 597.12,356.18 597.38,356.41 597.64,356.29 597.89,335.4 598.15,349.39 598.41,349.21 598.67,339.37 598.93,348.87 599.19,339.3 599.45,335.95 599.71,357.79 599.96,335.1 600.22,349.1 600.48,321.49 600.74,323.19 601,327.88 601.26,336.36 601.52,326.17 601.78,320.22 602.03,330.87 602.29,347.75 602.55,345.68 602.81,320.13 603.07,336.54 603.33,341.59 603.59,309.71 603.85,333.41 604.1,329.55 604.36,348.74 604.62,304.26 604.88,335.56 605.14,331.46 605.4,331.33 605.66,310.16 605.92,312.41 606.17,340.87 606.43,344.77 606.69,312.32 606.95,337.67 607.21,334.74 607.47,355.57 607.73,349.28 607.99,351.85 608.24,328.12 608.5,357.88 608.76,342.95 609.02,358.21 609.28,336.4 609.54,355.2 609.8,350.52 610.06,356.92 610.31,346.89 610.57,342.46 610.83,313.49 611.09,356.24 611.35,328.82 611.61,336.17 611.87,338.39 612.13,316.41 612.38,329.11 612.64,343.81 612.9,320.32 613.16,350.36 613.42,358.95 613.68,351.99 613.94,359.18 614.2,346.67 614.45,345.4 614.71,323.78 614.97,318.16 615.23,326.02 615.49,327.23 615.75,320.44 616.01,347.71 616.27,335.55 616.52,328.44 616.78,331.72 617.04,332.48 617.3,320.67 617.56,320.94 617.82,352.02 618.08,357.34 618.34,344.15 618.59,319.85 618.85,323.94 619.11,338.08 619.37,351.2 619.63,329.47 619.89,327.27 620.15,343.62 620.41,343.13 620.66,359.48 620.92,340.36 621.18,324.06 621.44,328.1 621.7,348.58 621.96,335.26 622.22,353.93 622.48,340.01 622.73,346.04 622.99,338.64 623.25,360.51 623.51,360.02 623.77,359.95 624.03,346.88 624.29,351.66 624.55,324.75 624.8,356.05 625.06,343.85 625.32,356.16 625.58,350.92 625.84,351.61 626.1,351.7 626.36,345.93 626.62,331.87 626.87,346.27 627.13,326.72 627.39,351.69 627.65,338.16 627.91,329.56 628.17,333.06 628.43,329.53 628.69,333.15 628.94,358.36 629.2,355.22 629.46,323.49 629.72,330.06 629.98,339.61 630.24,343.75 630.5,328.53 630.76,340.15 631.01,360.78 631.27,346.4 631.53,350.17 631.79,339.96 632.05,354.83 632.31,357.27 632.57,344.71 632.83,350.22 633.09,362.84 633.34,334.02 633.6,349.39 633.86,359.62 634.12,333.66 634.38,317.96 634.64,333.44 634.9,359.06 635.16,360.48 635.41,349.59 635.67,312.27 635.93,317.14 636.19,322.13 636.45,327.35 636.71,320.67 636.97,346.9 637.23,332.57 637.48,302.66 637.74,332.86 638,311.22 638.26,344.04 638.52,322.1 638.78,327.87 639.04,320.42 639.3,309.36 639.55,316.2 639.81,308.23 640.07,319.1 640.33,320.42 640.59,318.23 640.85,358.64 641.11,358.96 641.37,349.35 641.62,320.94 641.88,327.32 642.14,311.11 642.4,325.62 642.66,342.63 642.92,328.46 643.18,317.23 643.44,342.61 643.69,330.56 643.95,316.27 644.21,330.1 644.47,332.36 644.73,315.94 644.99,332.47 645.25,320.15 645.51,334.32 645.76,343.52 646.02,359.51 646.28,345.92 646.54,337.33 646.8,322.44 647.06,324.66 647.32,334.73 647.58,339.18 647.83,346.18 648.09,334.88 648.35,328.96 648.61,331.45 648.87,358.2 649.13,338.78 649.39,330.52 649.65,317.83 649.9,339.48 650.16,347.25 650.42,338.22 650.68,342.04 650.94,347.31 651.2,354.04 651.46,350.45 651.72,345.96 651.97,345.09 652.23,341.49 652.49,330.26 652.75,316.82 653.01,317.72 653.27,331.58 653.53,324.16 653.79,353.85 654.04,343.02 654.3,327.37 654.56,355.17 654.82,350.45 655.08,324.63 655.34,341.35 655.6,339.92 655.86,331.08 656.11,322.64 656.37,345.85 656.63,318.27 656.89,333.64 657.15,346.69 657.41,340.57 657.67,329.74 657.93,332.09 658.18,340.86 658.44,341.49 658.7,351.11 658.96,336.26 659.22,344.58 659.48,348.43 659.74,340.29 660,338.68 660.25,326.41 660.51,344.64 660.77,351.37 661.03,322.67 661.29,326.98 661.55,327.2 661.81,334.13 662.07,324.57 662.32,340.43 662.58,319.43 662.84,347.24 663.1,330.18 663.36,328.19 663.62,341.8 663.88,340.69 664.14,342.63 664.39,333.64 664.65,327.67 664.91,337.83 665.17,344.14 665.43,349.01 665.69,332.3 665.95,333.02 666.21,332.91 666.46,330.12 666.72,341.91 666.98,342.42 667.24,351.05"/>
<rect x="370.2" y="280.65" width="310.8" height="13.55" fill="#D9D9D9"/>
<path d="M370.2,367.45V280.65H681V367.45Z" fill="none" stroke="#333" stroke-width="0.7"/>
<line x1="370.2" x2="681" y1="294.2" y2="294.2" stroke="#333" stroke-width="1.3"/>
<line x1="367.5" x2="370.2" y1="366.78" y2="366.78" stroke="#333" stroke-width="0.8"/>
<line x1="367.5" x2="370.2" y1="345.71" y2="345.71" stroke="#333" stroke-width="0.8"/>
<line x1="367.5" x2="370.2" y1="324.64" y2="324.64" stroke="#333" stroke-width="0.8"/>
<line x1="367.5" x2="370.2" y1="303.57" y2="303.57" stroke="#333" stroke-width="0.8"/>
<line x1="28.4" x2="339.5" y1="456.82" y2="456.82" stroke="#F2F2F2" stroke-width="0.6"/>
<line x1="28.4" x2="339.5" y1="449.54" y2="449.54" stroke="#EBEBEB" stroke-width="1.1"/>
<line x1="28.4" x2="339.5" y1="442.25" y2="442.25" stroke="#F2F2F2" stroke-width="0.6"/>
<line x1="28.4" x2="339.5" y1="434.97" y2="434.97" stroke="#EBEBEB" stroke-width="1.1"/>
<line x1="28.4" x2="339.5" y1="427.68" y2="427.68" stroke="#F2F2F2" stroke-width="0.6"/>
<line x1="28.4" x2="339.5" y1="420.4" y2="420.4" stroke="#EBEBEB" stroke-width="1.1"/>
<line x1="28.4" x2="339.5" y1="413.11" y2="413.11" stroke="#F2F2F2" stroke-width="0.6"/>
<line x1="28.4" x2="339.5" y1="405.83" y2="405.83" stroke="#EBEBEB" stroke-width="1.1"/>
<line x1="28.4" x2="339.5" y1="398.54" y2="398.54" stroke="#F2F2F2" stroke-width="0.6"/>
<line x1="28.4" x2="339.5" y1="391.26" y2="391.26" stroke="#EBEBEB" stroke-width="1.1"/>
<line x1="42.6" x2="42.6" y1="385.95" y2="459.2" stroke="#EBEBEB" stroke-width="1.1"/>
<line x1="89.79" x2="89.79" y1="385.95" y2="459.2" stroke="#F2F2F2" stroke-width="0.6"/>
<line x1="136.98" x2="136.98" y1="385.95" y2="459.2" stroke="#EBEBEB" stroke-width="1.1"/>
<line x1="184.17" x2="184.17" y1="385.95" y2="459.2" stroke="#F2F2F2" stroke-width="0.6"/>
<line x1="231.36" x2="231.36" y1="385.95" y2="459.2" stroke="#EBEBEB" stroke-width="1.1"/>
<line x1="278.68" x2="278.68" y1="385.95" y2="459.2" stroke="#F2F2F2" stroke-width="0.6"/>
<line x1="326" x2="326" y1="385.95" y2="459.2" stroke="#EBEBEB" stroke-width="1.1"/>
<polyline fill="none" stroke="#E76BF3" stroke-width="0.95" stroke-linejoin="round" points="42.6,408.38 42.86,422.22 43.12,411.27 43.38,419.2 43.63,406.73 43.89,435.01 44.15,417.49 44.41,407.55 44.67,408.37 44.93,411.71 45.19,407.44 45.44,421.42 45.7,422.67 45.96,423.34 46.22,421.59 46.48,420.87 46.74,422.78 47,417.55 47.25,413.21 47.51,409.89 47.77,418.1 48.03,419.5 48.29,414.97 48.55,411.19 48.81,420.28 49.06,424.21 49.32,423.96 49.58,426.03 49.84,422.7 50.1,424.8 50.36,409.97 50.62,415.38 50.87,413.08 51.13,428.48 51.39,425.49 51.65,413.88 51.91,422.52 52.17,416.9 52.43,425.4 52.68,429.84 52.94,428.93 53.2,422.63 53.46,425.75 53.72,432.01 53.98,402.61 54.24,422.5 54.49,427.85 54.75,425.56 55.01,425.23 55.27,440.71 55.53,432.32 55.79,434.44 56.05,430.83 56.3,424.77 56.56,432.07 56.82,433.57 57.08,435.04 57.34,423 57.6,438.56 57.86,413.14 58.11,436.27 58.37,436.82 58.63,436.6 58.89,431.38 59.15,441.85 59.41,438.13 59.67,428.52 59.92,437.24 60.18,431.94 60.44,440.15 60.7,440.06 60.96,430.02 61.22,401.02 61.48,435.35 61.73,439.67 61.99,435.94 62.25,436.08 62.51,438.95 62.77,421.38 63.03,418.97 63.29,435.03 63.54,435.8 63.8,431.66 64.06,405.04 64.32,430.95 64.58,436.88 64.84,430.85 65.1,409.26 65.35,420.71 65.61,412.83 65.87,425.47 66.13,415.08 66.39,427.92 66.65,414.6 66.91,421.4 67.16,429.25 67.42,414.4 67.68,425.9 67.94,423.85 68.2,418.83 68.46,411.42 68.72,426.54 68.97,424.89 69.23,424.07 69.49,424.25 69.75,421.78 70.01,422.32 70.27,415.45 70.53,418.92 70.78,421.51 71.04,417.46 71.3,414.58 71.56,418.09 71.82,431.59 72.08,434.37 72.34,426.02 72.59,421.73 72.85,421.54 73.11,424.32 73.37,433.12 73.63,434.59 73.89,441.48 74.15,438.54 74.4,420.55 74.66,420.82 74.92,438.28 75.18,425.83 75.44,419.2 75.7,421.77 75.96,427.62 76.21,424.64 76.47,424.51 76.73,427.11 76.99,439.88 77.25,430.55 77.51,427.31 77.77,422.2 78.03,422.16 78.28,442.88 78.54,426.5 78.8,431.16 79.06,431.84 79.32,429.03 79.58,424.04 79.84,424.35 80.09,434.55 80.35,428.49 80.61,434.25 80.87,435.89 81.13,442.72 81.39,438.88 81.65,441.81 81.9,432.59 82.16,434.71 82.42,434.5 82.68,442.03 82.94,441.03 83.2,440.23 83.46,449.48 83.71,447.34 83.97,441.39 84.23,437.91 84.49,439.62 84.75,443.52 85.01,442.15 85.27,433.58 85.52,444.36 85.78,437.44 86.04,442.74 86.3,447.64 86.56,444.32 86.82,450.4 87.08,449.54 87.33,444.78 87.59,444.15 87.85,444.06 88.11,440.46 88.37,440.25 88.63,445.88 88.89,444.23 89.14,433.67 89.4,443.09 89.66,442.73 89.92,434.58 90.18,440.84 90.44,433.38 90.7,442.25 90.95,437.6 91.21,437.13 91.47,433.59 91.73,436.66 91.99,433.18 92.25,432.09 92.51,430.39 92.76,431.92 93.02,443.62 93.28,436.91 93.54,442.62 93.8,436.13 94.06,439.03 94.32,431.06 94.57,437.94 94.83,428.99 95.09,441.66 95.35,438.47 95.61,434.11 95.87,443.03 96.13,434.52 96.38,441.06 96.64,435.8 96.9,446.31 97.16,447.25 97.42,433.88 97.68,443.61 97.94,437.52 98.19,444.75 98.45,449.44 98.71,436.59 98.97,433.65 99.23,446.77 99.49,450.25 99.75,450.71 100,451.19 100.26,451.19 100.52,451.6 100.78,446.91 101.04,443.23 101.3,424.38 101.56,436.18 101.81,438.28 102.07,442.94 102.33,448.1 102.59,438.43 102.85,445.18 103.11,445.72 103.37,439.59 103.62,442.04 103.88,444.02 104.14,438.93 104.4,435.92 104.66,442.14 104.92,441.13 105.18,440.4 105.43,419.7 105.69,431.89 105.95,434.11 106.21,438.51 106.47,453.25 106.73,434.06 106.99,421.9 107.24,436.69 107.5,427.07 107.76,421.91 108.02,430.75 108.28,423.33 108.54,432.09 108.8,428.52 109.05,432.04 109.31,422.07 109.57,421.92 109.83,418.28 110.09,417.34 110.35,422.21 110.61,415.84 110.86,426.14 111.12,437.26 111.38,420.28 111.64,421.46 111.9,413.38 112.16,415.17 112.42,431.65 112.67,430.22 112.93,430.91 113.19,428.56 113.45,415.34 113.71,411.71 113.97,427.34 114.23,417.31 114.48,416.37 114.74,421.85 115,427.03 115.26,408.55 115.52,412.32 115.78,424.25 116.04,408.31 116.29,414.61 116.55,412.29 116.81,419.27 117.07,420.15 117.33,421.49 117.59,415.45 117.85,421.99 118.1,428.41 118.36,432.89 118.62,433.92 118.88,430.51 119.14,418.12 119.4,422.63 119.66,432.88 119.91,426.24 120.17,427.56 120.43,424.36 120.69,414.86 120.95,422.5 121.21,412.05 121.47,418.41 121.72,435.2 121.98,429.84 122.24,424.96 122.5,428.87 122.76,405.16 123.02,410.25 123.28,423.6 123.53,429.47 123.79,434.56 124.05,421.24 124.31,424.23 124.57,412.16 124.83,413.04 125.09,413.61 125.34,411.35 125.6,414.22 125.86,428.53 126.12,410.87 126.38,418.07 126.64,414.57 126.9,424.43 127.15,406.63 127.41,421.81 127.67,410.35 127.93,417.68 128.19,403 128.45,405.7 128.71,408.84 128.96,410.07 129.22,407.76 129.48,404.44 129.74,419.17 130,409.87 130.26,417.92 130.52,397.43 130.77,415.51 131.03,410.21 131.29,414.5 131.55,406.34 131.81,409.42 132.07,405.88 132.33,420.24 132.58,413.84 132.84,405.96 133.1,401.19 133.36,409.5 133.62,409.04 133.88,413.17 134.14,403 134.39,420.85 134.65,394.44 134.91,404 135.17,399.01 135.43,401.55 135.69,406.93 135.95,399.76 136.2,405.43 136.46,400.12 136.72,413.32 136.98,389.42 137.24,404.45 137.5,401.88 137.76,397.8 138.01,400.16 138.27,399.82 138.53,401.77 138.79,403.6 139.05,410.87 139.31,418.79 139.57,409.87 139.82,403.01 140.08,401.17 140.34,410.33 140.6,404.06 140.86,402.59 141.12,400.54 141.38,402.41 141.63,408.59 141.89,410.31 142.15,417.52 142.41,400.3 142.67,407.15 142.93,418.36 143.19,417.32 143.44,416.61 143.7,425.03 143.96,411.41 144.22,422.21 144.48,426.21 144.74,427.48 145,424.38 145.25,413.63 145.51,418.53 145.77,424.96 146.03,426.81 146.29,424.9 146.55,427.8 146.81,424.32 147.06,404.82 147.32,406.29 147.58,413.71 147.84,416.83 148.1,414.79 148.36,429.14 148.62,416.46 148.88,404.6 149.13,416.45 149.39,415.95 149.65,407.04 149.91,404.33 150.17,419.02 150.43,410.92 150.69,410.77 150.94,411.17 151.2,411.8 151.46,404.38 151.72,410.43 151.98,426.08 152.24,407.7 152.5,405.3 152.75,408.7 153.01,420 153.27,416.29 153.53,409.69 153.79,406.65 154.05,408.4 154.31,414.81 154.56,435.03 154.82,419.4 155.08,419.48 155.34,422.65 155.6,429.28 155.86,420.3 156.12,426.35 156.37,438.61 156.63,437.4 156.89,427.25 157.15,416.76 157.41,411.6 157.67,432.8 157.93,426.26 158.18,421.85 158.44,422.86 158.7,412.4 158.96,427.52 159.22,435.14 159.48,426.38 159.74,415.07 159.99,429.36 160.25,424.49 160.51,424.26 160.77,432.91 161.03,417.82 161.29,423.88 161.55,415.08 161.8,427.6 162.06,435.87 162.32,434.22 162.58,423.68 162.84,435.76 163.1,443.88 163.36,420.43 163.61,435.58 163.87,431.71 164.13,434.78 164.39,420.38 164.65,432.77 164.91,433.31 165.17,424.37 165.42,439.93 165.68,422.14 165.94,433.42 166.2,431.74 166.46,422.62 166.72,432.71 166.98,428.47 167.23,430.74 167.49,426.04 167.75,423.49 168.01,420.21 168.27,442.28 168.53,427.62 168.79,420 169.04,434.26 169.3,431.45 169.56,433.36 169.82,429.09 170.08,421.14 170.34,427.39 170.6,435.78 170.85,423.04 171.11,431.26 171.37,442.39 171.63,442.87 171.89,424.47 172.15,434.14 172.41,437.44 172.66,426.11 172.92,431.64 173.18,433.05 173.44,433.32 173.7,427.99 173.96,437.39 174.22,427 174.47,429.11 174.73,429.95 174.99,428.42 175.25,425.66 175.51,424.55 175.77,429.04 176.03,437.96 176.28,448.05 176.54,429.94 176.8,445.08 177.06,429.86 177.32,431.46 177.58,444.53 177.84,440.27 178.09,436.75 178.35,405.38 178.61,432.26 178.87,439.65 179.13,429.29 179.39,441.79 179.65,446.15 179.9,443.22 180.16,447.73 180.42,440.05 180.68,438.18 180.94,437.98 181.2,439.05 181.46,431 181.71,438.2 181.97,432.28 182.23,441.87 182.49,439.58 182.75,432.56 183.01,430.79 183.27,434.94 183.52,447.4 183.78,440.54 184.04,435.29 184.3,432 184.56,433.2 184.82,433.91 185.08,432.04 185.33,431.5 185.59,435.93 185.85,434.25 186.11,443.79 186.37,436.04 186.63,437.83 186.89,443.41 187.14,441.78 187.4,443.74 187.66,443.19 187.92,441.58 188.18,434.34 188.44,449.7 188.7,434.35 188.95,448.56 189.21,437.29 189.47,432.17 189.73,437.31 189.99,438.85 190.25,430.45 190.51,443.1 190.76,452.54 191.02,438.32 191.28,434.04 191.54,436.86 191.8,434.84 192.06,434.13 192.32,435.38 192.57,445.67 192.83,439.03 193.09,451.24 193.35,441.05 193.61,442.87 193.87,443.69 194.13,450.57 194.38,444.32 194.64,441.64 194.9,439.27 195.16,440.05 195.42,455.53 195.68,438.84 195.94,436.32 196.19,429.8 196.45,440.03 196.71,436.38 196.97,438.39 197.23,433.76 197.49,439.5 197.75,442.37 198,443.55 198.26,437.28 198.52,435.57 198.78,435.48 199.04,440.98 199.3,433.94 199.56,426.51 199.81,423.48 200.07,430.91 200.33,427.63 200.59,426.33 200.85,427.93 201.11,427.23 201.37,429.2 201.62,419.67 201.88,429.8 202.14,427.17 202.4,423.13 202.66,436.57 202.92,427.8 203.18,422.46 203.43,432.79 203.69,420.86 203.95,416.5 204.21,420.43 204.47,418.92 204.73,421.69 204.99,416.21 205.24,433.18 205.5,423.45 205.76,424.96 206.02,409.95 206.28,418.4 206.54,433.77 206.8,406.69 207.05,418.58 207.31,427.91 207.57,408.74 207.83,407.51 208.09,419.95 208.35,422.48 208.61,416.23 208.86,418.05 209.12,420.31 209.38,409.85 209.64,417.95 209.9,423.72 210.16,420.95 210.42,411.41 210.67,419.22 210.93,405.68 211.19,410.95 211.45,414.33 211.71,415.19 211.97,411.92 212.23,411.22 212.48,408.87 212.74,412.53 213,405.45 213.26,431.84 213.52,415.23 213.78,408.62 214.04,431.09 214.29,428.52 214.55,418.47 214.81,417.88 215.07,415.23 215.33,420.6 215.59,414.37 215.85,436.13 216.1,420.65 216.36,420.15 216.62,423.27 216.88,430.45 217.14,416.26 217.4,419.86 217.66,432.94 217.91,410.67 218.17,411.77 218.43,405.85 218.69,410.69 218.95,408 219.21,420.4 219.47,424.15 219.72,402.41 219.98,416.55 220.24,396.61 220.5,418.58 220.76,418.1 221.02,426.26 221.28,400.14 221.54,416.74 221.79,410.16 222.05,416.45 222.31,414.29 222.57,419.94 222.83,407.1 223.09,410.13 223.35,399.6 223.6,408.12 223.86,391.7 224.12,409.1 224.38,403.4 224.64,393.43 224.9,397.24 225.16,396.62 225.41,402.56 225.67,397.92 225.93,397.8 226.19,409.97 226.45,398.36 226.71,402.35 226.97,402.79 227.22,400.49 227.48,403.63 227.74,404.16 228,404.76 228.26,413.21 228.52,403.99 228.78,406.54 229.03,405.23 229.29,409.75 229.55,411.07 229.81,407.34 230.07,406.86 230.33,407.18 230.59,408.58 230.84,409.25 231.1,406.35 231.36,405.62 231.62,411.82 231.88,403.35 232.14,411.22 232.4,410.44 232.65,412.47 232.91,415.15 233.17,410.23 233.43,404.82 233.69,409.8 233.95,415.63 234.21,412.32 234.46,418.53 234.72,416.38 234.98,413.27 235.24,416.09 235.5,414.15 235.76,410.33 236.02,415.51 236.27,418.07 236.53,419.57 236.79,395.57 237.05,402.41 237.31,417.4 237.57,409.19 237.83,420.94 238.08,423.49 238.34,424.44 238.6,413.34 238.86,423.68 239.12,408.9 239.38,422.88 239.64,419.71 239.89,414.75 240.15,417.33 240.41,423.73 240.67,415.92 240.93,422.83 241.19,425.49 241.45,419.91 241.7,422.67 241.96,412 242.22,414.58 242.48,400.38 242.74,422.85 243,410.69 243.26,409.89 243.51,416.04 243.77,406.71 244.03,422.33 244.29,413.55 244.55,411.96 244.81,410.48 245.07,416.14 245.32,421.98 245.58,420.97 245.84,424.86 246.1,427.23 246.36,427.12 246.62,425.71 246.88,429.22 247.13,429.44 247.39,425.66 247.65,424.42 247.91,430.55 248.17,413.69 248.43,412.98 248.69,421.73 248.94,428.11 249.2,429.29 249.46,432.96 249.72,425.12 249.98,436.08 250.24,433.53 250.5,422.8 250.75,426.26 251.01,425.12 251.27,428.78 251.53,427.36 251.79,433.06 252.05,429.07 252.31,432.52 252.56,436.63 252.82,439.77 253.08,432.22 253.34,443.4 253.6,441.39 253.86,439.49 254.12,442.29 254.37,443.09 254.63,443.11 254.89,438.61 255.15,428.71 255.41,438.29 255.67,443.63 255.93,444.07 256.18,443.64 256.44,436.73 256.7,434.84 256.96,446.38 257.22,440.95 257.48,437.95 257.74,432.2 257.99,441.47 258.25,436.61 258.51,446.8 258.77,442.06 259.03,440.58 259.29,436.57 259.55,444.01 259.8,440.74 260.06,442.23 260.32,438.91 260.58,442.68 260.84,442.39 261.1,447.45 261.36,433.86 261.61,443.16 261.87,448.82 262.13,424.41 262.39,438.12 262.65,443.34 262.91,447.3 263.17,444.31 263.42,433.11 263.68,438.7 263.94,447.3 264.2,444.51 264.46,429.76 264.72,441.53 264.98,443.17 265.23,443.75 265.49,432.36 265.75,440.9 266.01,444.35 266.27,444.08 266.53,438.02 266.79,427.93 267.04,439.9 267.3,441.08 267.56,437.42 267.82,440.66 268.08,436.4 268.34,433.28 268.6,426.79 268.85,426.76 269.11,426.62 269.37,434.72 269.63,431.67 269.89,429.69 270.15,428.59 270.41,437.21 270.66,439.86 270.92,430.19 271.18,438.74 271.44,443.39 271.7,433.16 271.96,432.69 272.22,443.81 272.47,445.82 272.73,446.54 272.99,432.8 273.25,445.9 273.51,450.17 273.77,439.09 274.03,446.13 274.28,437.39 274.54,450.01 274.8,437.65 275.06,441.39 275.32,439.76 275.58,448.63 275.84,449.01 276.09,445.57 276.35,441.58 276.61,438.19 276.87,436.55 277.13,435.59 277.39,442.66 277.65,436.44 277.9,439.73 278.16,440.23 278.42,433.37 278.68,437.67 278.94,442.51 279.2,447.21 279.46,442.57 279.71,444.64 279.97,440.78 280.23,438.91 280.49,442.84 280.75,443.91 281.01,432.41 281.27,442.3 281.52,447.44 281.78,447.36 282.04,444.25 282.3,443.94 282.56,442.98 282.82,437.92 283.08,439.19 283.33,432.05 283.59,434.73 283.85,440.13 284.11,436.85 284.37,437.65 284.63,441.48 284.89,435.97 285.14,442.57 285.4,443.21 285.66,432.41 285.92,442.86 286.18,441.14 286.44,438.44 286.7,447.51 286.95,443 287.21,437.21 287.47,438.28 287.73,433.55 287.99,434.43 288.25,442.69 288.51,434.75 288.76,435.15 289.02,432.57 289.28,441.67 289.54,441.19 289.8,443.44 290.06,449.31 290.32,448.46 290.57,450.45 290.83,438.26 291.09,446.01 291.35,436.75 291.61,436.11 291.87,444.17 292.13,437.91 292.39,435.9 292.64,436.61 292.9,447.9 293.16,442.47 293.42,425.64 293.68,439.49 293.94,437.12 294.2,424.59 294.45,435.56 294.71,445.06 294.97,435.38 295.23,422.26 295.49,424.12 295.75,428.24 296.01,429.52 296.26,419.4 296.52,423.07 296.78,429.26 297.04,436.92 297.3,437.5 297.56,440.8 297.82,426.81 298.07,432.24 298.33,432.74 298.59,438.43 298.85,432.41 299.11,424.72 299.37,428.81 299.63,423.37 299.88,431.75 300.14,429.48 300.4,422.54 300.66,425.34 300.92,437.59 301.18,438.05 301.44,430.11 301.69,423.18 301.95,435.42 302.21,434.47 302.47,419.05 302.73,416.35 302.99,416.16 303.25,418.71 303.5,421.03 303.76,409.64 304.02,415.15 304.28,414.47 304.54,426.34 304.8,423.52 305.06,434.62 305.31,427.81 305.57,430.33 305.83,433.54 306.09,413.89 306.35,415.26 306.61,412.41 306.87,418.47 307.12,420.43 307.38,409.14 307.64,418.09 307.9,406.96 308.16,417.97 308.42,410.41 308.68,411.04 308.93,409.96 309.19,410.61 309.45,426.41 309.71,404.56 309.97,409.77 310.23,403.15 310.49,409.27 310.74,415.04 311,409.11 311.26,409.8 311.52,405.16 311.78,409.78 312.04,403.53 312.3,402.03 312.55,401.78 312.81,406.75 313.07,406.17 313.33,407.77 313.59,414.62 313.85,420.95 314.11,404.65 314.36,427.94 314.62,426.31 314.88,429.75 315.14,429.72 315.4,423.22 315.66,427.07 315.92,424.89 316.17,421.72 316.43,428.36 316.69,423.85 316.95,424.59 317.21,423.23 317.47,420.3 317.73,423.01 317.98,421.35 318.24,404.06 318.5,423.56 318.76,420.04 319.02,410 319.28,415.41 319.54,419.85 319.79,419.91 320.05,422.71 320.31,408.69 320.57,418.92 320.83,403.04 321.09,420.29 321.35,410.31 321.6,403.27 321.86,415.37 322.12,418.77 322.38,410.62 322.64,413.31 322.9,417.12 323.16,414.07 323.41,410.99 323.67,421.24 323.93,418.32 324.19,421.77 324.45,411.28 324.71,421.39 324.97,413.03 325.22,411 325.48,423.99"/>
<rect x="28.4" y="372.4" width="311.1" height="13.55" fill="#D9D9D9"/>
<path d="M28.4,459.2V372.4H339.5V459.2Z" fill="none" stroke="#333" stroke-width="0.7"/>
<line x1="28.4" x2="339.5" y1="385.95" y2="385.95" stroke="#333" stroke-width="1.3"/>
<line x1="25.7" x2="28.4" y1="449.54" y2="449.54" stroke="#333" stroke-width="0.8"/>
<line x1="25.7" x2="28.4" y1="434.97" y2="434.97" stroke="#333" stroke-width="0.8"/>
<line x1="25.7" x2="28.4" y1="420.4" y2="420.4" stroke="#333" stroke-width="0.8"/>
<line x1="25.7" x2="28.4" y1="405.83" y2="405.83" stroke="#333" stroke-width="0.8"/>
<line x1="25.7" x2="28.4" y1="391.26" y2="391.26" stroke="#333" stroke-width="0.8"/>
<line x1="42.6" x2="42.6" y1="459.2" y2="461.9" stroke="#333" stroke-width="0.8"/>
<line x1="136.98" x2="136.98" y1="459.2" y2="461.9" stroke="#333" stroke-width="0.8"/>
<line x1="231.36" x2="231.36" y1="459.2" y2="461.9" stroke="#333" stroke-width="0.8"/>
<line x1="326" x2="326" y1="459.2" y2="461.9" stroke="#333" stroke-width="0.8"/>
<line x1="370.2" x2="681" y1="456.6" y2="456.6" stroke="#EBEBEB" stroke-width="1.1"/>
<line x1="370.2" x2="681" y1="443.6" y2="443.6" stroke="#F2F2F2" stroke-width="0.6"/>
<line x1="370.2" x2="681" y1="430.6" y2="430.6" stroke="#EBEBEB" stroke-width="1.1"/>
<line x1="370.2" x2="681" y1="417.6" y2="417.6" stroke="#F2F2F2" stroke-width="0.6"/>
<line x1="370.2" x2="681" y1="404.6" y2="404.6" stroke="#EBEBEB" stroke-width="1.1"/>
<line x1="370.2" x2="681" y1="391.6" y2="391.6" stroke="#F2F2F2" stroke-width="0.6"/>
<line x1="383.9" x2="383.9" y1="385.95" y2="459.2" stroke="#EBEBEB" stroke-width="1.1"/>
<line x1="431.12" x2="431.12" y1="385.95" y2="459.2" stroke="#F2F2F2" stroke-width="0.6"/>
<line x1="478.35" x2="478.35" y1="385.95" y2="459.2" stroke="#EBEBEB" stroke-width="1.1"/>
<line x1="525.57" x2="525.57" y1="385.95" y2="459.2" stroke="#F2F2F2" stroke-width="0.6"/>
<line x1="572.79" x2="572.79" y1="385.95" y2="459.2" stroke="#EBEBEB" stroke-width="1.1"/>
<line x1="620.15" x2="620.15" y1="385.95" y2="459.2" stroke="#F2F2F2" stroke-width="0.6"/>
<line x1="667.5" x2="667.5" y1="385.95" y2="459.2" stroke="#EBEBEB" stroke-width="1.1"/>
<polyline fill="none" stroke="#FF62BC" stroke-width="0.95" stroke-linejoin="round" points="383.9,452.26 384.16,448.43 384.42,448.16 384.68,448.45 384.94,449.02 385.19,449.1 385.45,448.38 385.71,448.21 385.97,449.9 386.23,448.15 386.49,448.03 386.75,448.02 387.01,448.02 387.26,449.04 387.52,450.16 387.78,450.12 388.04,451.25 388.3,452.05 388.56,452.98 388.82,455.2 389.08,454.39 389.33,452.08 389.59,451 389.85,453.69 390.11,453.96 390.37,452.87 390.63,453.75 390.89,451.71 391.15,452.09 391.4,451.82 391.66,454.59 391.92,451.95 392.18,452.81 392.44,451.57 392.7,451.47 392.96,450.83 393.22,452.18 393.47,454 393.73,448.19 393.99,452.28 394.25,451.03 394.51,449.78 394.77,451.29 395.03,454.08 395.29,454.16 395.54,454.7 395.8,453.68 396.06,453.87 396.32,454.47 396.58,450 396.84,454.67 397.1,454.6 397.36,453.96 397.61,454.91 397.87,454.33 398.13,455.27 398.39,453 398.65,453.82 398.91,451.64 399.17,454.46 399.43,454.92 399.68,453.63 399.94,448.51 400.2,450.17 400.46,453.54 400.72,454.71 400.98,454.64 401.24,453.13 401.5,451.07 401.75,454.76 402.01,454.29 402.27,455.35 402.53,453.46 402.79,450.23 403.05,449.96 403.31,449.02 403.57,449.2 403.82,450.42 404.08,450.7 404.34,453.1 404.6,453.04 404.86,453.22 405.12,455.43 405.38,452.6 405.64,451.24 405.89,450.08 406.15,453.13 406.41,449.64 406.67,452.87 406.93,449.55 407.19,451.89 407.45,455.12 407.71,452.35 407.96,451.19 408.22,448.2 408.48,452.83 408.74,450.61 409,453 409.26,450.48 409.52,447.8 409.78,448.4 410.03,448.33 410.29,448.59 410.55,451.96 410.81,448.44 411.07,447.21 411.33,445.87 411.59,451.49 411.85,454.28 412.1,449.52 412.36,445.3 412.62,446.27 412.88,446.92 413.14,446.88 413.4,447.94 413.66,445.5 413.92,445.48 414.17,448.07 414.43,448.73 414.69,444.45 414.95,447.33 415.21,446.52 415.47,448.01 415.73,452.22 415.99,448.66 416.24,448.01 416.5,450.67 416.76,443.61 417.02,447.26 417.28,446.12 417.54,446.41 417.8,446.87 418.06,447.23 418.31,450.2 418.57,451.03 418.83,448.74 419.09,447.25 419.35,448.12 419.61,442.1 419.87,446.9 420.13,450.2 420.39,442.3 420.64,448.31 420.9,450.02 421.16,450.96 421.42,453.44 421.68,452.72 421.94,454.34 422.2,449.25 422.46,452.39 422.71,453.84 422.97,454.57 423.23,452.14 423.49,452.26 423.75,450.65 424.01,451.24 424.27,451.09 424.53,451.94 424.78,452.33 425.04,449.74 425.3,450.98 425.56,453.89 425.82,450.54 426.08,453.18 426.34,451.15 426.6,448.31 426.85,447.37 427.11,448.88 427.37,448.05 427.63,449.08 427.89,449 428.15,450.9 428.41,453.85 428.67,452.58 428.92,451.31 429.18,452.71 429.44,453.5 429.7,452.63 429.96,453.24 430.22,454.54 430.48,451.29 430.74,453.19 430.99,453.17 431.25,453.58 431.51,451.49 431.77,453.76 432.03,450.18 432.29,451.89 432.55,453.62 432.81,454.7 433.06,454.3 433.32,453.01 433.58,452.21 433.84,452.5 434.1,449.08 434.36,446.84 434.62,454.24 434.88,448.1 435.13,447.52 435.39,448.3 435.65,452.87 435.91,452.18 436.17,452.75 436.43,452.79 436.69,453.78 436.95,452.52 437.2,452.94 437.46,453.27 437.72,450.68 437.98,447.31 438.24,448.1 438.5,451.28 438.76,453.91 439.02,449.15 439.27,448.95 439.53,450.6 439.79,450.75 440.05,450.77 440.31,452.26 440.57,451.71 440.83,446.1 441.09,443.9 441.34,442.26 441.6,441.07 441.86,439.68 442.12,438.77 442.38,436.14 442.64,431.8 442.9,430.59 443.16,419.33 443.41,412.22 443.67,418.38 443.93,417.07 444.19,419.97 444.45,416.38 444.71,418.65 444.97,429.27 445.23,414.5 445.48,421.27 445.74,421.38 446,420.59 446.26,423.87 446.52,431.1 446.78,434.36 447.04,431.96 447.3,428.64 447.55,434.99 447.81,430.1 448.07,433.53 448.33,435 448.59,440.64 448.85,439.22 449.11,441.95 449.37,443.67 449.62,443.55 449.88,442.59 450.14,442.64 450.4,441.33 450.66,441.84 450.92,444.24 451.18,441.53 451.44,443.6 451.69,443.6 451.95,446.16 452.21,443 452.47,447.3 452.73,445.32 452.99,445.7 453.25,448.7 453.51,449.47 453.76,449.99 454.02,449.23 454.28,449.74 454.54,450.13 454.8,450.68 455.06,450.44 455.32,449.22 455.58,451.16 455.84,448.91 456.09,447.74 456.35,448.43 456.61,447.92 456.87,449.47 457.13,446.76 457.39,450.43 457.65,447.54 457.91,448.76 458.16,451.33 458.42,447.77 458.68,450.82 458.94,451.39 459.2,448.81 459.46,447.98 459.72,448.84 459.98,451.11 460.23,450.12 460.49,452.44 460.75,450.5 461.01,450.65 461.27,451.29 461.53,450.87 461.79,451.36 462.05,450.15 462.3,450.59 462.56,448.85 462.82,451 463.08,450.75 463.34,450.9 463.6,448.52 463.86,450.7 464.12,450.79 464.37,450.68 464.63,450.74 464.89,452.47 465.15,450.07 465.41,449.9 465.67,450.17 465.93,450.14 466.19,449.52 466.44,451.09 466.7,450.05 466.96,452.91 467.22,452.3 467.48,450.39 467.74,451.44 468,448.31 468.26,449.18 468.51,447.84 468.77,448.12 469.03,448.02 469.29,450.43 469.55,449.98 469.81,448.07 470.07,449.91 470.33,450.77 470.58,452.86 470.84,452.23 471.1,451.95 471.36,450.46 471.62,450.11 471.88,449.44 472.14,451.34 472.4,453.44 472.65,453.37 472.91,453.41 473.17,453.09 473.43,451.85 473.69,453.35 473.95,452.52 474.21,453.19 474.47,453.59 474.72,452.12 474.98,454.18 475.24,454.2 475.5,453.08 475.76,450.59 476.02,449.71 476.28,451.94 476.54,453.46 476.79,451.75 477.05,452.33 477.31,452.92 477.57,452.85 477.83,453.95 478.09,453.72 478.35,453.62 478.61,453.45 478.86,453.59 479.12,452.91 479.38,453.48 479.64,453.54 479.9,453.52 480.16,453.26 480.42,450.63 480.68,452.92 480.93,449.21 481.19,452.44 481.45,453.64 481.71,450.54 481.97,452.07 482.23,452.66 482.49,450 482.75,452.53 483,452.44 483.26,451.12 483.52,447.86 483.78,447.04 484.04,448.25 484.3,448.07 484.56,447.99 484.82,448.44 485.07,450.56 485.33,451.31 485.59,451.24 485.85,450.65 486.11,452.38 486.37,450.21 486.63,449.96 486.89,446.9 487.14,448.46 487.4,447.51 487.66,451.64 487.92,451.27 488.18,447.09 488.44,448.36 488.7,450.22 488.96,447.96 489.21,449.53 489.47,450.09 489.73,450.1 489.99,449.26 490.25,450.5 490.51,449.46 490.77,449.33 491.03,447.77 491.29,446.94 491.54,447.98 491.8,447.34 492.06,450.93 492.32,450.84 492.58,448.29 492.84,447.4 493.1,450.62 493.36,451.4 493.61,451.4 493.87,451.38 494.13,450.78 494.39,449.97 494.65,448.93 494.91,450.44 495.17,446.98 495.43,449.67 495.68,449.67 495.94,446.45 496.2,446.08 496.46,449.36 496.72,449.4 496.98,447.81 497.24,452.47 497.5,450.58 497.75,449.49 498.01,448.35 498.27,450.8 498.53,452.89 498.79,452.72 499.05,451.52 499.31,447.13 499.57,452.01 499.82,449.17 500.08,448.42 500.34,449.42 500.6,452 500.86,449.68 501.12,448.18 501.38,447.44 501.64,449.24 501.89,451.54 502.15,447.2 502.41,447.59 502.67,448.1 502.93,447.71 503.19,448.39 503.45,448.47 503.71,451.83 503.96,452.43 504.22,452.57 504.48,451.86 504.74,450.94 505,450 505.26,452.66 505.52,451.47 505.78,449.78 506.03,447.83 506.29,446.1 506.55,451.56 506.81,448.43 507.07,448.28 507.33,445.43 507.59,450.07 507.85,445.23 508.1,445.82 508.36,445.6 508.62,451.39 508.88,444.97 509.14,450.56 509.4,446.89 509.66,444.55 509.92,448.17 510.17,445.45 510.43,444.5 510.69,445.26 510.95,446.76 511.21,442.12 511.47,443.35 511.73,442.64 511.99,448.22 512.24,448.26 512.5,444.64 512.76,446.88 513.02,449.8 513.28,447.08 513.54,446.75 513.8,445.68 514.06,448.82 514.31,447.93 514.57,448.51 514.83,447.79 515.09,444.67 515.35,451.13 515.61,449.9 515.87,448.43 516.13,441.8 516.38,448.19 516.64,450.1 516.9,450.5 517.16,448.4 517.42,450 517.68,446.26 517.94,447.14 518.2,449.96 518.45,451.76 518.71,450.63 518.97,446.11 519.23,448.9 519.49,446.55 519.75,448.8 520.01,449.2 520.27,452.69 520.52,451.9 520.78,450.74 521.04,445.31 521.3,448.31 521.56,448.96 521.82,448.46 522.08,447.07 522.34,448.27 522.59,452.41 522.85,448.96 523.11,446.59 523.37,449.92 523.63,450.8 523.89,444.88 524.15,446.23 524.41,450.13 524.66,447.67 524.92,448.97 525.18,446.92 525.44,449.56 525.7,450.06 525.96,451.56 526.22,452.6 526.48,452.9 526.74,452.17 526.99,450.58 527.25,451.38 527.51,451.82 527.77,452.43 528.03,450.88 528.29,450.81 528.55,450.3 528.81,450.59 529.06,450.94 529.32,450.39 529.58,451.89 529.84,451.14 530.1,450.88 530.36,449.26 530.62,447.87 530.88,450.38 531.13,450.95 531.39,449.32 531.65,450.54 531.91,451.27 532.17,450.24 532.43,450.17 532.69,448.92 532.95,449.61 533.2,446.97 533.46,443.16 533.72,445.34 533.98,438.34 534.24,440.77 534.5,438.23 534.76,438.89 535.02,442.13 535.27,443.78 535.53,439.06 535.79,438.51 536.05,438.18 536.31,437.07 536.57,438.45 536.83,436.11 537.09,432.87 537.34,424.02 537.6,428.17 537.86,426.35 538.12,405.38 538.38,418.17 538.64,424.32 538.9,422.29 539.16,421.5 539.41,423.43 539.67,423.43 539.93,416.86 540.19,412.66 540.45,420.85 540.71,400.82 540.97,419.71 541.23,421.9 541.48,426.61 541.74,419.11 542,426.5 542.26,424.86 542.52,423.2 542.78,426.02 543.04,428.15 543.3,431.6 543.55,430.44 543.81,438.04 544.07,439.82 544.33,439.01 544.59,441.28 544.85,442.3 545.11,440.32 545.37,439.99 545.62,440.63 545.88,440.59 546.14,439.81 546.4,439.18 546.66,439.42 546.92,439.6 547.18,440.61 547.44,444.42 547.69,445.11 547.95,445.21 548.21,443.29 548.47,444.35 548.73,444.9 548.99,446.87 549.25,447.86 549.51,444.38 549.76,447.42 550.02,445.73 550.28,446.06 550.54,444.56 550.8,445.42 551.06,446.76 551.32,444.11 551.58,448.4 551.83,444.83 552.09,447.11 552.35,446.91 552.61,445 552.87,444.3 553.13,445.44 553.39,446.17 553.65,446.82 553.9,446.7 554.16,448.22 554.42,446.66 554.68,446.91 554.94,445.6 555.2,446.84 555.46,448.2 555.72,447.84 555.97,448.39 556.23,448.71 556.49,450.23 556.75,445.21 557.01,448.33 557.27,449.28 557.53,449.81 557.79,450.52 558.04,451.23 558.3,451.82 558.56,450.73 558.82,451.04 559.08,451.36 559.34,451.95 559.6,449.7 559.86,451.05 560.11,450.07 560.37,451.62 560.63,450.16 560.89,452.41 561.15,451.37 561.41,450.45 561.67,451.63 561.93,452.48 562.19,447.3 562.44,451.11 562.7,452.32 562.96,451.57 563.22,452.53 563.48,452.38 563.74,452.18 564,451.07 564.26,448.81 564.51,450.75 564.77,452.96 565.03,448.29 565.29,448.52 565.55,452.87 565.81,452.11 566.07,452.57 566.33,452.71 566.58,452.65 566.84,452.78 567.1,453.12 567.36,453.27 567.62,453.23 567.88,453.02 568.14,451.37 568.4,451.04 568.65,452.37 568.91,452.68 569.17,453.49 569.43,449.66 569.69,451.35 569.95,453.12 570.21,453.08 570.47,453.52 570.72,452.7 570.98,453.69 571.24,453.51 571.5,452.88 571.76,452.65 572.02,453.79 572.28,452.62 572.54,453.28 572.79,452.86 573.05,450.44 573.31,453.19 573.57,453.7 573.83,454 574.09,452.96 574.35,453.27 574.61,452.19 574.86,449.28 575.12,452.06 575.38,450.98 575.64,452.47 575.9,451.27 576.16,451.29 576.42,454.14 576.68,452.08 576.93,452.89 577.19,454.07 577.45,451.56 577.71,452.17 577.97,451.22 578.23,455.41 578.49,455.71 578.75,455.71 579,455.06 579.26,456.18 579.52,456.11 579.78,455.74 580.04,454.96 580.3,455.39 580.56,455.43 580.82,454.38 581.07,454.23 581.33,454.38 581.59,454.1 581.85,454.49 582.11,454.95 582.37,454.3 582.63,454.21 582.89,454.05 583.14,454.01 583.4,454.05 583.66,454.13 583.92,454.89 584.18,454.57 584.44,454.28 584.7,454.4 584.96,454.29 585.21,454.38 585.47,454.75 585.73,455.38 585.99,454.51 586.25,455.85 586.51,454.9 586.77,455.95 587.03,454.38 587.28,454.22 587.54,454.61 587.8,455.74 588.06,455.96 588.32,456.04 588.58,456.15 588.84,455.99 589.1,455.17 589.35,454.93 589.61,454.88 589.87,455.94 590.13,454.46 590.39,453.35 590.65,452.44 590.91,452.88 591.17,452.88 591.42,452.43 591.68,451.95 591.94,452.89 592.2,452.33 592.46,450.37 592.72,449.65 592.98,452.3 593.24,450.59 593.49,448.49 593.75,449.67 594.01,451.45 594.27,452.2 594.53,450.41 594.79,452.16 595.05,452.72 595.31,452.39 595.56,452.55 595.82,453.01 596.08,453.01 596.34,452.88 596.6,452.95 596.86,448.04 597.12,450.65 597.38,451.59 597.64,451.11 597.89,451.52 598.15,447.87 598.41,451.88 598.67,451.93 598.93,448.58 599.19,449.55 599.45,449.62 599.71,451.69 599.96,447.69 600.22,448.3 600.48,447.65 600.74,447.85 601,448.77 601.26,448.28 601.52,449.41 601.78,449.02 602.03,448.89 602.29,449.22 602.55,449.74 602.81,450.52 603.07,449.73 603.33,449.42 603.59,449.9 603.85,450.1 604.1,450.53 604.36,453.14 604.62,451 604.88,454.75 605.14,454.05 605.4,454.96 605.66,452.86 605.92,452.52 606.17,453.46 606.43,452.99 606.69,451.43 606.95,453.72 607.21,451.67 607.47,452.21 607.73,451.43 607.99,450.85 608.24,450.32 608.5,452.69 608.76,454.03 609.02,451.65 609.28,450.54 609.54,454.47 609.8,452.1 610.06,450.55 610.31,449.88 610.57,449.35 610.83,450.59 611.09,449.17 611.35,449.57 611.61,452.93 611.87,451.7 612.13,451.82 612.38,450.7 612.64,450.72 612.9,450.07 613.16,452 613.42,448.63 613.68,451.34 613.94,454.15 614.2,452.17 614.45,450.58 614.71,448.18 614.97,448.22 615.23,447.99 615.49,447.81 615.75,451.03 616.01,449.75 616.27,450.6 616.52,452.05 616.78,446.57 617.04,449.18 617.3,448.85 617.56,450.53 617.82,451.6 618.08,453.34 618.34,453.5 618.59,452.3 618.85,450.92 619.11,451.41 619.37,448.5 619.63,449.08 619.89,448.16 620.15,446.76 620.41,446.79 620.66,451.85 620.92,449.3 621.18,452.3 621.44,449.59 621.7,451.88 621.96,447.24 622.22,447.64 622.48,451.68 622.73,452.73 622.99,452.07 623.25,451.96 623.51,449.63 623.77,445.59 624.03,447.8 624.29,447.96 624.55,450.06 624.8,450.43 625.06,449.04 625.32,453.26 625.58,450.53 625.84,451.64 626.1,451.27 626.36,449.71 626.62,446.86 626.87,447.23 627.13,442.86 627.39,445.39 627.65,447.45 627.91,449.12 628.17,444.3 628.43,440.02 628.69,444.22 628.94,438.8 629.2,438.06 629.46,439.04 629.72,444.82 629.98,432.8 630.24,427.3 630.5,428.42 630.76,420.43 631.01,418.28 631.27,410.02 631.53,412.71 631.79,408.54 632.05,412 632.31,401.96 632.57,395.12 632.83,408.81 633.09,405.56 633.34,400.17 633.6,389.42 633.86,405.06 634.12,399.76 634.38,403.04 634.64,403.36 634.9,413.27 635.16,419.16 635.41,421.44 635.67,433.39 635.93,434.65 636.19,434.95 636.45,430.97 636.71,437.39 636.97,435.79 637.23,435.79 637.48,432.34 637.74,438.38 638,438.99 638.26,434.07 638.52,441.27 638.78,443.62 639.04,444.39 639.3,443.71 639.55,442.07 639.81,450.68 640.07,449.17 640.33,449.74 640.59,450.81 640.85,449.54 641.11,450.48 641.37,450.05 641.62,449.61 641.88,448.78 642.14,450.07 642.4,451.88 642.66,451.88 642.92,452.63 643.18,452.56 643.44,452.62 643.69,451.27 643.95,446.9 644.21,450.42 644.47,448.23 644.73,447.74 644.99,446.6 645.25,445.86 645.51,445.35 645.76,445.52 646.02,446.42 646.28,448.37 646.54,452.95 646.8,451.7 647.06,446.2 647.32,452.16 647.58,450.23 647.83,450.7 648.09,448.69 648.35,448.39 648.61,450.94 648.87,452.28 649.13,453.2 649.39,447.55 649.65,446.92 649.9,446.97 650.16,446.95 650.42,447.38 650.68,447.27 650.94,450.4 651.2,449.42 651.46,446.6 651.72,446.71 651.97,449.34 652.23,454.36 652.49,454.35 652.75,451.17 653.01,451.09 653.27,453.42 653.53,448.65 653.79,452.83 654.04,453.16 654.3,453.2 654.56,450.52 654.82,450.01 655.08,453.3 655.34,452.43 655.6,453.65 655.86,452.95 656.11,454.1 656.37,452.5 656.63,450.24 656.89,452.5 657.15,453.23 657.41,452.33 657.67,450.81 657.93,450.33 658.18,451.85 658.44,453.52 658.7,453.5 658.96,453.16 659.22,453.4 659.48,453.96 659.74,453.6 660,453.44 660.25,448.85 660.51,448.64 660.77,450.3 661.03,453.24 661.29,450.54 661.55,451.42 661.81,453.48 662.07,452.21 662.32,452.69 662.58,454.04 662.84,452.95 663.1,453.39 663.36,453.18 663.62,451.88 663.88,453.85 664.14,454 664.39,453.59 664.65,452.19 664.91,453.77 665.17,451.42 665.43,450.95 665.69,448.38 665.95,452.35 666.21,452.94 666.46,450.94 666.72,450.98 666.98,452.13 667.24,448.29"/>
<rect x="370.2" y="372.4" width="310.8" height="13.55" fill="#D9D9D9"/>
<path d="M370.2,459.2V372.4H681V459.2Z" fill="none" stroke="#333" stroke-width="0.7"/>
<line x1="370.2" x2="681" y1="385.95" y2="385.95" stroke="#333" stroke-width="1.3"/>
<line x1="367.5" x2="370.2" y1="456.6" y2="456.6" stroke="#333" stroke-width="0.8"/>
<line x1="367.5" x2="370.2" y1="430.6" y2="430.6" stroke="#333" stroke-width="0.8"/>
<line x1="367.5" x2="370.2" y1="404.6" y2="404.6" stroke="#333" stroke-width="0.8"/>
<line x1="383.9" x2="383.9" y1="459.2" y2="461.9" stroke="#333" stroke-width="0.8"/>
<line x1="478.35" x2="478.35" y1="459.2" y2="461.9" stroke="#333" stroke-width="0.8"/>
<line x1="572.79" x2="572.79" y1="459.2" y2="461.9" stroke="#333" stroke-width="0.8"/>
<line x1="667.5" x2="667.5" y1="459.2" y2="461.9" stroke="#333" stroke-width="0.8"/>
</g><g filter="url(#bt)">
<text x="154.14" y="14.7" font-size="10.4" fill="#1A1A1A" stroke="#1A1A1A" stroke-width="0.18" textLength="16.07" lengthAdjust="spacingAndGlyphs">PM</text><text x="169.87" y="18" font-size="7.2" fill="#1A1A1A" stroke="#1A1A1A" stroke-width="0.18" textLength="9.3" lengthAdjust="spacingAndGlyphs">2.5</text><text x="180.46" y="14.7" font-size="10.0" fill="#1A1A1A" stroke="#1A1A1A" stroke-width="0.18" textLength="27.6" lengthAdjust="spacingAndGlyphs">(μg/m</text><text x="207.59" y="10.3" font-size="5.8" fill="#1A1A1A" stroke="#1A1A1A" stroke-width="0.18" textLength="2.93" lengthAdjust="spacingAndGlyphs">3</text><text x="211.35" y="14.7" font-size="10.0" fill="#1A1A1A" stroke="#1A1A1A" stroke-width="0.18" textLength="3.27" lengthAdjust="spacingAndGlyphs">)</text>
<text x="24.2" y="93.4" font-size="10.3" fill="#4D4D4D" stroke="#4D4D4D" stroke-width="0.12" text-anchor="end" textLength="5.51" lengthAdjust="spacingAndGlyphs">0</text>
<text x="24.2" y="76.93" font-size="10.3" fill="#4D4D4D" stroke="#4D4D4D" stroke-width="0.12" text-anchor="end" textLength="16.52" lengthAdjust="spacingAndGlyphs">100</text>
<text x="24.2" y="60.46" font-size="10.3" fill="#4D4D4D" stroke="#4D4D4D" stroke-width="0.12" text-anchor="end" textLength="16.52" lengthAdjust="spacingAndGlyphs">200</text>
<text x="24.2" y="43.99" font-size="10.3" fill="#4D4D4D" stroke="#4D4D4D" stroke-width="0.12" text-anchor="end" textLength="16.52" lengthAdjust="spacingAndGlyphs">300</text>
<text x="24.2" y="27.52" font-size="10.3" fill="#4D4D4D" stroke="#4D4D4D" stroke-width="0.12" text-anchor="end" textLength="16.52" lengthAdjust="spacingAndGlyphs">400</text>
<text x="497.24" y="14.4" font-size="10.4" fill="#1A1A1A" stroke="#1A1A1A" stroke-width="0.18" textLength="16.18" lengthAdjust="spacingAndGlyphs">PM</text><text x="513.28" y="16.4" font-size="5.2" fill="#1A1A1A" stroke="#1A1A1A" stroke-width="0.18" textLength="4.78" lengthAdjust="spacingAndGlyphs">10</text><text x="518.44" y="14.4" font-size="10.0" fill="#1A1A1A" stroke="#1A1A1A" stroke-width="0.18" textLength="28.44" lengthAdjust="spacingAndGlyphs">(μg/m</text><text x="546.24" y="9.4" font-size="5.6" fill="#1A1A1A" stroke="#1A1A1A" stroke-width="0.18" textLength="2.22" lengthAdjust="spacingAndGlyphs">3</text><text x="548.84" y="14.4" font-size="10.0" fill="#1A1A1A" stroke="#1A1A1A" stroke-width="0.18" textLength="3.77" lengthAdjust="spacingAndGlyphs">)</text>
<text x="366.2" y="93.82" font-size="10.3" fill="#4D4D4D" stroke="#4D4D4D" stroke-width="0.12" text-anchor="end" textLength="5.51" lengthAdjust="spacingAndGlyphs">0</text>
<text x="366.2" y="76.69" font-size="10.3" fill="#4D4D4D" stroke="#4D4D4D" stroke-width="0.12" text-anchor="end" textLength="16.52" lengthAdjust="spacingAndGlyphs">100</text>
<text x="366.2" y="59.56" font-size="10.3" fill="#4D4D4D" stroke="#4D4D4D" stroke-width="0.12" text-anchor="end" textLength="16.52" lengthAdjust="spacingAndGlyphs">200</text>
<text x="366.2" y="42.43" font-size="10.3" fill="#4D4D4D" stroke="#4D4D4D" stroke-width="0.12" text-anchor="end" textLength="16.52" lengthAdjust="spacingAndGlyphs">300</text>
<text x="366.2" y="25.3" font-size="10.3" fill="#4D4D4D" stroke="#4D4D4D" stroke-width="0.12" text-anchor="end" textLength="16.52" lengthAdjust="spacingAndGlyphs">400</text>
<text x="156.89" y="107.75" font-size="10.2" fill="#1A1A1A" stroke="#1A1A1A" stroke-width="0.18" textLength="15.22" lengthAdjust="spacingAndGlyphs">NO</text><text x="171.98" y="110.45" font-size="5.4" fill="#1A1A1A" stroke="#1A1A1A" stroke-width="0.18" textLength="2.44" lengthAdjust="spacingAndGlyphs">2</text><text x="175.84" y="107.75" font-size="10.0" fill="#1A1A1A" stroke="#1A1A1A" stroke-width="0.18" textLength="28.23" lengthAdjust="spacingAndGlyphs">(μg/m</text><text x="203.66" y="102.95" font-size="5.6" fill="#1A1A1A" stroke="#1A1A1A" stroke-width="0.18" textLength="1.99" lengthAdjust="spacingAndGlyphs">3</text><text x="206.45" y="107.75" font-size="10.0" fill="#1A1A1A" stroke="#1A1A1A" stroke-width="0.18" textLength="3.14" lengthAdjust="spacingAndGlyphs">)</text>
<text x="24.2" y="172.23" font-size="10.3" fill="#4D4D4D" stroke="#4D4D4D" stroke-width="0.12" text-anchor="end" textLength="11.01" lengthAdjust="spacingAndGlyphs">25</text>
<text x="24.2" y="153.31" font-size="10.3" fill="#4D4D4D" stroke="#4D4D4D" stroke-width="0.12" text-anchor="end" textLength="11.01" lengthAdjust="spacingAndGlyphs">50</text>
<text x="24.2" y="134.39" font-size="10.3" fill="#4D4D4D" stroke="#4D4D4D" stroke-width="0.12" text-anchor="end" textLength="11.01" lengthAdjust="spacingAndGlyphs">75</text>
<text x="24.2" y="115.47" font-size="10.3" fill="#4D4D4D" stroke="#4D4D4D" stroke-width="0.12" text-anchor="end" textLength="16.52" lengthAdjust="spacingAndGlyphs">100</text>
<text x="499.83" y="107.4" font-size="10.2" fill="#1A1A1A" stroke="#1A1A1A" stroke-width="0.18" textLength="15.2" lengthAdjust="spacingAndGlyphs">SO</text><text x="514.92" y="109.95" font-size="5.2" fill="#1A1A1A" stroke="#1A1A1A" stroke-width="0.18" textLength="1.96" lengthAdjust="spacingAndGlyphs">2</text><text x="519.89" y="107.4" font-size="10.0" fill="#1A1A1A" stroke="#1A1A1A" stroke-width="0.18" textLength="26.34" lengthAdjust="spacingAndGlyphs">(μg/m</text><text x="546.75" y="101.25" font-size="5.6" fill="#1A1A1A" stroke="#1A1A1A" stroke-width="0.18" textLength="2.11" lengthAdjust="spacingAndGlyphs">3</text><text x="550.35" y="107.4" font-size="10.0" fill="#1A1A1A" stroke="#1A1A1A" stroke-width="0.18" textLength="3.27" lengthAdjust="spacingAndGlyphs">)</text>
<text x="366.2" y="187.47" font-size="10.3" fill="#4D4D4D" stroke="#4D4D4D" stroke-width="0.12" text-anchor="end" textLength="5.51" lengthAdjust="spacingAndGlyphs">0</text>
<text x="366.2" y="165.89" font-size="10.3" fill="#4D4D4D" stroke="#4D4D4D" stroke-width="0.12" text-anchor="end" textLength="11.01" lengthAdjust="spacingAndGlyphs">20</text>
<text x="366.2" y="144.31" font-size="10.3" fill="#4D4D4D" stroke="#4D4D4D" stroke-width="0.12" text-anchor="end" textLength="11.01" lengthAdjust="spacingAndGlyphs">40</text>
<text x="366.2" y="122.73" font-size="10.3" fill="#4D4D4D" stroke="#4D4D4D" stroke-width="0.12" text-anchor="end" textLength="11.01" lengthAdjust="spacingAndGlyphs">60</text>
<text x="159.67" y="197.6" font-size="10.2" fill="#1A1A1A" stroke="#1A1A1A" stroke-width="0.18" textLength="7.38" lengthAdjust="spacingAndGlyphs">O</text><text x="168.46" y="200.9" font-size="5.6" fill="#1A1A1A" stroke="#1A1A1A" stroke-width="0.18" textLength="1.99" lengthAdjust="spacingAndGlyphs">3</text><text x="173.25" y="197.6" font-size="10.0" fill="#1A1A1A" stroke="#1A1A1A" stroke-width="0.18" textLength="27.81" lengthAdjust="spacingAndGlyphs">(μg/m</text><text x="200.63" y="192.8" font-size="5.6" fill="#1A1A1A" stroke="#1A1A1A" stroke-width="0.18" textLength="2.34" lengthAdjust="spacingAndGlyphs">3</text><text x="204.36" y="197.6" font-size="10.0" fill="#1A1A1A" stroke="#1A1A1A" stroke-width="0.18" textLength="2.51" lengthAdjust="spacingAndGlyphs">)</text>
<text x="24.2" y="279.55" font-size="10.3" fill="#4D4D4D" stroke="#4D4D4D" stroke-width="0.12" text-anchor="end" textLength="5.51" lengthAdjust="spacingAndGlyphs">0</text>
<text x="24.2" y="259.85" font-size="10.3" fill="#4D4D4D" stroke="#4D4D4D" stroke-width="0.12" text-anchor="end" textLength="11.01" lengthAdjust="spacingAndGlyphs">50</text>
<text x="24.2" y="240.15" font-size="10.3" fill="#4D4D4D" stroke="#4D4D4D" stroke-width="0.12" text-anchor="end" textLength="16.52" lengthAdjust="spacingAndGlyphs">100</text>
<text x="24.2" y="220.45" font-size="10.3" fill="#4D4D4D" stroke="#4D4D4D" stroke-width="0.12" text-anchor="end" textLength="16.52" lengthAdjust="spacingAndGlyphs">150</text>
<text x="487.9" y="199.5" font-size="10.4" fill="#1A1A1A" stroke="#1A1A1A" stroke-width="0.18" textLength="75.74" lengthAdjust="spacingAndGlyphs">Temperature (°C)</text>
<text x="366.2" y="269.18" font-size="10.3" fill="#4D4D4D" stroke="#4D4D4D" stroke-width="0.12" text-anchor="end" textLength="14.31" lengthAdjust="spacingAndGlyphs">-20</text>
<text x="366.2" y="257.18" font-size="10.3" fill="#4D4D4D" stroke="#4D4D4D" stroke-width="0.12" text-anchor="end" textLength="14.31" lengthAdjust="spacingAndGlyphs">-10</text>
<text x="366.2" y="245.18" font-size="10.3" fill="#4D4D4D" stroke="#4D4D4D" stroke-width="0.12" text-anchor="end" textLength="5.51" lengthAdjust="spacingAndGlyphs">0</text>
<text x="366.2" y="233.18" font-size="10.3" fill="#4D4D4D" stroke="#4D4D4D" stroke-width="0.12" text-anchor="end" textLength="11.01" lengthAdjust="spacingAndGlyphs">10</text>
<text x="366.2" y="221.19" font-size="10.3" fill="#4D4D4D" stroke="#4D4D4D" stroke-width="0.12" text-anchor="end" textLength="11.01" lengthAdjust="spacingAndGlyphs">20</text>
<text x="366.2" y="209.19" font-size="10.3" fill="#4D4D4D" stroke="#4D4D4D" stroke-width="0.12" text-anchor="end" textLength="11.01" lengthAdjust="spacingAndGlyphs">30</text>
<text x="143.01" y="291.2" font-size="10.4" fill="#1A1A1A" stroke="#1A1A1A" stroke-width="0.18" textLength="93" lengthAdjust="spacingAndGlyphs">Relative humidity (%)</text>
<text x="24.2" y="360.33" font-size="10.3" fill="#4D4D4D" stroke="#4D4D4D" stroke-width="0.12" text-anchor="end" textLength="11.01" lengthAdjust="spacingAndGlyphs">25</text>
<text x="24.2" y="340.76" font-size="10.3" fill="#4D4D4D" stroke="#4D4D4D" stroke-width="0.12" text-anchor="end" textLength="11.01" lengthAdjust="spacingAndGlyphs">50</text>
<text x="24.2" y="321.19" font-size="10.3" fill="#4D4D4D" stroke="#4D4D4D" stroke-width="0.12" text-anchor="end" textLength="11.01" lengthAdjust="spacingAndGlyphs">75</text>
<text x="24.2" y="301.62" font-size="10.3" fill="#4D4D4D" stroke="#4D4D4D" stroke-width="0.12" text-anchor="end" textLength="16.52" lengthAdjust="spacingAndGlyphs">100</text>
<text x="461.1" y="291.15" font-size="10.4" fill="#1A1A1A" stroke="#1A1A1A" stroke-width="0.18" textLength="127.93" lengthAdjust="spacingAndGlyphs">Average wind speed (0.1m/s)</text>
<text x="366.2" y="370.58" font-size="10.3" fill="#4D4D4D" stroke="#4D4D4D" stroke-width="0.12" text-anchor="end" textLength="5.51" lengthAdjust="spacingAndGlyphs">0</text>
<text x="366.2" y="349.51" font-size="10.3" fill="#4D4D4D" stroke="#4D4D4D" stroke-width="0.12" text-anchor="end" textLength="11.01" lengthAdjust="spacingAndGlyphs">20</text>
<text x="366.2" y="328.44" font-size="10.3" fill="#4D4D4D" stroke="#4D4D4D" stroke-width="0.12" text-anchor="end" textLength="11.01" lengthAdjust="spacingAndGlyphs">40</text>
<text x="366.2" y="307.37" font-size="10.3" fill="#4D4D4D" stroke="#4D4D4D" stroke-width="0.12" text-anchor="end" textLength="11.01" lengthAdjust="spacingAndGlyphs">60</text>
<text x="119.41" y="382.9" font-size="10.4" fill="#1A1A1A" stroke="#1A1A1A" stroke-width="0.18" textLength="129.3" lengthAdjust="spacingAndGlyphs">Barometric pressure (0.1hPa)</text>
<text x="4" y="453.34" font-size="10.3" fill="#4D4D4D" stroke="#4D4D4D" stroke-width="0.12" textLength="20.02" lengthAdjust="spacingAndGlyphs">9700</text>
<text x="4" y="438.77" font-size="10.3" fill="#4D4D4D" stroke="#4D4D4D" stroke-width="0.12" textLength="20.02" lengthAdjust="spacingAndGlyphs">9800</text>
<text x="4" y="424.2" font-size="10.3" fill="#4D4D4D" stroke="#4D4D4D" stroke-width="0.12" textLength="20.02" lengthAdjust="spacingAndGlyphs">9900</text>
<text x="0.33" y="409.63" font-size="10.3" fill="#4D4D4D" stroke="#4D4D4D" stroke-width="0.12" textLength="24.89" lengthAdjust="spacingAndGlyphs">10000</text>
<text x="0.33" y="395.06" font-size="10.3" fill="#4D4D4D" stroke="#4D4D4D" stroke-width="0.12" textLength="24.89" lengthAdjust="spacingAndGlyphs">10100</text>
<text x="44.85" y="470.6" font-size="10.0" fill="#4D4D4D" stroke="#4D4D4D" stroke-width="0.12" text-anchor="middle" textLength="31.6" lengthAdjust="spacingAndGlyphs">Jan 1st</text>
<text x="44.85" y="481.2" font-size="10.0" fill="#4D4D4D" stroke="#4D4D4D" stroke-width="0.12" text-anchor="middle">2018</text>
<text x="137.3" y="470.6" font-size="10.0" fill="#4D4D4D" stroke="#4D4D4D" stroke-width="0.12" text-anchor="middle" textLength="31.6" lengthAdjust="spacingAndGlyphs">Jan 1st</text>
<text x="137.3" y="481.2" font-size="10.0" fill="#4D4D4D" stroke="#4D4D4D" stroke-width="0.12" text-anchor="middle">2019</text>
<text x="231.2" y="470.6" font-size="10.0" fill="#4D4D4D" stroke="#4D4D4D" stroke-width="0.12" text-anchor="middle" textLength="31.6" lengthAdjust="spacingAndGlyphs">Jan 1st</text>
<text x="231.2" y="481.2" font-size="10.0" fill="#4D4D4D" stroke="#4D4D4D" stroke-width="0.12" text-anchor="middle">2020</text>
<text x="325.8" y="470.6" font-size="10.0" fill="#4D4D4D" stroke="#4D4D4D" stroke-width="0.12" text-anchor="middle" textLength="31.6" lengthAdjust="spacingAndGlyphs">Jan 1st</text>
<text x="325.8" y="481.2" font-size="10.0" fill="#4D4D4D" stroke="#4D4D4D" stroke-width="0.12" text-anchor="middle">2021</text>
<text x="501.2" y="382.85" font-size="10.4" fill="#1A1A1A" stroke="#1A1A1A" stroke-width="0.18" textLength="48.64" lengthAdjust="spacingAndGlyphs">AR (cases)</text>
<text x="366.2" y="460.4" font-size="10.3" fill="#4D4D4D" stroke="#4D4D4D" stroke-width="0.12" text-anchor="end" textLength="5.51" lengthAdjust="spacingAndGlyphs">0</text>
<text x="366.2" y="434.4" font-size="10.3" fill="#4D4D4D" stroke="#4D4D4D" stroke-width="0.12" text-anchor="end" textLength="11.01" lengthAdjust="spacingAndGlyphs">50</text>
<text x="366.2" y="408.4" font-size="10.3" fill="#4D4D4D" stroke="#4D4D4D" stroke-width="0.12" text-anchor="end" textLength="16.52" lengthAdjust="spacingAndGlyphs">100</text>
<text x="384.5" y="470.6" font-size="10.0" fill="#4D4D4D" stroke="#4D4D4D" stroke-width="0.12" text-anchor="middle" textLength="31.6" lengthAdjust="spacingAndGlyphs">Jan 1st</text>
<text x="384.5" y="481.2" font-size="10.0" fill="#4D4D4D" stroke="#4D4D4D" stroke-width="0.12" text-anchor="middle">2018</text>
<text x="478.7" y="470.6" font-size="10.0" fill="#4D4D4D" stroke="#4D4D4D" stroke-width="0.12" text-anchor="middle" textLength="31.6" lengthAdjust="spacingAndGlyphs">Jan 1st</text>
<text x="478.7" y="481.2" font-size="10.0" fill="#4D4D4D" stroke="#4D4D4D" stroke-width="0.12" text-anchor="middle">2019</text>
<text x="573" y="470.6" font-size="10.0" fill="#4D4D4D" stroke="#4D4D4D" stroke-width="0.12" text-anchor="middle" textLength="31.6" lengthAdjust="spacingAndGlyphs">Jan 1st</text>
<text x="573" y="481.2" font-size="10.0" fill="#4D4D4D" stroke="#4D4D4D" stroke-width="0.12" text-anchor="middle">2020</text>
<text x="666.4" y="470.6" font-size="10.0" fill="#4D4D4D" stroke="#4D4D4D" stroke-width="0.12" text-anchor="middle" textLength="31.6" lengthAdjust="spacingAndGlyphs">Jan 1st</text>
<text x="666.4" y="481.2" font-size="10.0" fill="#4D4D4D" stroke="#4D4D4D" stroke-width="0.12" text-anchor="middle">2021</text>
</g></svg></body></html>
